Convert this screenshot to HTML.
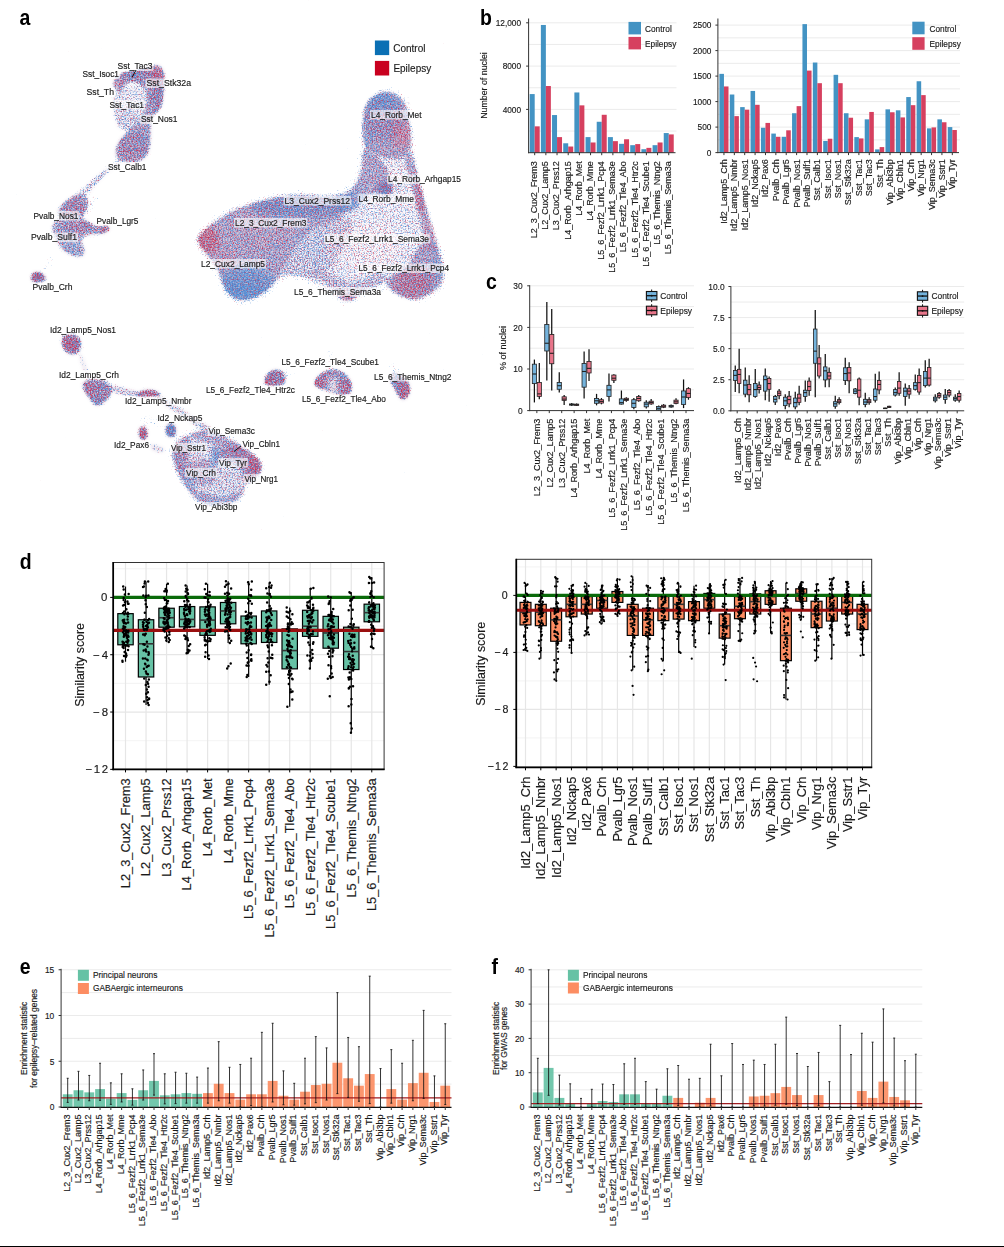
<!DOCTYPE html>
<html><head><meta charset="utf-8"><title>Figure</title>
<style>html,body{margin:0;padding:0;background:#fff}svg{display:block}text{font-family:"Liberation Sans",sans-serif;fill:#1a1a1a;stroke:#1a1a1a;stroke-width:.16px}</style></head>
<body>
<svg width="1004" height="1247" viewBox="0 0 1004 1247">
<rect width="1004" height="1247" fill="#fff"/>
<defs><filter id="b2" filterUnits="userSpaceOnUse" x="0" y="0" width="502" height="545"><feGaussianBlur stdDeviation="1.4"/></filter><filter id="b4" filterUnits="userSpaceOnUse" x="0" y="0" width="502" height="545"><feGaussianBlur stdDeviation="3.2"/></filter>
<filter id="spR" filterUnits="userSpaceOnUse" x="0" y="0" width="502" height="545" color-interpolation-filters="sRGB"><feTurbulence type="fractalNoise" baseFrequency="0.72" numOctaves="2" seed="3" result="n"/><feColorMatrix in="n" type="matrix" values="0 0 0 0 0 0 0 0 0 0 0 0 0 0 0 1 0 0 0 0" result="na"/><feComposite in="na" in2="SourceGraphic" operator="arithmetic" k1="0" k2="1" k3="0.83" k4="-0.88" result="s"/><feColorMatrix in="s" type="matrix" values="0 0 0 0 0.8 0 0 0 0 0.19 0 0 0 0 0.33 0 0 0 2.5 0"/><feGaussianBlur stdDeviation="0.45"/></filter>
<filter id="spB" filterUnits="userSpaceOnUse" x="0" y="0" width="502" height="545" color-interpolation-filters="sRGB"><feTurbulence type="fractalNoise" baseFrequency="0.72" numOctaves="2" seed="11" result="n"/><feColorMatrix in="n" type="matrix" values="0 0 0 0 0 0 0 0 0 0 0 0 0 0 0 1 0 0 0 0" result="na"/><feComposite in="na" in2="SourceGraphic" operator="arithmetic" k1="0" k2="1" k3="0.83" k4="-0.88" result="s"/><feColorMatrix in="s" type="matrix" values="0 0 0 0 0.3 0 0 0 0 0.55 0 0 0 0 0.84 0 0 0 2.5 0"/><feGaussianBlur stdDeviation="0.45"/></filter>
<mask id="mR" maskUnits="userSpaceOnUse" x="0" y="0" width="502" height="545"><rect width="502" height="545" fill="#7c7c7c"/><g filter="url(#b4)">
<ellipse cx="157.45" cy="72.87" rx="7.67" ry="8.76" fill="#fff" opacity="0.16"/>
<ellipse cx="117.61" cy="82.83" rx="6.14" ry="4.82" fill="#fff" opacity="0.16"/>
<ellipse cx="131.55" cy="73.86" rx="8.76" ry="5.48" fill="#000" opacity="0.09"/>
<ellipse cx="157.45" cy="99.76" rx="5.48" ry="10.96" fill="#000" opacity="0.05"/>
<ellipse cx="131.55" cy="151.55" rx="10.96" ry="8.76" fill="#fff" opacity="0.05"/>
<ellipse cx="143.51" cy="135.62" rx="6.57" ry="10.96" fill="#000" opacity="0.05"/>
<ellipse cx="104.82" cy="229.76" rx="5.26" ry="4.38" fill="#fff" opacity="0.24"/>
<ellipse cx="73.75" cy="206.65" rx="10.52" ry="8.76" fill="#fff" opacity="0.05"/>
<ellipse cx="72.15" cy="249.68" rx="8.76" ry="7.01" fill="#000" opacity="0.12"/>
<ellipse cx="80.12" cy="227.37" rx="10.52" ry="5.26" fill="#fff" opacity="0.07"/>
<ellipse cx="62.59" cy="225.78" rx="7.01" ry="5.26" fill="#000" opacity="0.05"/>
<ellipse cx="34.7" cy="276.14" rx="4.21" ry="3.51" fill="#fff" opacity="0.39"/>
<ellipse cx="41.55" cy="280.28" rx="4.38" ry="2.1" fill="#000" opacity="0.35"/>
<ellipse cx="204.79" cy="240.01" rx="14.79" ry="14.79" fill="#fff" opacity="0.24"/>
<ellipse cx="243.79" cy="284.38" rx="31.06" ry="19.23" fill="#000" opacity="0.24"/>
<ellipse cx="242.44" cy="292.45" rx="20.71" ry="8.28" fill="#000" opacity="0.14"/>
<ellipse cx="302.95" cy="206.4" rx="50.29" ry="11.83" fill="#000" opacity="0.14"/>
<ellipse cx="351.36" cy="198.33" rx="17.75" ry="11.83" fill="#000" opacity="0.12"/>
<ellipse cx="257.23" cy="230.6" rx="35.5" ry="14.79" fill="#fff" opacity="0.03"/>
<ellipse cx="224.96" cy="262.87" rx="11.83" ry="14.79" fill="#fff" opacity="0.07"/>
<ellipse cx="319.08" cy="246.73" rx="23.67" ry="17.75" fill="#000" opacity="0.05"/>
<ellipse cx="381.18" cy="102.14" rx="18.27" ry="12.18" fill="#000" opacity="0.19"/>
<ellipse cx="401.48" cy="135.35" rx="10.15" ry="14.21" fill="#fff" opacity="0.15"/>
<ellipse cx="368.27" cy="135.35" rx="7.1" ry="16.24" fill="#000" opacity="0.07"/>
<ellipse cx="383.95" cy="188.86" rx="8.12" ry="6.09" fill="#000" opacity="0.1"/>
<ellipse cx="419.93" cy="198.08" rx="5.07" ry="18.27" fill="#fff" opacity="0.17"/>
<ellipse cx="429.15" cy="233.14" rx="6.09" ry="16.24" fill="#fff" opacity="0.09"/>
<ellipse cx="410.7" cy="282.95" rx="18.27" ry="16.24" fill="#fff" opacity="0.13"/>
<ellipse cx="437.45" cy="268.19" rx="5.07" ry="14.21" fill="#000" opacity="0.14"/>
<ellipse cx="346.13" cy="296.79" rx="9.13" ry="4.46" fill="#fff" opacity="0.17"/>
<ellipse cx="364.58" cy="246.05" rx="40.59" ry="24.35" fill="#fff" opacity="0.09"/>
<ellipse cx="395.94" cy="172.25" rx="12.18" ry="14.21" fill="#fff" opacity="0.05"/>
<ellipse cx="386.72" cy="288.49" rx="6.09" ry="8.12" fill="#000" opacity="0.05"/>
<ellipse cx="69.88" cy="343.62" rx="6.85" ry="8.22" fill="#fff" opacity="0.16"/>
<ellipse cx="78.6" cy="341.13" rx="2.74" ry="6.85" fill="#000" opacity="0.17"/>
<ellipse cx="88.56" cy="389.68" rx="6.85" ry="9.59" fill="#fff" opacity="0.1"/>
<ellipse cx="98.52" cy="400.89" rx="5.48" ry="5.48" fill="#000" opacity="0.17"/>
<ellipse cx="103.5" cy="387.19" rx="6.85" ry="5.48" fill="#000" opacity="0.03"/>
<ellipse cx="148.32" cy="392.67" rx="10.96" ry="4.11" fill="#fff" opacity="0.21"/>
<ellipse cx="204.34" cy="425.79" rx="6.85" ry="4.11" fill="#fff" opacity="0.09"/>
<ellipse cx="142.59" cy="433.26" rx="4.93" ry="6.85" fill="#fff" opacity="0.32"/>
<ellipse cx="152.05" cy="447.45" rx="2.19" ry="2.19" fill="#fff" opacity="0.32"/>
<ellipse cx="170.73" cy="430.77" rx="6.03" ry="8.22" fill="#000" opacity="0.32"/>
<ellipse cx="254.14" cy="465.63" rx="8.22" ry="10.96" fill="#fff" opacity="0.17"/>
<ellipse cx="215.55" cy="456.91" rx="4.11" ry="9.59" fill="#000" opacity="0.26"/>
<ellipse cx="186.91" cy="481.81" rx="8.22" ry="10.96" fill="#000" opacity="0.09"/>
<ellipse cx="219.28" cy="501.73" rx="16.43" ry="5.48" fill="#000" opacity="0.07"/>
<ellipse cx="239.2" cy="449.44" rx="10.96" ry="6.85" fill="#fff" opacity="0.09"/>
<ellipse cx="191.89" cy="461.89" rx="10.96" ry="6.85" fill="#fff" opacity="0.07"/>
<ellipse cx="244.18" cy="481.81" rx="5.48" ry="8.22" fill="#fff" opacity="0.09"/>
<ellipse cx="179.44" cy="449.44" rx="6.85" ry="10.96" fill="#fff" opacity="0.05"/>
<ellipse cx="266.35" cy="382.38" rx="4.54" ry="5.04" fill="#fff" opacity="0.26"/>
<ellipse cx="276.66" cy="377.8" rx="6.3" ry="6.3" fill="#000" opacity="0.07"/>
<ellipse cx="274.36" cy="385.36" rx="10.08" ry="2.02" fill="#fff" opacity="0.14"/>
<ellipse cx="316.75" cy="383.07" rx="4.54" ry="5.04" fill="#fff" opacity="0.28"/>
<ellipse cx="345.38" cy="386.96" rx="7.56" ry="8.82" fill="#fff" opacity="0.09"/>
<ellipse cx="340.8" cy="378.95" rx="7.56" ry="6.3" fill="#000" opacity="0.05"/>
<ellipse cx="325.91" cy="377.8" rx="6.3" ry="5.04" fill="#fff" opacity="0.07"/>
<ellipse cx="406.09" cy="391.55" rx="5.04" ry="8.82" fill="#fff" opacity="0.23"/>
<ellipse cx="395.78" cy="380.09" rx="5.04" ry="6.3" fill="#000" opacity="0.09"/>
<ellipse cx="84.9" cy="244.9" rx="4.18" ry="6.69" fill="#000" opacity="0.22"/>
<ellipse cx="333.47" cy="384.67" rx="5.29" ry="9.62" fill="#000" opacity="0.41"/>
<ellipse cx="38.37" cy="277.09" rx="7.97" ry="6.06" fill="#fff" opacity="0.33"/>
<ellipse cx="104.82" cy="229.76" rx="5.58" ry="4.46" fill="#fff" opacity="0.26"/>
<ellipse cx="73.75" cy="205.86" rx="12.75" ry="9.56" fill="#fff" opacity="0.16"/>
<ellipse cx="76.93" cy="226.57" rx="17.53" ry="6.37" fill="#fff" opacity="0.16"/>
<ellipse cx="274.36" cy="377.8" rx="12.6" ry="10.31" fill="#fff" opacity="0.26"/>
<ellipse cx="319.04" cy="383.53" rx="6.87" ry="8.02" fill="#fff" opacity="0.26"/>
<ellipse cx="346.53" cy="386.96" rx="8.02" ry="10.31" fill="#fff" opacity="0.23"/>
<ellipse cx="402.66" cy="389.26" rx="9.16" ry="12.6" fill="#fff" opacity="0.26"/>
<ellipse cx="331.64" cy="372.07" rx="16.04" ry="5.73" fill="#fff" opacity="0.16"/>
<ellipse cx="71.13" cy="343.62" rx="11.21" ry="11.21" fill="#fff" opacity="0.26"/>
<ellipse cx="96.03" cy="392.17" rx="14.94" ry="13.7" fill="#fff" opacity="0.2"/>
<ellipse cx="148.32" cy="393.42" rx="13.7" ry="4.98" fill="#fff" opacity="0.26"/>
<ellipse cx="142.59" cy="433.26" rx="5.48" ry="7.47" fill="#fff" opacity="0.33"/>
<ellipse cx="170.73" cy="430.77" rx="5.98" ry="7.97" fill="#fff" opacity="0.33"/>
<ellipse cx="254.14" cy="465.63" rx="8.72" ry="11.21" fill="#fff" opacity="0.23"/>
<ellipse cx="179.44" cy="464.38" rx="7.47" ry="17.43" fill="#fff" opacity="0.13"/>
<ellipse cx="234.22" cy="451.93" rx="17.43" ry="7.47" fill="#fff" opacity="0.13"/>
<ellipse cx="139.52" cy="73.86" rx="25.9" ry="7.97" fill="#fff" opacity="0.2"/>
<ellipse cx="157.45" cy="95.78" rx="7.97" ry="19.92" fill="#fff" opacity="0.2"/>
<ellipse cx="133.55" cy="145.58" rx="17.93" ry="15.94" fill="#fff" opacity="0.13"/>
<ellipse cx="384.87" cy="188.86" rx="8.3" ry="6.46" fill="#fff" opacity="0.29"/>
<ellipse cx="383.03" cy="116.9" rx="20.3" ry="22.14" fill="#fff" opacity="0.13"/>
<ellipse cx="419.93" cy="199.93" rx="4.61" ry="14.76" fill="#fff" opacity="0.2"/>
<ellipse cx="414.39" cy="281.11" rx="20.3" ry="16.61" fill="#fff" opacity="0.13"/>
<ellipse cx="297.57" cy="206.4" rx="48.41" ry="9.41" fill="#fff" opacity="0.16"/>
<ellipse cx="243.79" cy="287.07" rx="26.89" ry="13.45" fill="#fff" opacity="0.13"/>
<ellipse cx="206.14" cy="240.01" rx="12.1" ry="12.1" fill="#fff" opacity="0.13"/>
</g></mask>
<mask id="mB" maskUnits="userSpaceOnUse" x="0" y="0" width="502" height="545"><rect width="502" height="545" fill="#a0a0a0"/><g filter="url(#b4)">
<ellipse cx="157.45" cy="72.87" rx="7.67" ry="8.76" fill="#000" opacity="0.16"/>
<ellipse cx="117.61" cy="82.83" rx="6.14" ry="4.82" fill="#000" opacity="0.16"/>
<ellipse cx="131.55" cy="73.86" rx="8.76" ry="5.48" fill="#fff" opacity="0.09"/>
<ellipse cx="157.45" cy="99.76" rx="5.48" ry="10.96" fill="#fff" opacity="0.05"/>
<ellipse cx="131.55" cy="151.55" rx="10.96" ry="8.76" fill="#000" opacity="0.05"/>
<ellipse cx="143.51" cy="135.62" rx="6.57" ry="10.96" fill="#fff" opacity="0.05"/>
<ellipse cx="104.82" cy="229.76" rx="5.26" ry="4.38" fill="#000" opacity="0.24"/>
<ellipse cx="73.75" cy="206.65" rx="10.52" ry="8.76" fill="#000" opacity="0.05"/>
<ellipse cx="72.15" cy="249.68" rx="8.76" ry="7.01" fill="#fff" opacity="0.12"/>
<ellipse cx="80.12" cy="227.37" rx="10.52" ry="5.26" fill="#000" opacity="0.07"/>
<ellipse cx="62.59" cy="225.78" rx="7.01" ry="5.26" fill="#fff" opacity="0.05"/>
<ellipse cx="34.7" cy="276.14" rx="4.21" ry="3.51" fill="#000" opacity="0.39"/>
<ellipse cx="41.55" cy="280.28" rx="4.38" ry="2.1" fill="#fff" opacity="0.35"/>
<ellipse cx="204.79" cy="240.01" rx="14.79" ry="14.79" fill="#000" opacity="0.24"/>
<ellipse cx="243.79" cy="284.38" rx="31.06" ry="19.23" fill="#fff" opacity="0.24"/>
<ellipse cx="242.44" cy="292.45" rx="20.71" ry="8.28" fill="#fff" opacity="0.14"/>
<ellipse cx="302.95" cy="206.4" rx="50.29" ry="11.83" fill="#fff" opacity="0.14"/>
<ellipse cx="351.36" cy="198.33" rx="17.75" ry="11.83" fill="#fff" opacity="0.12"/>
<ellipse cx="257.23" cy="230.6" rx="35.5" ry="14.79" fill="#000" opacity="0.03"/>
<ellipse cx="224.96" cy="262.87" rx="11.83" ry="14.79" fill="#000" opacity="0.07"/>
<ellipse cx="319.08" cy="246.73" rx="23.67" ry="17.75" fill="#fff" opacity="0.05"/>
<ellipse cx="381.18" cy="102.14" rx="18.27" ry="12.18" fill="#fff" opacity="0.19"/>
<ellipse cx="401.48" cy="135.35" rx="10.15" ry="14.21" fill="#000" opacity="0.15"/>
<ellipse cx="368.27" cy="135.35" rx="7.1" ry="16.24" fill="#fff" opacity="0.07"/>
<ellipse cx="383.95" cy="188.86" rx="8.12" ry="6.09" fill="#fff" opacity="0.1"/>
<ellipse cx="419.93" cy="198.08" rx="5.07" ry="18.27" fill="#000" opacity="0.17"/>
<ellipse cx="429.15" cy="233.14" rx="6.09" ry="16.24" fill="#000" opacity="0.09"/>
<ellipse cx="410.7" cy="282.95" rx="18.27" ry="16.24" fill="#000" opacity="0.13"/>
<ellipse cx="437.45" cy="268.19" rx="5.07" ry="14.21" fill="#fff" opacity="0.14"/>
<ellipse cx="346.13" cy="296.79" rx="9.13" ry="4.46" fill="#000" opacity="0.17"/>
<ellipse cx="364.58" cy="246.05" rx="40.59" ry="24.35" fill="#000" opacity="0.09"/>
<ellipse cx="395.94" cy="172.25" rx="12.18" ry="14.21" fill="#000" opacity="0.05"/>
<ellipse cx="386.72" cy="288.49" rx="6.09" ry="8.12" fill="#fff" opacity="0.05"/>
<ellipse cx="69.88" cy="343.62" rx="6.85" ry="8.22" fill="#000" opacity="0.16"/>
<ellipse cx="78.6" cy="341.13" rx="2.74" ry="6.85" fill="#fff" opacity="0.17"/>
<ellipse cx="88.56" cy="389.68" rx="6.85" ry="9.59" fill="#000" opacity="0.1"/>
<ellipse cx="98.52" cy="400.89" rx="5.48" ry="5.48" fill="#fff" opacity="0.17"/>
<ellipse cx="103.5" cy="387.19" rx="6.85" ry="5.48" fill="#fff" opacity="0.03"/>
<ellipse cx="148.32" cy="392.67" rx="10.96" ry="4.11" fill="#000" opacity="0.21"/>
<ellipse cx="204.34" cy="425.79" rx="6.85" ry="4.11" fill="#000" opacity="0.09"/>
<ellipse cx="142.59" cy="433.26" rx="4.93" ry="6.85" fill="#000" opacity="0.32"/>
<ellipse cx="152.05" cy="447.45" rx="2.19" ry="2.19" fill="#000" opacity="0.32"/>
<ellipse cx="170.73" cy="430.77" rx="6.03" ry="8.22" fill="#fff" opacity="0.32"/>
<ellipse cx="254.14" cy="465.63" rx="8.22" ry="10.96" fill="#000" opacity="0.17"/>
<ellipse cx="215.55" cy="456.91" rx="4.11" ry="9.59" fill="#fff" opacity="0.26"/>
<ellipse cx="186.91" cy="481.81" rx="8.22" ry="10.96" fill="#fff" opacity="0.09"/>
<ellipse cx="219.28" cy="501.73" rx="16.43" ry="5.48" fill="#fff" opacity="0.07"/>
<ellipse cx="239.2" cy="449.44" rx="10.96" ry="6.85" fill="#000" opacity="0.09"/>
<ellipse cx="191.89" cy="461.89" rx="10.96" ry="6.85" fill="#000" opacity="0.07"/>
<ellipse cx="244.18" cy="481.81" rx="5.48" ry="8.22" fill="#000" opacity="0.09"/>
<ellipse cx="179.44" cy="449.44" rx="6.85" ry="10.96" fill="#000" opacity="0.05"/>
<ellipse cx="266.35" cy="382.38" rx="4.54" ry="5.04" fill="#000" opacity="0.26"/>
<ellipse cx="276.66" cy="377.8" rx="6.3" ry="6.3" fill="#fff" opacity="0.07"/>
<ellipse cx="274.36" cy="385.36" rx="10.08" ry="2.02" fill="#000" opacity="0.14"/>
<ellipse cx="316.75" cy="383.07" rx="4.54" ry="5.04" fill="#000" opacity="0.28"/>
<ellipse cx="345.38" cy="386.96" rx="7.56" ry="8.82" fill="#000" opacity="0.09"/>
<ellipse cx="340.8" cy="378.95" rx="7.56" ry="6.3" fill="#fff" opacity="0.05"/>
<ellipse cx="325.91" cy="377.8" rx="6.3" ry="5.04" fill="#000" opacity="0.07"/>
<ellipse cx="406.09" cy="391.55" rx="5.04" ry="8.82" fill="#000" opacity="0.23"/>
<ellipse cx="395.78" cy="380.09" rx="5.04" ry="6.3" fill="#fff" opacity="0.09"/>
<ellipse cx="84.9" cy="244.9" rx="4.18" ry="6.69" fill="#000" opacity="0.22"/>
<ellipse cx="333.47" cy="384.67" rx="5.29" ry="9.62" fill="#000" opacity="0.41"/>
<ellipse cx="38.37" cy="277.09" rx="7.97" ry="6.06" fill="#fff" opacity="0.5"/>
<ellipse cx="104.82" cy="229.76" rx="5.58" ry="4.46" fill="#fff" opacity="0.4"/>
<ellipse cx="73.75" cy="205.86" rx="12.75" ry="9.56" fill="#fff" opacity="0.25"/>
<ellipse cx="76.93" cy="226.57" rx="17.53" ry="6.37" fill="#fff" opacity="0.25"/>
<ellipse cx="274.36" cy="377.8" rx="12.6" ry="10.31" fill="#fff" opacity="0.4"/>
<ellipse cx="319.04" cy="383.53" rx="6.87" ry="8.02" fill="#fff" opacity="0.4"/>
<ellipse cx="346.53" cy="386.96" rx="8.02" ry="10.31" fill="#fff" opacity="0.35"/>
<ellipse cx="402.66" cy="389.26" rx="9.16" ry="12.6" fill="#fff" opacity="0.4"/>
<ellipse cx="331.64" cy="372.07" rx="16.04" ry="5.73" fill="#fff" opacity="0.25"/>
<ellipse cx="71.13" cy="343.62" rx="11.21" ry="11.21" fill="#fff" opacity="0.4"/>
<ellipse cx="96.03" cy="392.17" rx="14.94" ry="13.7" fill="#fff" opacity="0.3"/>
<ellipse cx="148.32" cy="393.42" rx="13.7" ry="4.98" fill="#fff" opacity="0.4"/>
<ellipse cx="142.59" cy="433.26" rx="5.48" ry="7.47" fill="#fff" opacity="0.5"/>
<ellipse cx="170.73" cy="430.77" rx="5.98" ry="7.97" fill="#fff" opacity="0.5"/>
<ellipse cx="254.14" cy="465.63" rx="8.72" ry="11.21" fill="#fff" opacity="0.35"/>
<ellipse cx="179.44" cy="464.38" rx="7.47" ry="17.43" fill="#fff" opacity="0.2"/>
<ellipse cx="234.22" cy="451.93" rx="17.43" ry="7.47" fill="#fff" opacity="0.2"/>
<ellipse cx="139.52" cy="73.86" rx="25.9" ry="7.97" fill="#fff" opacity="0.3"/>
<ellipse cx="157.45" cy="95.78" rx="7.97" ry="19.92" fill="#fff" opacity="0.3"/>
<ellipse cx="133.55" cy="145.58" rx="17.93" ry="15.94" fill="#fff" opacity="0.2"/>
<ellipse cx="384.87" cy="188.86" rx="8.3" ry="6.46" fill="#fff" opacity="0.45"/>
<ellipse cx="383.03" cy="116.9" rx="20.3" ry="22.14" fill="#fff" opacity="0.2"/>
<ellipse cx="419.93" cy="199.93" rx="4.61" ry="14.76" fill="#fff" opacity="0.3"/>
<ellipse cx="414.39" cy="281.11" rx="20.3" ry="16.61" fill="#fff" opacity="0.2"/>
<ellipse cx="297.57" cy="206.4" rx="48.41" ry="9.41" fill="#fff" opacity="0.25"/>
<ellipse cx="243.79" cy="287.07" rx="26.89" ry="13.45" fill="#fff" opacity="0.2"/>
<ellipse cx="206.14" cy="240.01" rx="12.1" ry="12.1" fill="#fff" opacity="0.2"/>
</g></mask>
<mask id="mH" maskUnits="userSpaceOnUse" x="0" y="0" width="502" height="545"><rect width="502" height="545" fill="#fff"/><g filter="url(#b4)">
<ellipse cx="84.9" cy="244.9" rx="4.18" ry="6.69" fill="#000" opacity="0.22"/>
<ellipse cx="333.47" cy="384.67" rx="5.29" ry="9.62" fill="#000" opacity="0.41"/>
</g></mask>
<g id="dens" filter="url(#b2)">
<polygon points="113.75,80.96 114.5,79.72 115.56,78.41 116.92,77.04 118.61,75.61 120.6,74.11 123.09,72.87 126.08,71.87 129.56,71.13 133.55,70.63 137.28,70 140.77,69.26 144,68.39 146.99,67.39 149.73,66.54 152.22,65.85 154.46,65.3 156.45,64.9 158.3,65.2 159.99,66.2 161.53,67.89 162.93,70.28 163.9,73.07 164.45,76.25 164.57,79.84 164.27,83.82 163.96,87.81 163.64,91.79 163.3,95.78 162.95,99.76 162.26,103.25 161.21,106.24 159.82,108.73 158.07,110.72 156.45,112.58 154.96,114.33 153.59,115.95 152.35,117.44 151.41,119.06 150.79,120.8 150.48,122.67 150.48,124.66 150.48,127.15 150.48,130.14 150.48,133.63 150.48,137.61 150.29,141.34 149.92,144.83 149.36,148.07 148.61,151.06 147.55,153.7 146.18,155.99 144.5,157.93 142.51,159.52 140.27,160.78 137.78,161.7 135.04,162.29 132.05,162.53 129.19,162.51 126.45,162.21 123.83,161.64 121.34,160.79 119.29,159.66 117.67,158.24 116.49,156.53 115.74,154.54 115.49,152.3 115.74,149.81 116.49,147.07 117.73,144.08 119.41,141.1 121.53,138.11 124.08,135.12 127.07,132.13 129.81,129.39 132.3,126.9 134.54,124.66 136.53,122.67 138.38,120.55 140.07,118.31 141.61,115.95 143.01,113.46 144.23,110.97 145.27,108.48 146.15,105.99 146.84,103.5 147.24,101.01 147.34,98.52 147.14,96.03 146.64,93.54 145.87,91.27 144.83,89.23 143.51,87.41 141.91,85.82 140.22,84.5 138.43,83.45 136.53,82.68 134.54,82.18 132.67,81.93 130.93,81.93 129.31,82.18 127.82,82.68 126.51,83.35 125.39,84.2 124.46,85.22 123.71,86.41 122.96,87.51 122.22,88.51 121.47,89.4 120.72,90.2 119.85,90.7 118.85,90.9 117.73,90.8 116.49,90.4 115.43,89.66 114.56,88.59 113.87,87.19 113.38,85.44 113.19,83.82 113.31,82.33" fill="#fff" stroke="#fff" stroke-width="2" opacity="1"/>
<polygon points="124.58,87.19 130.56,85.44 135.54,85.19 139.52,86.44 142.51,89.18 144.5,93.41 145.77,97.33 146.32,100.94 146.15,104.24 145.25,107.23 143.8,110.47 141.81,113.95 139.27,117.69 136.19,121.67 133.12,124.91 130.08,127.4 127.07,129.14 124.08,130.14 121.47,129.89 119.23,128.4 117.36,125.66 115.87,121.67 114.62,117.69 113.63,113.71 112.88,109.72 112.38,105.74 112.26,102.13 112.5,98.89 113.13,96.03 114.12,93.54 116.36,91.23 119.85,89.12" fill="#fff" stroke="#fff" stroke-width="2" opacity="0.79"/>
<polygon points="120.1,159.65 121.1,160.39 120.66,161.89 118.79,164.13 115.49,167.12 110.76,170.85 106.09,174.61 101.49,178.4 96.94,182.21 92.46,186.04 88.1,189.7 83.87,193.19 79.76,196.5 75.78,199.64 72.56,201.87 70.12,203.18 68.46,203.6 67.56,203.1 67.8,201.94 69.17,200.12 71.67,197.64 75.3,194.51 79.28,191.07 83.58,187.34 88.23,183.3 93.21,178.97 98.06,174.85 102.79,170.94 107.4,167.24 111.88,163.75 115.49,161.33 118.23,159.96" fill="#fff" stroke="#fff" stroke-width="2" opacity="0.76"/>
<polygon points="121.59,106.86 125.58,107.6 129.06,108.85 132.05,110.59 134.54,112.83 136.53,115.57 137.28,118.25 136.78,120.86 135.04,123.42 132.05,125.91 129.31,127.65 126.82,128.65 124.58,128.89 122.59,128.4 120.97,127.28 119.73,125.53 118.85,123.17 118.36,120.18 117.86,117.32 117.36,114.58 116.86,111.96 116.36,109.47 116.99,107.79 118.73,106.92" fill="#fff" stroke="#fff" stroke-width="2" opacity="0.5"/>
<polygon points="105.34,170.3 106.22,170.5 106.16,171.51 105.16,173.35 103.23,176 100.36,179.46 97.71,182.72 95.28,185.77 93.07,188.61 91.08,191.24 89.18,193.35 87.39,194.94 85.7,196.02 84.1,196.57 83.46,196.18 83.75,194.82 85,192.51 87.19,189.24 89.68,185.9 92.47,182.47 95.56,178.96 98.94,175.38 101.7,172.74 103.83,171.05" fill="#fff" stroke="#fff" stroke-width="2" opacity="0.76"/>
<polygon points="59.9,207.65 61.29,205.66 62.99,203.74 64.98,201.88 67.27,200.1 69.86,198.39 72.4,196.98 74.89,195.89 77.33,195.1 79.72,194.62 81.83,194.66 83.67,195.22 85.22,196.29 86.49,197.89 87.28,199.78 87.58,201.97 87.39,204.46 86.71,207.25 85.96,209.79 85.12,212.08 84.2,214.12 83.21,215.92 80.97,217.16 77.48,217.86 72.75,218.01 66.77,217.61 62.29,216.91 59.3,215.92 57.81,214.62 57.81,213.03 58.16,211.33 58.85,209.54" fill="#fff" stroke="#fff" stroke-width="2" opacity="1"/>
<polygon points="54.32,222.29 55.72,220.5 58.36,219.15 62.24,218.26 67.37,217.81 73.75,217.81 79.12,218.26 83.51,219.15 86.89,220.5 89.28,222.29 91.47,223.71 93.47,224.74 95.26,225.4 96.85,225.68 98.65,225.82 100.64,225.82 102.83,225.68 105.22,225.4 107.09,225.49 108.45,225.95 109.28,226.77 109.6,227.97 109.46,229.13 108.86,230.27 107.81,231.37 106.29,232.45 104.46,233.26 102.31,233.79 99.84,234.06 97.05,234.06 94.46,234.16 92.07,234.36 89.88,234.66 87.89,235.06 86.15,235.64 84.65,236.39 83.41,237.33 82.41,238.45 81.93,239.88 81.97,241.63 82.53,243.71 83.61,246.1 84.31,248.29 84.65,250.28 84.62,252.07 84.22,253.67 83.51,254.94 82.47,255.9 81.12,256.53 79.44,256.85 77.59,256.83 75.56,256.47 73.35,255.78 70.96,254.74 68.76,253.67 66.77,252.55 64.98,251.39 63.39,250.2 61.89,248.78 60.5,247.15 59.2,245.3 58.01,243.23 56.89,241.18 55.86,239.14 54.9,237.13 54.02,235.14 53.34,233.2 52.84,231.3 52.53,229.46 52.41,227.67 52.67,225.88 53.31,224.08" fill="#fff" stroke="#fff" stroke-width="2" opacity="1"/>
<polygon points="90.28,196.89 93.86,195.7 96.16,195.9 97.15,197.49 96.85,200.48 95.26,204.86 93.67,208.55 92.07,211.53 90.48,213.82 88.88,215.42 87.59,216.12 86.59,215.92 85.9,214.82 85.5,212.83 85.2,210.64 85,208.25 84.9,205.66 84.9,202.87 85.8,200.48 87.59,198.49" fill="#fff" stroke="#fff" stroke-width="2" opacity="0.49"/>
<polygon points="32.11,274.48 32.83,273.49 33.72,272.74 34.77,272.24 36,271.99 37.39,271.99 38.8,272.27 40.24,272.83 41.69,273.67 43.17,274.78 44.3,275.84 45.1,276.83 45.56,277.77 45.68,278.65 45.42,279.45 44.78,280.19 43.76,280.86 42.37,281.45 40.93,281.93 39.43,282.29 37.89,282.53 36.29,282.65 34.95,282.56 33.85,282.26 33.01,281.75 32.41,281.04 31.93,280.25 31.57,279.39 31.33,278.47 31.22,277.47 31.3,276.47 31.6,275.48" fill="#fff" stroke="#fff" stroke-width="2" opacity="1"/>
<polygon points="52.23,257.25 53.82,258.05 54.32,259.44 53.73,261.43 52.03,264.02 49.24,267.21 46.75,269.5 44.56,270.9 42.67,271.39 41.08,271 40.58,269.8 41.18,267.81 42.87,265.02 45.66,261.43 48.15,258.94 50.34,257.55" fill="#fff" stroke="#fff" stroke-width="2" opacity="0.46"/>
<polygon points="199.85,235.81 201.93,233.19 204.42,230.56 207.31,227.94 210.61,225.32 214.3,222.7 218.02,220.18 221.75,217.76 225.5,215.44 229.26,213.22 233.48,211.08 238.15,209.03 243.28,207.07 248.86,205.18 254.44,203.45 260.02,201.87 265.6,200.45 271.18,199.17 276.78,198.06 282.39,197.12 288.02,196.34 293.67,195.74 299.64,195.5 305.92,195.64 312.53,196.14 319.45,197.02 325.82,197.34 331.64,197.1 336.9,196.31 341.61,194.97 345.98,192.78 350.01,189.76 353.71,185.89 357.07,181.18 359.76,176.31 361.78,171.27 363.12,166.06 363.79,160.68 364.3,155.13 364.63,149.42 364.8,143.53 364.8,137.48 364.97,131.6 365.31,125.89 365.81,120.34 366.48,114.96 367.66,110.17 369.34,105.97 371.52,102.35 374.21,99.33 376.9,96.86 379.59,94.94 382.28,93.58 384.97,92.77 387.83,92.59 390.85,93.03 394.05,94.08 397.41,95.77 400.38,98.07 402.97,100.99 405.17,104.54 406.99,108.71 408.43,113.51 409.51,118.96 410.22,125.05 410.55,131.77 410.97,138.32 411.48,144.71 412.07,150.93 412.74,156.98 413.58,162.86 414.59,168.58 415.76,174.12 417.11,179.5 418.45,184.71 419.8,189.76 421.14,194.63 422.49,199.34 423.83,204.04 425.18,208.75 426.52,213.45 427.86,218.16 429.38,223.03 431.06,228.08 432.91,233.29 434.92,238.67 436.86,244.04 438.71,249.42 440.47,254.8 442.15,260.18 443.24,265.22 443.75,269.93 443.66,274.3 442.99,278.33 441.53,282.06 439.28,285.49 436.24,288.62 432.4,291.44 428.52,293.73 424.59,295.48 420.6,296.69 416.57,297.36 412.54,297.53 408.5,297.19 404.47,296.35 400.43,295.01 396.74,293.21 393.38,290.96 390.35,288.25 387.66,285.09 385.14,283.17 382.79,282.5 380.6,283.07 378.58,284.89 376.23,286.59 373.54,288.17 370.52,289.63 367.15,290.97 363.96,292.42 360.94,293.96 358.08,295.61 355.39,297.36 352.7,298.67 350.01,299.54 347.32,299.98 344.63,299.98 341.94,299.38 339.25,298.17 336.56,296.35 333.88,293.93 331.02,291.61 327.99,289.39 324.8,287.27 321.44,285.26 317.74,283.24 313.71,281.22 309.34,279.21 304.63,277.19 299.97,275.76 295.37,274.92 290.81,274.67 286.31,275 282.56,275.73 279.57,276.84 277.33,278.33 275.85,280.22 274.19,282.18 272.34,284.23 270.31,286.37 268.09,288.59 265.67,290.64 263.05,292.52 260.22,294.23 257.2,295.78 254.19,297.07 251.2,298.12 248.22,298.91 245.26,299.44 242.49,299.61 239.9,299.41 237.5,298.84 235.28,297.9 233.15,296.64 231.1,295.06 229.13,293.16 227.25,290.94 225.55,288.33 224.04,285.34 222.71,281.96 221.57,278.2 220.24,274.63 218.72,271.27 217.03,268.11 215.14,265.16 213.18,262.28 211.13,259.49 208.99,256.78 206.77,254.16 204.69,251.54 202.74,248.92 200.93,246.3 199.24,243.67 198.5,241.05 198.71,238.43" fill="#fff" stroke="#fff" stroke-width="2" opacity="0.6"/>
<polygon points="195.88,234.09 198.37,230.33 201.24,226.83 204.51,223.61 208.15,220.65 212.19,217.96 216.22,215.39 220.25,212.93 224.29,210.6 228.32,208.38 232.78,206.24 237.65,204.19 242.94,202.23 248.66,200.34 254.34,198.61 259.99,197.03 265.6,195.6 271.18,194.33 276.78,193.22 282.39,192.28 288.02,191.5 293.67,190.9 299.64,190.63 305.92,190.7 312.53,191.1 319.45,191.84 325.66,192.06 331.14,191.76 335.89,190.93 339.93,189.59 343.71,187.57 347.24,184.88 350.51,181.52 353.54,177.49 355.93,171.77 357.68,164.38 358.78,155.3 359.26,144.54 359.83,134.96 360.5,126.56 361.27,119.33 362.15,113.28 363.73,107.82 366.01,102.94 369,98.66 372.7,94.96 376.23,92.02 379.59,89.83 382.79,88.4 385.81,87.73 389.09,87.73 392.62,88.4 396.4,89.75 400.43,91.77 403.96,94.54 406.99,98.07 409.51,102.35 411.53,107.4 413.16,114.37 414.4,123.28 415.26,134.12 415.73,146.9 416.89,159 418.74,170.43 421.28,181.18 424.5,191.27 428.13,202.7 432.17,215.47 436.6,229.59 441.45,245.05 444.91,257.91 446.99,268.16 447.7,275.81 447.03,280.85 445.4,285.43 442.81,289.53 439.26,293.16 434.76,296.32 430.2,298.82 425.6,300.67 420.94,301.86 416.23,302.4 411.11,301.88 405.56,300.3 399.59,297.66 393.21,293.96 386.4,292.2 379.17,292.37 371.52,294.47 363.46,298.5 356.65,301.53 351.1,303.54 346.82,304.55 343.79,304.55 340.09,303.46 335.72,301.28 330.68,298 324.97,293.63 319.5,289.85 314.29,286.65 309.34,284.05 304.63,282.03 300.09,280.69 295.72,280.01 291.52,280.01 287.49,280.69 283.62,282.11 279.92,284.3 276.39,287.24 273.03,290.94 269.59,294.13 266.06,296.82 262.44,299.01 258.74,300.69 255.13,302.08 251.6,303.19 248.16,304.02 244.79,304.55 241.6,304.69 238.57,304.42 235.72,303.75 233.03,302.67 230.46,301.24 228,299.46 225.67,297.33 223.45,294.84 221.5,291.96 219.82,288.7 218.41,285.06 217.26,281.02 215.95,277.32 214.47,273.96 212.83,270.94 211.01,268.25 209.04,265.47 206.93,262.62 204.66,259.68 202.24,256.65 200.02,253.61 198,250.55 196.19,247.47 194.57,244.38 193.98,241.12 194.42,237.69" fill="#fff" stroke="#fff" stroke-width="2" opacity="0.49"/>
<polygon points="199.85,235.81 201.93,233.19 204.42,230.56 207.31,227.94 210.61,225.32 214.3,222.7 218.02,220.18 221.75,217.76 225.5,215.44 229.26,213.22 233.48,211.08 238.15,209.03 243.28,207.07 248.86,205.18 254.44,203.45 260.02,201.87 265.6,200.45 271.18,199.17 276.78,198.06 282.39,197.12 288.02,196.34 293.67,195.74 299.64,195.47 305.92,195.54 312.53,195.94 319.45,196.68 325.82,196.93 331.64,196.7 336.9,195.97 341.61,194.76 345.56,193.77 348.75,193 351.19,192.44 352.87,192.11 353.71,192.61 353.71,193.96 352.87,196.14 351.19,199.17 349.36,202.45 347.37,205.97 345.24,209.76 342.95,213.79 340.3,217.02 337.27,219.44 333.88,221.05 330.11,221.86 326.36,222.87 322.63,224.08 318.92,225.49 315.22,227.1 311.87,228.95 308.88,231.04 306.24,233.35 303.96,235.91 301.69,238.57 299.44,241.32 297.2,244.18 294.98,247.14 292.95,250.11 291.1,253.1 289.44,256.11 287.96,259.14 286.46,262.15 284.95,265.14 283.42,268.11 281.87,271.07 280.34,273.76 278.83,276.18 277.33,278.33 275.85,280.22 274.19,282.18 272.34,284.23 270.31,286.37 268.09,288.59 265.67,290.64 263.05,292.52 260.22,294.23 257.2,295.78 254.19,297.07 251.2,298.12 248.22,298.91 245.26,299.44 242.49,299.61 239.9,299.41 237.5,298.84 235.28,297.9 233.15,296.64 231.1,295.06 229.13,293.16 227.25,290.94 225.55,288.33 224.04,285.34 222.71,281.96 221.57,278.2 220.24,274.63 218.72,271.27 217.03,268.11 215.14,265.16 213.18,262.28 211.13,259.49 208.99,256.78 206.77,254.16 204.69,251.54 202.74,248.92 200.93,246.3 199.24,243.67 198.5,241.05 198.71,238.43" fill="#fff" stroke="#fff" stroke-width="2" opacity="1"/>
<polygon points="315.22,227.1 318.92,225.49 322.63,224.08 326.36,222.87 330.11,221.86 333.88,221.05 337.61,220.28 341.3,219.54 344.97,218.83 348.6,218.16 350.9,219.17 351.88,221.86 351.52,226.23 349.84,232.28 347.66,238.33 344.97,244.38 341.77,250.43 338.08,256.48 334.3,261.95 330.43,266.82 326.48,271.11 322.45,274.8 318.24,277.19 313.87,278.27 309.34,278.03 304.63,276.48 300.09,275.41 295.72,274.8 291.52,274.67 287.49,275 284.73,274.52 283.25,273.21 283.05,271.07 284.12,268.11 285.3,265.14 286.58,262.15 287.96,259.14 289.44,256.11 291.1,253.1 292.95,250.11 294.98,247.14 297.2,244.18 299.44,241.32 301.69,238.57 303.96,235.91 306.24,233.35 308.88,231.04 311.87,228.95" fill="#fff" stroke="#fff" stroke-width="2" opacity="0.71"/>
<polygon points="366.65,104.22 368.04,101.91 369.76,99.78 371.84,97.82 374.26,96.03 377.03,94.41 379.8,93.24 382.56,92.5 385.33,92.2 388.1,92.34 390.75,92.81 393.29,93.62 395.71,94.76 398.02,96.24 400.09,98.04 401.94,100.16 403.55,102.6 404.94,105.37 406.11,108.48 407.08,111.94 407.84,115.75 408.39,119.9 408.93,123.93 409.43,127.86 409.92,131.66 410.38,135.35 410.61,138.83 410.61,142.11 410.38,145.18 409.92,148.04 408.97,150.53 407.54,152.65 405.63,154.4 403.23,155.78 400.62,156.82 397.81,157.51 394.79,157.86 391.56,157.86 388.33,157.63 385.1,157.17 381.87,156.48 378.64,155.55 375.65,154.4 372.88,153.02 370.34,151.4 368.04,149.56 366.19,147.23 364.81,144.41 363.88,141.12 363.42,137.33 363.13,133.57 363.02,129.84 363.08,126.13 363.31,122.44 363.54,119.09 363.77,116.09 364,113.44 364.23,111.13 364.75,108.83 365.56,106.52" fill="#fff" stroke="#fff" stroke-width="2" opacity="1"/>
<polygon points="368.27,151.38 371.96,153.45 375.3,155.76 378.3,158.3 380.95,161.07 383.26,164.06 385.33,167.23 387.18,170.58 388.79,174.1 390.18,177.79 391.24,181.15 391.97,184.2 392.39,186.92 392.48,189.32 391.95,191.23 390.8,192.66 389.02,193.61 386.62,194.07 384.25,194.18 381.9,193.95 379.57,193.38 377.26,192.45 374.9,192.22 372.47,192.68 370,193.84 367.46,195.68 365.04,197.76 362.73,200.06 360.54,202.6 358.46,205.37 356.1,207.68 353.45,209.52 350.51,210.9 347.28,211.83 344.51,212.06 342.2,211.6 340.36,210.44 338.98,208.6 338.75,206.41 339.67,203.87 341.74,200.99 344.97,197.76 347.97,194.53 350.74,191.3 353.27,188.07 355.58,184.84 357.54,181.48 359.16,177.97 360.42,174.33 361.35,170.54 362.04,166.67 362.5,162.7 362.73,158.64 362.73,154.49 363.65,151.9 365.5,150.86" fill="#fff" stroke="#fff" stroke-width="2" opacity="1"/>
<polygon points="380.95,184.13 383.26,183.44 385.33,183.21 387.18,183.44 388.79,184.13 390.18,185.28 391.19,186.55 391.84,187.93 392.11,189.43 392.02,191.05 391.4,192.34 390.24,193.31 388.56,193.95 386.35,194.28 384.32,194.32 382.47,194.09 380.81,193.58 379.34,192.8 378.25,191.81 377.56,190.61 377.26,189.2 377.35,187.59 378,186.2 379.2,185.05" fill="#fff" stroke="#fff" stroke-width="2" opacity="1"/>
<polygon points="406.43,153.45 408.51,153.22 410.3,154.03 411.8,155.88 413.01,158.76 413.93,162.68 414.89,166.54 415.88,170.35 416.9,174.1 417.97,177.79 418.99,181.48 419.98,185.17 420.94,188.86 421.86,192.55 422.81,196.24 423.78,199.93 424.77,203.62 425.78,207.31 426.85,211 427.95,214.69 429.11,218.38 430.3,222.07 431.46,225.76 432.56,229.45 433.63,233.14 434.64,236.83 435.6,240.4 436.5,243.86 437.34,247.2 438.12,250.43 438.08,252.62 437.2,253.78 435.49,253.89 432.96,252.97 430.73,251.47 428.82,249.4 427.21,246.74 425.92,243.51 424.82,240.17 423.89,236.71 423.15,233.14 422.6,229.45 421.96,225.76 421.22,222.07 420.39,218.38 419.46,214.69 418.52,210.88 417.55,206.96 416.56,202.92 415.54,198.77 414.46,194.39 413.31,189.78 412.08,184.94 410.79,179.86 409.48,174.9 408.14,170.06 406.78,165.33 405.4,160.72 404.88,157.2 405.22,154.78" fill="#fff" stroke="#fff" stroke-width="2" opacity="1"/>
<polygon points="390.18,277.42 392.48,275.94 395.13,274.26 398.13,272.37 401.48,270.27 405.17,267.96 408.39,265.14 411.16,261.79 413.47,257.93 415.31,253.55 417.39,249.65 419.7,246.24 422.23,243.31 425,240.86 427.56,239.58 429.91,239.47 432.06,240.52 433.99,242.73 435.86,246.12 437.66,250.69 439.39,256.43 441.05,263.35 442.11,269.25 442.57,274.14 442.44,278.02 441.7,280.88 440.43,283.6 438.63,286.18 436.3,288.63 433.44,290.93 430.37,293.01 427.1,294.85 423.62,296.47 419.93,297.85 416.24,298.66 412.55,298.89 408.86,298.54 405.17,297.62 401.71,296.35 398.48,294.74 395.48,292.78 392.71,290.47 390.52,288.28 388.91,286.2 387.87,284.24 387.41,282.4 387.64,280.65 388.56,278.99" fill="#fff" stroke="#fff" stroke-width="2" opacity="1"/>
<polygon points="317.3,278.34 321.45,280.18 325.14,282.17 328.37,284.29 331.13,286.55 333.44,288.95 335.42,291.21 337.08,293.33 338.42,295.31 339.44,297.16 340.89,298.6 342.78,299.64 345.11,300.27 347.88,300.5 350.53,300.16 353.07,299.23 355.49,297.74 357.8,295.66 360.31,293.76 363.03,292.03 365.96,290.47 369.1,289.09 372.28,287.59 375.51,285.97 378.78,284.24 382.1,282.4 384.23,280.53 385.15,278.64 384.87,276.73 383.39,274.79 381.25,273.85 378.44,273.92 374.95,275 370.8,277.07 366.54,278.86 362.15,280.36 357.66,281.57 353.04,282.49 348.43,282.55 343.82,281.74 339.21,280.07 334.59,277.53 330.33,275.17 326.41,272.98 322.83,270.96 319.6,269.11 316.95,268.31 314.88,268.54 313.38,269.81 312.45,272.11 312.8,274.3 314.41,276.38" fill="#fff" stroke="#fff" stroke-width="2" opacity="0.8"/>
<polygon points="339.21,296.24 340.13,297.71 341.46,298.88 343.18,299.73 345.32,300.27 347.86,300.5 350.22,300.25 352.41,299.51 354.43,298.29 356.27,296.58 356.96,295.19 356.5,294.1 354.89,293.33 352.12,292.87 349.41,292.64 346.76,292.64 344.17,292.87 341.63,293.33 339.96,294.05 339.15,295.01" fill="#fff" stroke="#fff" stroke-width="2" opacity="1"/>
<polygon points="62.57,337.55 63.5,335.99 64.82,334.78 66.53,333.9 68.64,333.38 71.13,333.19 73.38,333.48 75.41,334.26 77.19,335.52 78.75,337.27 79.92,339.2 80.7,341.31 81.09,343.62 81.09,346.11 80.7,348.32 79.92,350.25 78.75,351.89 77.19,353.26 75.56,354.18 73.85,354.65 72.06,354.67 70.19,354.23 68.48,353.51 66.92,352.52 65.52,351.24 64.28,349.69 63.27,348.05 62.49,346.34 61.94,344.55 61.63,342.68 61.63,340.89 61.94,339.18" fill="#fff" stroke="#fff" stroke-width="2" opacity="1"/>
<polygon points="79.22,353.86 80.46,354.04 81.94,355.69 83.65,358.8 85.6,363.38 87.78,369.42 89.1,374.03 89.57,377.2 89.18,378.94 87.93,379.25 86.45,377.85 84.74,374.74 82.8,369.92 80.62,363.38 79.3,358.52 78.83,355.35" fill="#fff" stroke="#fff" stroke-width="2" opacity="0.58"/>
<polygon points="84.82,381.12 86.81,380.06 89.24,379.35 92.1,378.97 95.4,378.94 99.14,379.25 102.44,379.95 105.3,381.04 107.73,382.52 109.72,384.39 111.06,386.41 111.74,388.59 111.78,390.93 111.15,393.42 110.19,395.72 108.88,397.84 107.23,399.77 105.24,401.51 103.36,402.97 101.58,404.15 99.92,405.06 98.36,405.68 96.73,405.59 95.01,404.78 93.22,403.25 91.36,401.01 89.65,398.86 88.09,396.81 86.69,394.85 85.44,392.98 84.4,391.11 83.56,389.25 82.92,387.38 82.49,385.51 82.66,383.85 83.44,382.38" fill="#fff" stroke="#fff" stroke-width="2" opacity="1"/>
<polygon points="116.1,386.1 119.53,387.04 123.03,387.94 126.61,388.81 130.26,389.65 134,390.46 136.72,391.41 138.43,392.5 139.13,393.73 138.82,395.1 137.58,395.97 135.4,396.34 132.29,396.22 128.24,395.6 124.51,394.94 121.08,394.26 117.97,393.54 115.17,392.79 113.07,391.8 111.67,390.55 110.97,389.06 110.97,387.32 111.82,386.24 113.53,385.84" fill="#fff" stroke="#fff" stroke-width="2" opacity="0.85"/>
<polygon points="138.2,392.2 139.76,391.39 141.55,390.72 143.57,390.19 145.83,389.81 148.32,389.56 150.73,389.63 153.06,390.04 155.32,390.77 157.5,391.83 159.06,392.86 159.99,393.85 160.3,394.82 159.99,395.75 158.35,396.48 155.4,397.01 151.12,397.34 145.52,397.46 141.24,397.29 138.28,396.82 136.64,396.06 136.33,395 136.49,394.01 137.11,393.07" fill="#fff" stroke="#fff" stroke-width="2" opacity="1"/>
<polygon points="166.99,399.33 171.97,402.44 177.11,405.71 182.4,409.13 187.85,412.71 193.45,416.45 198.27,419.56 202.32,422.05 205.59,423.92 208.08,425.16 209.79,426.41 210.72,427.65 210.88,428.9 210.26,430.14 209.01,430.77 207.14,430.77 204.65,430.14 201.54,428.9 197.81,427.03 193.45,424.54 188.47,421.43 182.87,417.69 177.57,414.11 172.59,410.69 167.93,407.42 163.57,404.31 160.46,401.66 158.59,399.49 157.97,397.77 158.59,396.53 160.3,396.37 163.1,397.31" fill="#fff" stroke="#fff" stroke-width="2" opacity="0.82"/>
<polygon points="139.76,428.12 140.69,427.19 141.7,426.64 142.79,426.49 143.96,426.72 145.2,427.34 146.17,428.35 146.85,429.76 147.26,431.55 147.38,433.72 147.29,435.59 146.98,437.15 146.45,438.39 145.7,439.33 144.8,439.87 143.74,440.03 142.53,439.79 141.16,439.17 140.08,438.16 139.31,436.76 138.82,434.97 138.64,432.79 138.73,430.92 139.1,429.37" fill="#fff" stroke="#fff" stroke-width="2" opacity="1"/>
<polygon points="151.43,444.46 152.67,444.46 154.23,444.7 156.1,445.16 158.28,445.86 160.77,446.8 162.56,447.81 163.65,448.9 164.04,450.06 163.72,451.31 162.79,452.09 161.23,452.4 159.06,452.24 156.25,451.62 154,450.77 152.29,449.68 151.12,448.35 150.5,446.8 150.34,445.63 150.65,444.85" fill="#fff" stroke="#fff" stroke-width="2" opacity="0.7"/>
<polygon points="142.09,416.14 147.07,415.52 151.43,415.83 155.16,417.07 158.28,419.25 160.77,422.36 161.7,424.7 161.08,426.25 158.9,427.03 155.16,427.03 152.05,426.8 149.56,426.33 147.69,425.63 146.45,424.7 144.89,423.61 143.03,422.36 140.85,420.96 138.36,419.41 137.73,418.08 138.98,416.99" fill="#fff" stroke="#fff" stroke-width="2" opacity="0.47"/>
<polygon points="167.61,424.57 168.86,423.76 170.1,423.36 171.35,423.36 172.59,423.76 173.84,424.57 174.82,425.72 175.54,427.22 175.99,429.06 176.17,431.23 175.96,433.1 175.33,434.66 174.31,435.9 172.87,436.84 171.49,437.3 170.15,437.3 168.86,436.84 167.61,435.9 166.68,434.66 166.06,433.1 165.75,431.23 165.75,429.06 166.06,427.22 166.68,425.72" fill="#fff" stroke="#fff" stroke-width="2" opacity="1"/>
<polygon points="174.77,445.71 176.64,443.22 178.98,440.91 181.78,438.8 185.04,436.87 188.78,435.12 192.51,433.66 196.25,432.48 199.99,431.58 203.72,430.95 207.46,430.92 211.19,431.48 214.93,432.63 218.66,434.38 222.4,436.15 226.13,437.96 229.87,439.79 233.6,441.66 237.18,443.65 240.6,445.77 243.87,448.01 246.98,450.38 249.91,452.65 252.65,454.83 255.2,456.91 257.57,458.9 259.34,461.05 260.52,463.36 261.12,465.81 261.12,468.43 260.52,470.86 259.34,473.1 257.57,475.15 255.2,477.02 252.99,478.73 250.94,480.29 249.04,481.69 247.3,482.93 245.83,484.49 244.65,486.36 243.75,488.54 243.12,491.03 242.16,493.36 240.85,495.54 239.2,497.56 237.21,499.43 234.78,501.02 231.92,502.32 228.62,503.35 224.89,504.1 221.15,504.63 217.42,504.94 213.68,505.03 209.95,504.91 206.52,504.35 203.41,503.35 200.61,501.92 198.12,500.05 195.78,498.03 193.6,495.85 191.58,493.52 189.71,491.03 187.85,488.38 185.98,485.58 184.11,482.62 182.24,479.51 180.53,476.4 178.98,473.28 177.57,470.17 176.33,467.06 175.24,463.92 174.31,460.74 173.53,457.53 172.91,454.3 172.91,451.25 173.53,448.38" fill="#fff" stroke="#fff" stroke-width="2" opacity="0.76"/>
<polygon points="171.51,444.31 173.68,440.88 176.41,437.85 179.68,435.2 183.49,432.95 187.85,431.08 192.2,429.52 196.56,428.28 200.92,427.34 205.28,426.72 210.41,427.27 216.33,428.98 223.02,431.86 230.49,435.9 237.49,440.03 244.03,444.23 250.1,448.51 255.7,452.87 259.93,457.07 262.8,461.11 264.29,465 264.41,468.74 263.47,472.35 261.44,475.84 258.35,479.2 254.17,482.44 250.84,485.53 248.35,488.49 246.7,491.31 245.9,493.98 244.71,496.54 243.16,498.96 241.23,501.27 238.92,503.44 236.18,505.23 233.01,506.64 229.4,507.65 225.35,508.27 221.23,508.71 217.03,508.95 212.75,509.02 208.39,508.89 204.42,508.24 200.84,507.06 197.65,505.34 194.85,503.1 191.81,499.99 188.55,496.01 185.04,491.15 181.31,485.42 178.12,480.19 175.47,475.46 173.37,471.23 171.82,467.5 170.57,463.92 169.64,460.49 169.02,457.22 168.7,454.11 169.02,450.92 169.95,447.65" fill="#fff" stroke="#fff" stroke-width="2" opacity="0.49"/>
<polygon points="174.77,445.71 176.64,443.22 178.66,441.12 180.84,439.4 183.18,438.08 185.67,437.15 187.57,437.3 188.87,438.55 189.59,440.88 189.71,444.31 189.59,447.81 189.22,451.39 188.59,455.04 187.72,458.78 187.29,462.67 187.29,466.72 187.72,470.92 188.59,475.28 189.87,479.45 191.55,483.43 193.64,487.23 196.13,490.84 197.68,493.67 198.3,495.73 197.99,497 196.75,497.5 195.32,497.19 193.7,496.07 191.89,494.14 189.9,491.4 187.94,488.57 186.01,485.64 184.11,482.62 182.24,479.51 180.53,476.4 178.98,473.28 177.57,470.17 176.33,467.06 175.24,463.92 174.31,460.74 173.53,457.53 172.91,454.3 172.91,451.25 173.53,448.38" fill="#fff" stroke="#fff" stroke-width="2" opacity="1"/>
<polygon points="191.27,434.53 192.51,433.72 194.38,432.96 196.87,432.25 199.99,431.58 203.72,430.95 207.46,430.92 211.19,431.48 214.93,432.63 218.66,434.38 222.4,436.15 226.13,437.96 229.87,439.79 233.6,441.66 237.18,443.65 240.6,445.77 243.87,448.01 246.98,450.38 248.85,452.37 249.47,453.99 248.85,455.23 246.98,456.1 244.65,456.29 241.85,455.79 238.58,454.61 234.85,452.74 231.11,450.87 227.38,449.01 223.64,447.14 219.91,445.27 216.17,443.72 212.44,442.47 208.7,441.54 204.97,440.91 201.54,440.18 198.43,439.34 195.63,438.39 193.14,437.33 191.58,436.34 190.96,435.4" fill="#fff" stroke="#fff" stroke-width="2" opacity="1"/>
<polygon points="226.75,448.04 231.73,447.11 236.25,446.92 240.29,447.48 243.87,448.79 246.98,450.84 249.91,452.88 252.65,454.9 255.2,456.91 257.57,458.9 259.34,461.05 260.52,463.36 261.12,465.81 261.12,468.43 260.52,470.86 259.34,473.1 257.57,475.15 255.2,477.02 252.99,478.76 250.94,480.38 249.04,481.88 247.3,483.24 245.88,483.59 244.79,482.9 244.03,481.19 243.59,478.45 243.03,475.81 242.35,473.25 241.54,470.79 240.6,468.43 238.97,466.34 236.64,464.54 233.6,463.01 229.87,461.77 226.75,460.18 224.26,458.25 222.4,455.98 221.15,453.36 221.46,451.17 223.33,449.4" fill="#fff" stroke="#fff" stroke-width="2" opacity="1"/>
<polygon points="196.41,460.96 203.56,460.34 209.12,460.8 213.07,462.36 215.42,465 216.17,468.74 216.26,472.19 215.7,475.37 214.49,478.26 212.62,480.88 210.26,482.84 207.39,484.15 204.03,484.8 200.17,484.8 196.81,484.49 193.95,483.87 191.58,482.93 189.71,481.69 188.24,479.63 187.15,476.77 186.45,473.1 186.13,468.62 187.69,465.1 191.11,462.55" fill="#fff" stroke="#fff" stroke-width="2" opacity="1"/>
<polygon points="196.44,495.2 197.81,493.83 200.05,493.22 203.16,493.38 207.14,494.29 212,495.97 216.73,497 221.34,497.38 225.82,497.1 230.18,496.16 233.94,494.87 237.12,493.22 239.7,491.21 241.69,488.85 243.03,487.66 243.72,487.66 243.75,488.85 243.12,491.21 242.16,493.45 240.85,495.57 239.2,497.56 237.21,499.43 234.78,501.02 231.92,502.32 228.62,503.35 224.89,504.1 221.15,504.63 217.42,504.94 213.68,505.03 209.95,504.91 206.52,504.35 203.41,503.35 200.61,501.92 198.12,500.05 196.59,498.31 196.03,496.69" fill="#fff" stroke="#fff" stroke-width="2" opacity="1"/>
<polygon points="214.49,446.49 216.61,446.17 218.26,447.11 219.44,449.29 220.15,452.71 220.4,457.38 220.12,460.97 219.31,463.5 217.98,464.94 216.11,465.32 214.58,464.41 213.4,462.23 212.56,458.78 212.06,454.05 212.22,450.42 213.03,447.9" fill="#fff" stroke="#fff" stroke-width="2" opacity="1"/>
<polygon points="264.63,379.38 265.32,377.37 266.33,375.51 267.68,373.79 269.35,372.22 271.36,370.78 273.36,369.85 275.37,369.42 277.37,369.5 279.38,370.07 281.09,371 282.53,372.29 283.67,373.93 284.53,375.94 285.1,377.8 285.39,379.52 285.39,381.09 285.1,382.53 284.24,383.7 282.81,384.62 280.81,385.27 278.23,385.68 275.8,385.95 273.51,386.09 271.36,386.11 269.35,385.99 267.68,385.69 266.33,385.2 265.32,384.53 264.63,383.67 264.28,382.53 264.28,381.09" fill="#fff" stroke="#fff" stroke-width="2" opacity="1"/>
<polygon points="286.11,371.21 287.82,370.64 289.18,370.64 290.19,371.21 290.83,372.36 291.12,374.08 290.97,375.44 290.4,376.44 289.4,377.08 287.97,377.37 286.75,377.23 285.75,376.66 284.96,375.65 284.39,374.22 284.39,373 284.96,372" fill="#fff" stroke="#fff" stroke-width="2" opacity="0.53"/>
<polygon points="314.89,380.95 315.63,379.23 316.69,377.59 318.06,376.01 319.75,374.51 321.76,373.08 323.98,371.86 326.41,370.86 329.06,370.07 331.92,369.5 334.72,369.42 337.44,369.85 340.09,370.78 342.66,372.22 344.95,373.86 346.96,375.72 348.68,377.8 350.11,380.09 351.15,382.31 351.81,384.46 352.08,386.53 351.97,388.54 351.63,390.29 351.05,391.78 350.25,393.01 349.22,393.98 347.88,394.68 346.21,395.11 344.24,395.27 341.95,395.15 339.8,394.93 337.79,394.58 335.93,394.12 334.22,393.55 332.35,392.91 330.35,392.19 328.2,391.4 325.91,390.54 323.76,389.76 321.76,389.04 319.9,388.4 318.18,387.82 316.78,387.18 315.69,386.46 314.91,385.68 314.46,384.82 314.3,383.74 314.44,382.45" fill="#fff" stroke="#fff" stroke-width="2" opacity="1"/>
<polygon points="328.2,347.73 330.49,348.3 332.35,349.88 333.79,352.46 334.79,356.04 335.36,360.62 335.22,364.13 334.36,366.56 332.78,367.92 330.49,368.21 328.63,367.06 327.2,364.48 326.2,360.48 325.62,355.03 325.77,351.1 326.63,348.66" fill="#fff" stroke="#fff" stroke-width="2" opacity="0.46"/>
<polygon points="390.2,376.37 391.06,374.65 392.21,373.51 393.64,372.93 395.36,372.93 397.36,373.51 399.36,374.36 401.37,375.51 403.37,376.94 405.38,378.66 407.02,380.45 408.31,382.31 409.24,384.24 409.82,386.25 410.1,388.25 410.1,390.26 409.82,392.26 409.24,394.27 408.46,395.99 407.45,397.42 406.24,398.56 404.81,399.42 403.45,399.78 402.16,399.64 400.94,398.99 399.79,397.85 398.65,396.41 397.5,394.7 396.36,392.69 395.21,390.4 394.07,388.18 392.92,386.03 391.78,383.96 390.63,381.95 389.99,380.02 389.84,378.16" fill="#fff" stroke="#fff" stroke-width="2" opacity="1"/>
<polygon points="390.06,362.48 392.35,362.19 394.35,362.77 396.07,364.2 397.5,366.49 398.65,369.64 399.01,372 398.58,373.58 397.36,374.36 395.36,374.36 393.49,373.65 391.78,372.22 390.2,370.07 388.77,367.21 388.27,364.99 388.7,363.41" fill="#fff" stroke="#fff" stroke-width="2" opacity="0.5"/>
</g>
</defs>
<clipPath id="cl">
<polygon points="113.75,80.96 114.5,79.72 115.56,78.41 116.92,77.04 118.61,75.61 120.6,74.11 123.09,72.87 126.08,71.87 129.56,71.13 133.55,70.63 137.28,70 140.77,69.26 144,68.39 146.99,67.39 149.73,66.54 152.22,65.85 154.46,65.3 156.45,64.9 158.3,65.2 159.99,66.2 161.53,67.89 162.93,70.28 163.9,73.07 164.45,76.25 164.57,79.84 164.27,83.82 163.96,87.81 163.64,91.79 163.3,95.78 162.95,99.76 162.26,103.25 161.21,106.24 159.82,108.73 158.07,110.72 156.45,112.58 154.96,114.33 153.59,115.95 152.35,117.44 151.41,119.06 150.79,120.8 150.48,122.67 150.48,124.66 150.48,127.15 150.48,130.14 150.48,133.63 150.48,137.61 150.29,141.34 149.92,144.83 149.36,148.07 148.61,151.06 147.55,153.7 146.18,155.99 144.5,157.93 142.51,159.52 140.27,160.78 137.78,161.7 135.04,162.29 132.05,162.53 129.19,162.51 126.45,162.21 123.83,161.64 121.34,160.79 119.29,159.66 117.67,158.24 116.49,156.53 115.74,154.54 115.49,152.3 115.74,149.81 116.49,147.07 117.73,144.08 119.41,141.1 121.53,138.11 124.08,135.12 127.07,132.13 129.81,129.39 132.3,126.9 134.54,124.66 136.53,122.67 138.38,120.55 140.07,118.31 141.61,115.95 143.01,113.46 144.23,110.97 145.27,108.48 146.15,105.99 146.84,103.5 147.24,101.01 147.34,98.52 147.14,96.03 146.64,93.54 145.87,91.27 144.83,89.23 143.51,87.41 141.91,85.82 140.22,84.5 138.43,83.45 136.53,82.68 134.54,82.18 132.67,81.93 130.93,81.93 129.31,82.18 127.82,82.68 126.51,83.35 125.39,84.2 124.46,85.22 123.71,86.41 122.96,87.51 122.22,88.51 121.47,89.4 120.72,90.2 119.85,90.7 118.85,90.9 117.73,90.8 116.49,90.4 115.43,89.66 114.56,88.59 113.87,87.19 113.38,85.44 113.19,83.82 113.31,82.33"/>
<polygon points="59.9,207.65 61.29,205.66 62.99,203.74 64.98,201.88 67.27,200.1 69.86,198.39 72.4,196.98 74.89,195.89 77.33,195.1 79.72,194.62 81.83,194.66 83.67,195.22 85.22,196.29 86.49,197.89 87.28,199.78 87.58,201.97 87.39,204.46 86.71,207.25 85.96,209.79 85.12,212.08 84.2,214.12 83.21,215.92 80.97,217.16 77.48,217.86 72.75,218.01 66.77,217.61 62.29,216.91 59.3,215.92 57.81,214.62 57.81,213.03 58.16,211.33 58.85,209.54"/>
<polygon points="54.32,222.29 55.72,220.5 58.36,219.15 62.24,218.26 67.37,217.81 73.75,217.81 79.12,218.26 83.51,219.15 86.89,220.5 89.28,222.29 91.47,223.71 93.47,224.74 95.26,225.4 96.85,225.68 98.65,225.82 100.64,225.82 102.83,225.68 105.22,225.4 107.09,225.49 108.45,225.95 109.28,226.77 109.6,227.97 109.46,229.13 108.86,230.27 107.81,231.37 106.29,232.45 104.46,233.26 102.31,233.79 99.84,234.06 97.05,234.06 94.46,234.16 92.07,234.36 89.88,234.66 87.89,235.06 86.15,235.64 84.65,236.39 83.41,237.33 82.41,238.45 81.93,239.88 81.97,241.63 82.53,243.71 83.61,246.1 84.31,248.29 84.65,250.28 84.62,252.07 84.22,253.67 83.51,254.94 82.47,255.9 81.12,256.53 79.44,256.85 77.59,256.83 75.56,256.47 73.35,255.78 70.96,254.74 68.76,253.67 66.77,252.55 64.98,251.39 63.39,250.2 61.89,248.78 60.5,247.15 59.2,245.3 58.01,243.23 56.89,241.18 55.86,239.14 54.9,237.13 54.02,235.14 53.34,233.2 52.84,231.3 52.53,229.46 52.41,227.67 52.67,225.88 53.31,224.08"/>
<polygon points="32.11,274.48 32.83,273.49 33.72,272.74 34.77,272.24 36,271.99 37.39,271.99 38.8,272.27 40.24,272.83 41.69,273.67 43.17,274.78 44.3,275.84 45.1,276.83 45.56,277.77 45.68,278.65 45.42,279.45 44.78,280.19 43.76,280.86 42.37,281.45 40.93,281.93 39.43,282.29 37.89,282.53 36.29,282.65 34.95,282.56 33.85,282.26 33.01,281.75 32.41,281.04 31.93,280.25 31.57,279.39 31.33,278.47 31.22,277.47 31.3,276.47 31.6,275.48"/>
<polygon points="199.85,235.81 201.93,233.19 204.42,230.56 207.31,227.94 210.61,225.32 214.3,222.7 218.02,220.18 221.75,217.76 225.5,215.44 229.26,213.22 233.48,211.08 238.15,209.03 243.28,207.07 248.86,205.18 254.44,203.45 260.02,201.87 265.6,200.45 271.18,199.17 276.78,198.06 282.39,197.12 288.02,196.34 293.67,195.74 299.64,195.47 305.92,195.54 312.53,195.94 319.45,196.68 325.82,196.93 331.64,196.7 336.9,195.97 341.61,194.76 345.56,193.77 348.75,193 351.19,192.44 352.87,192.11 353.71,192.61 353.71,193.96 352.87,196.14 351.19,199.17 349.36,202.45 347.37,205.97 345.24,209.76 342.95,213.79 340.3,217.02 337.27,219.44 333.88,221.05 330.11,221.86 326.36,222.87 322.63,224.08 318.92,225.49 315.22,227.1 311.87,228.95 308.88,231.04 306.24,233.35 303.96,235.91 301.69,238.57 299.44,241.32 297.2,244.18 294.98,247.14 292.95,250.11 291.1,253.1 289.44,256.11 287.96,259.14 286.46,262.15 284.95,265.14 283.42,268.11 281.87,271.07 280.34,273.76 278.83,276.18 277.33,278.33 275.85,280.22 274.19,282.18 272.34,284.23 270.31,286.37 268.09,288.59 265.67,290.64 263.05,292.52 260.22,294.23 257.2,295.78 254.19,297.07 251.2,298.12 248.22,298.91 245.26,299.44 242.49,299.61 239.9,299.41 237.5,298.84 235.28,297.9 233.15,296.64 231.1,295.06 229.13,293.16 227.25,290.94 225.55,288.33 224.04,285.34 222.71,281.96 221.57,278.2 220.24,274.63 218.72,271.27 217.03,268.11 215.14,265.16 213.18,262.28 211.13,259.49 208.99,256.78 206.77,254.16 204.69,251.54 202.74,248.92 200.93,246.3 199.24,243.67 198.5,241.05 198.71,238.43"/>
<polygon points="366.65,104.22 368.04,101.91 369.76,99.78 371.84,97.82 374.26,96.03 377.03,94.41 379.8,93.24 382.56,92.5 385.33,92.2 388.1,92.34 390.75,92.81 393.29,93.62 395.71,94.76 398.02,96.24 400.09,98.04 401.94,100.16 403.55,102.6 404.94,105.37 406.11,108.48 407.08,111.94 407.84,115.75 408.39,119.9 408.93,123.93 409.43,127.86 409.92,131.66 410.38,135.35 410.61,138.83 410.61,142.11 410.38,145.18 409.92,148.04 408.97,150.53 407.54,152.65 405.63,154.4 403.23,155.78 400.62,156.82 397.81,157.51 394.79,157.86 391.56,157.86 388.33,157.63 385.1,157.17 381.87,156.48 378.64,155.55 375.65,154.4 372.88,153.02 370.34,151.4 368.04,149.56 366.19,147.23 364.81,144.41 363.88,141.12 363.42,137.33 363.13,133.57 363.02,129.84 363.08,126.13 363.31,122.44 363.54,119.09 363.77,116.09 364,113.44 364.23,111.13 364.75,108.83 365.56,106.52"/>
<polygon points="368.27,151.38 371.96,153.45 375.3,155.76 378.3,158.3 380.95,161.07 383.26,164.06 385.33,167.23 387.18,170.58 388.79,174.1 390.18,177.79 391.24,181.15 391.97,184.2 392.39,186.92 392.48,189.32 391.95,191.23 390.8,192.66 389.02,193.61 386.62,194.07 384.25,194.18 381.9,193.95 379.57,193.38 377.26,192.45 374.9,192.22 372.47,192.68 370,193.84 367.46,195.68 365.04,197.76 362.73,200.06 360.54,202.6 358.46,205.37 356.1,207.68 353.45,209.52 350.51,210.9 347.28,211.83 344.51,212.06 342.2,211.6 340.36,210.44 338.98,208.6 338.75,206.41 339.67,203.87 341.74,200.99 344.97,197.76 347.97,194.53 350.74,191.3 353.27,188.07 355.58,184.84 357.54,181.48 359.16,177.97 360.42,174.33 361.35,170.54 362.04,166.67 362.5,162.7 362.73,158.64 362.73,154.49 363.65,151.9 365.5,150.86"/>
<polygon points="380.95,184.13 383.26,183.44 385.33,183.21 387.18,183.44 388.79,184.13 390.18,185.28 391.19,186.55 391.84,187.93 392.11,189.43 392.02,191.05 391.4,192.34 390.24,193.31 388.56,193.95 386.35,194.28 384.32,194.32 382.47,194.09 380.81,193.58 379.34,192.8 378.25,191.81 377.56,190.61 377.26,189.2 377.35,187.59 378,186.2 379.2,185.05"/>
<polygon points="406.43,153.45 408.51,153.22 410.3,154.03 411.8,155.88 413.01,158.76 413.93,162.68 414.89,166.54 415.88,170.35 416.9,174.1 417.97,177.79 418.99,181.48 419.98,185.17 420.94,188.86 421.86,192.55 422.81,196.24 423.78,199.93 424.77,203.62 425.78,207.31 426.85,211 427.95,214.69 429.11,218.38 430.3,222.07 431.46,225.76 432.56,229.45 433.63,233.14 434.64,236.83 435.6,240.4 436.5,243.86 437.34,247.2 438.12,250.43 438.08,252.62 437.2,253.78 435.49,253.89 432.96,252.97 430.73,251.47 428.82,249.4 427.21,246.74 425.92,243.51 424.82,240.17 423.89,236.71 423.15,233.14 422.6,229.45 421.96,225.76 421.22,222.07 420.39,218.38 419.46,214.69 418.52,210.88 417.55,206.96 416.56,202.92 415.54,198.77 414.46,194.39 413.31,189.78 412.08,184.94 410.79,179.86 409.48,174.9 408.14,170.06 406.78,165.33 405.4,160.72 404.88,157.2 405.22,154.78"/>
<polygon points="390.18,277.42 392.48,275.94 395.13,274.26 398.13,272.37 401.48,270.27 405.17,267.96 408.39,265.14 411.16,261.79 413.47,257.93 415.31,253.55 417.39,249.65 419.7,246.24 422.23,243.31 425,240.86 427.56,239.58 429.91,239.47 432.06,240.52 433.99,242.73 435.86,246.12 437.66,250.69 439.39,256.43 441.05,263.35 442.11,269.25 442.57,274.14 442.44,278.02 441.7,280.88 440.43,283.6 438.63,286.18 436.3,288.63 433.44,290.93 430.37,293.01 427.1,294.85 423.62,296.47 419.93,297.85 416.24,298.66 412.55,298.89 408.86,298.54 405.17,297.62 401.71,296.35 398.48,294.74 395.48,292.78 392.71,290.47 390.52,288.28 388.91,286.2 387.87,284.24 387.41,282.4 387.64,280.65 388.56,278.99"/>
<polygon points="339.21,296.24 340.13,297.71 341.46,298.88 343.18,299.73 345.32,300.27 347.86,300.5 350.22,300.25 352.41,299.51 354.43,298.29 356.27,296.58 356.96,295.19 356.5,294.1 354.89,293.33 352.12,292.87 349.41,292.64 346.76,292.64 344.17,292.87 341.63,293.33 339.96,294.05 339.15,295.01"/>
<polygon points="62.57,337.55 63.5,335.99 64.82,334.78 66.53,333.9 68.64,333.38 71.13,333.19 73.38,333.48 75.41,334.26 77.19,335.52 78.75,337.27 79.92,339.2 80.7,341.31 81.09,343.62 81.09,346.11 80.7,348.32 79.92,350.25 78.75,351.89 77.19,353.26 75.56,354.18 73.85,354.65 72.06,354.67 70.19,354.23 68.48,353.51 66.92,352.52 65.52,351.24 64.28,349.69 63.27,348.05 62.49,346.34 61.94,344.55 61.63,342.68 61.63,340.89 61.94,339.18"/>
<polygon points="84.82,381.12 86.81,380.06 89.24,379.35 92.1,378.97 95.4,378.94 99.14,379.25 102.44,379.95 105.3,381.04 107.73,382.52 109.72,384.39 111.06,386.41 111.74,388.59 111.78,390.93 111.15,393.42 110.19,395.72 108.88,397.84 107.23,399.77 105.24,401.51 103.36,402.97 101.58,404.15 99.92,405.06 98.36,405.68 96.73,405.59 95.01,404.78 93.22,403.25 91.36,401.01 89.65,398.86 88.09,396.81 86.69,394.85 85.44,392.98 84.4,391.11 83.56,389.25 82.92,387.38 82.49,385.51 82.66,383.85 83.44,382.38"/>
<polygon points="138.2,392.2 139.76,391.39 141.55,390.72 143.57,390.19 145.83,389.81 148.32,389.56 150.73,389.63 153.06,390.04 155.32,390.77 157.5,391.83 159.06,392.86 159.99,393.85 160.3,394.82 159.99,395.75 158.35,396.48 155.4,397.01 151.12,397.34 145.52,397.46 141.24,397.29 138.28,396.82 136.64,396.06 136.33,395 136.49,394.01 137.11,393.07"/>
<polygon points="139.76,428.12 140.69,427.19 141.7,426.64 142.79,426.49 143.96,426.72 145.2,427.34 146.17,428.35 146.85,429.76 147.26,431.55 147.38,433.72 147.29,435.59 146.98,437.15 146.45,438.39 145.7,439.33 144.8,439.87 143.74,440.03 142.53,439.79 141.16,439.17 140.08,438.16 139.31,436.76 138.82,434.97 138.64,432.79 138.73,430.92 139.1,429.37"/>
<polygon points="167.61,424.57 168.86,423.76 170.1,423.36 171.35,423.36 172.59,423.76 173.84,424.57 174.82,425.72 175.54,427.22 175.99,429.06 176.17,431.23 175.96,433.1 175.33,434.66 174.31,435.9 172.87,436.84 171.49,437.3 170.15,437.3 168.86,436.84 167.61,435.9 166.68,434.66 166.06,433.1 165.75,431.23 165.75,429.06 166.06,427.22 166.68,425.72"/>
<polygon points="174.77,445.71 176.64,443.22 178.66,441.12 180.84,439.4 183.18,438.08 185.67,437.15 187.57,437.3 188.87,438.55 189.59,440.88 189.71,444.31 189.59,447.81 189.22,451.39 188.59,455.04 187.72,458.78 187.29,462.67 187.29,466.72 187.72,470.92 188.59,475.28 189.87,479.45 191.55,483.43 193.64,487.23 196.13,490.84 197.68,493.67 198.3,495.73 197.99,497 196.75,497.5 195.32,497.19 193.7,496.07 191.89,494.14 189.9,491.4 187.94,488.57 186.01,485.64 184.11,482.62 182.24,479.51 180.53,476.4 178.98,473.28 177.57,470.17 176.33,467.06 175.24,463.92 174.31,460.74 173.53,457.53 172.91,454.3 172.91,451.25 173.53,448.38"/>
<polygon points="191.27,434.53 192.51,433.72 194.38,432.96 196.87,432.25 199.99,431.58 203.72,430.95 207.46,430.92 211.19,431.48 214.93,432.63 218.66,434.38 222.4,436.15 226.13,437.96 229.87,439.79 233.6,441.66 237.18,443.65 240.6,445.77 243.87,448.01 246.98,450.38 248.85,452.37 249.47,453.99 248.85,455.23 246.98,456.1 244.65,456.29 241.85,455.79 238.58,454.61 234.85,452.74 231.11,450.87 227.38,449.01 223.64,447.14 219.91,445.27 216.17,443.72 212.44,442.47 208.7,441.54 204.97,440.91 201.54,440.18 198.43,439.34 195.63,438.39 193.14,437.33 191.58,436.34 190.96,435.4"/>
<polygon points="226.75,448.04 231.73,447.11 236.25,446.92 240.29,447.48 243.87,448.79 246.98,450.84 249.91,452.88 252.65,454.9 255.2,456.91 257.57,458.9 259.34,461.05 260.52,463.36 261.12,465.81 261.12,468.43 260.52,470.86 259.34,473.1 257.57,475.15 255.2,477.02 252.99,478.76 250.94,480.38 249.04,481.88 247.3,483.24 245.88,483.59 244.79,482.9 244.03,481.19 243.59,478.45 243.03,475.81 242.35,473.25 241.54,470.79 240.6,468.43 238.97,466.34 236.64,464.54 233.6,463.01 229.87,461.77 226.75,460.18 224.26,458.25 222.4,455.98 221.15,453.36 221.46,451.17 223.33,449.4"/>
<polygon points="196.41,460.96 203.56,460.34 209.12,460.8 213.07,462.36 215.42,465 216.17,468.74 216.26,472.19 215.7,475.37 214.49,478.26 212.62,480.88 210.26,482.84 207.39,484.15 204.03,484.8 200.17,484.8 196.81,484.49 193.95,483.87 191.58,482.93 189.71,481.69 188.24,479.63 187.15,476.77 186.45,473.1 186.13,468.62 187.69,465.1 191.11,462.55"/>
<polygon points="196.44,495.2 197.81,493.83 200.05,493.22 203.16,493.38 207.14,494.29 212,495.97 216.73,497 221.34,497.38 225.82,497.1 230.18,496.16 233.94,494.87 237.12,493.22 239.7,491.21 241.69,488.85 243.03,487.66 243.72,487.66 243.75,488.85 243.12,491.21 242.16,493.45 240.85,495.57 239.2,497.56 237.21,499.43 234.78,501.02 231.92,502.32 228.62,503.35 224.89,504.1 221.15,504.63 217.42,504.94 213.68,505.03 209.95,504.91 206.52,504.35 203.41,503.35 200.61,501.92 198.12,500.05 196.59,498.31 196.03,496.69"/>
<polygon points="214.49,446.49 216.61,446.17 218.26,447.11 219.44,449.29 220.15,452.71 220.4,457.38 220.12,460.97 219.31,463.5 217.98,464.94 216.11,465.32 214.58,464.41 213.4,462.23 212.56,458.78 212.06,454.05 212.22,450.42 213.03,447.9"/>
<polygon points="264.63,379.38 265.32,377.37 266.33,375.51 267.68,373.79 269.35,372.22 271.36,370.78 273.36,369.85 275.37,369.42 277.37,369.5 279.38,370.07 281.09,371 282.53,372.29 283.67,373.93 284.53,375.94 285.1,377.8 285.39,379.52 285.39,381.09 285.1,382.53 284.24,383.7 282.81,384.62 280.81,385.27 278.23,385.68 275.8,385.95 273.51,386.09 271.36,386.11 269.35,385.99 267.68,385.69 266.33,385.2 265.32,384.53 264.63,383.67 264.28,382.53 264.28,381.09"/>
<polygon points="314.89,380.95 315.63,379.23 316.69,377.59 318.06,376.01 319.75,374.51 321.76,373.08 323.98,371.86 326.41,370.86 329.06,370.07 331.92,369.5 334.72,369.42 337.44,369.85 340.09,370.78 342.66,372.22 344.95,373.86 346.96,375.72 348.68,377.8 350.11,380.09 351.15,382.31 351.81,384.46 352.08,386.53 351.97,388.54 351.63,390.29 351.05,391.78 350.25,393.01 349.22,393.98 347.88,394.68 346.21,395.11 344.24,395.27 341.95,395.15 339.8,394.93 337.79,394.58 335.93,394.12 334.22,393.55 332.35,392.91 330.35,392.19 328.2,391.4 325.91,390.54 323.76,389.76 321.76,389.04 319.9,388.4 318.18,387.82 316.78,387.18 315.69,386.46 314.91,385.68 314.46,384.82 314.3,383.74 314.44,382.45"/>
<polygon points="390.2,376.37 391.06,374.65 392.21,373.51 393.64,372.93 395.36,372.93 397.36,373.51 399.36,374.36 401.37,375.51 403.37,376.94 405.38,378.66 407.02,380.45 408.31,382.31 409.24,384.24 409.82,386.25 410.1,388.25 410.1,390.26 409.82,392.26 409.24,394.27 408.46,395.99 407.45,397.42 406.24,398.56 404.81,399.42 403.45,399.78 402.16,399.64 400.94,398.99 399.79,397.85 398.65,396.41 397.5,394.7 396.36,392.69 395.21,390.4 394.07,388.18 392.92,386.03 391.78,383.96 390.63,381.95 389.99,380.02 389.84,378.16"/>
</clipPath>
<g mask="url(#mH)"><g filter="url(#b2)">
<polygon points="113.75,80.96 114.5,79.72 115.56,78.41 116.92,77.04 118.61,75.61 120.6,74.11 123.09,72.87 126.08,71.87 129.56,71.13 133.55,70.63 137.28,70 140.77,69.26 144,68.39 146.99,67.39 149.73,66.54 152.22,65.85 154.46,65.3 156.45,64.9 158.3,65.2 159.99,66.2 161.53,67.89 162.93,70.28 163.9,73.07 164.45,76.25 164.57,79.84 164.27,83.82 163.96,87.81 163.64,91.79 163.3,95.78 162.95,99.76 162.26,103.25 161.21,106.24 159.82,108.73 158.07,110.72 156.45,112.58 154.96,114.33 153.59,115.95 152.35,117.44 151.41,119.06 150.79,120.8 150.48,122.67 150.48,124.66 150.48,127.15 150.48,130.14 150.48,133.63 150.48,137.61 150.29,141.34 149.92,144.83 149.36,148.07 148.61,151.06 147.55,153.7 146.18,155.99 144.5,157.93 142.51,159.52 140.27,160.78 137.78,161.7 135.04,162.29 132.05,162.53 129.19,162.51 126.45,162.21 123.83,161.64 121.34,160.79 119.29,159.66 117.67,158.24 116.49,156.53 115.74,154.54 115.49,152.3 115.74,149.81 116.49,147.07 117.73,144.08 119.41,141.1 121.53,138.11 124.08,135.12 127.07,132.13 129.81,129.39 132.3,126.9 134.54,124.66 136.53,122.67 138.38,120.55 140.07,118.31 141.61,115.95 143.01,113.46 144.23,110.97 145.27,108.48 146.15,105.99 146.84,103.5 147.24,101.01 147.34,98.52 147.14,96.03 146.64,93.54 145.87,91.27 144.83,89.23 143.51,87.41 141.91,85.82 140.22,84.5 138.43,83.45 136.53,82.68 134.54,82.18 132.67,81.93 130.93,81.93 129.31,82.18 127.82,82.68 126.51,83.35 125.39,84.2 124.46,85.22 123.71,86.41 122.96,87.51 122.22,88.51 121.47,89.4 120.72,90.2 119.85,90.7 118.85,90.9 117.73,90.8 116.49,90.4 115.43,89.66 114.56,88.59 113.87,87.19 113.38,85.44 113.19,83.82 113.31,82.33" fill="#9570a4" opacity="0.36"/>
<polygon points="124.58,87.19 130.56,85.44 135.54,85.19 139.52,86.44 142.51,89.18 144.5,93.41 145.77,97.33 146.32,100.94 146.15,104.24 145.25,107.23 143.8,110.47 141.81,113.95 139.27,117.69 136.19,121.67 133.12,124.91 130.08,127.4 127.07,129.14 124.08,130.14 121.47,129.89 119.23,128.4 117.36,125.66 115.87,121.67 114.62,117.69 113.63,113.71 112.88,109.72 112.38,105.74 112.26,102.13 112.5,98.89 113.13,96.03 114.12,93.54 116.36,91.23 119.85,89.12" fill="#9570a4" opacity="0.08"/>
<polygon points="120.1,159.65 121.1,160.39 120.66,161.89 118.79,164.13 115.49,167.12 110.76,170.85 106.09,174.61 101.49,178.4 96.94,182.21 92.46,186.04 88.1,189.7 83.87,193.19 79.76,196.5 75.78,199.64 72.56,201.87 70.12,203.18 68.46,203.6 67.56,203.1 67.8,201.94 69.17,200.12 71.67,197.64 75.3,194.51 79.28,191.07 83.58,187.34 88.23,183.3 93.21,178.97 98.06,174.85 102.79,170.94 107.4,167.24 111.88,163.75 115.49,161.33 118.23,159.96" fill="#9570a4" opacity="0.07"/>
<polygon points="105.34,170.3 106.22,170.5 106.16,171.51 105.16,173.35 103.23,176 100.36,179.46 97.71,182.72 95.28,185.77 93.07,188.61 91.08,191.24 89.18,193.35 87.39,194.94 85.7,196.02 84.1,196.57 83.46,196.18 83.75,194.82 85,192.51 87.19,189.24 89.68,185.9 92.47,182.47 95.56,178.96 98.94,175.38 101.7,172.74 103.83,171.05" fill="#9570a4" opacity="0.07"/>
<polygon points="59.9,207.65 61.29,205.66 62.99,203.74 64.98,201.88 67.27,200.1 69.86,198.39 72.4,196.98 74.89,195.89 77.33,195.1 79.72,194.62 81.83,194.66 83.67,195.22 85.22,196.29 86.49,197.89 87.28,199.78 87.58,201.97 87.39,204.46 86.71,207.25 85.96,209.79 85.12,212.08 84.2,214.12 83.21,215.92 80.97,217.16 77.48,217.86 72.75,218.01 66.77,217.61 62.29,216.91 59.3,215.92 57.81,214.62 57.81,213.03 58.16,211.33 58.85,209.54" fill="#9570a4" opacity="0.33"/>
<polygon points="54.32,222.29 55.72,220.5 58.36,219.15 62.24,218.26 67.37,217.81 73.75,217.81 79.12,218.26 83.51,219.15 86.89,220.5 89.28,222.29 91.47,223.71 93.47,224.74 95.26,225.4 96.85,225.68 98.65,225.82 100.64,225.82 102.83,225.68 105.22,225.4 107.09,225.49 108.45,225.95 109.28,226.77 109.6,227.97 109.46,229.13 108.86,230.27 107.81,231.37 106.29,232.45 104.46,233.26 102.31,233.79 99.84,234.06 97.05,234.06 94.46,234.16 92.07,234.36 89.88,234.66 87.89,235.06 86.15,235.64 84.65,236.39 83.41,237.33 82.41,238.45 81.93,239.88 81.97,241.63 82.53,243.71 83.61,246.1 84.31,248.29 84.65,250.28 84.62,252.07 84.22,253.67 83.51,254.94 82.47,255.9 81.12,256.53 79.44,256.85 77.59,256.83 75.56,256.47 73.35,255.78 70.96,254.74 68.76,253.67 66.77,252.55 64.98,251.39 63.39,250.2 61.89,248.78 60.5,247.15 59.2,245.3 58.01,243.23 56.89,241.18 55.86,239.14 54.9,237.13 54.02,235.14 53.34,233.2 52.84,231.3 52.53,229.46 52.41,227.67 52.67,225.88 53.31,224.08" fill="#9570a4" opacity="0.3"/>
<polygon points="32.11,274.48 32.83,273.49 33.72,272.74 34.77,272.24 36,271.99 37.39,271.99 38.8,272.27 40.24,272.83 41.69,273.67 43.17,274.78 44.3,275.84 45.1,276.83 45.56,277.77 45.68,278.65 45.42,279.45 44.78,280.19 43.76,280.86 42.37,281.45 40.93,281.93 39.43,282.29 37.89,282.53 36.29,282.65 34.95,282.56 33.85,282.26 33.01,281.75 32.41,281.04 31.93,280.25 31.57,279.39 31.33,278.47 31.22,277.47 31.3,276.47 31.6,275.48" fill="#9570a4" opacity="0.55"/>
<polygon points="199.85,235.81 201.93,233.19 204.42,230.56 207.31,227.94 210.61,225.32 214.3,222.7 218.02,220.18 221.75,217.76 225.5,215.44 229.26,213.22 233.48,211.08 238.15,209.03 243.28,207.07 248.86,205.18 254.44,203.45 260.02,201.87 265.6,200.45 271.18,199.17 276.78,198.06 282.39,197.12 288.02,196.34 293.67,195.74 299.64,195.5 305.92,195.64 312.53,196.14 319.45,197.02 325.82,197.34 331.64,197.1 336.9,196.31 341.61,194.97 345.98,192.78 350.01,189.76 353.71,185.89 357.07,181.18 359.76,176.31 361.78,171.27 363.12,166.06 363.79,160.68 364.3,155.13 364.63,149.42 364.8,143.53 364.8,137.48 364.97,131.6 365.31,125.89 365.81,120.34 366.48,114.96 367.66,110.17 369.34,105.97 371.52,102.35 374.21,99.33 376.9,96.86 379.59,94.94 382.28,93.58 384.97,92.77 387.83,92.59 390.85,93.03 394.05,94.08 397.41,95.77 400.38,98.07 402.97,100.99 405.17,104.54 406.99,108.71 408.43,113.51 409.51,118.96 410.22,125.05 410.55,131.77 410.97,138.32 411.48,144.71 412.07,150.93 412.74,156.98 413.58,162.86 414.59,168.58 415.76,174.12 417.11,179.5 418.45,184.71 419.8,189.76 421.14,194.63 422.49,199.34 423.83,204.04 425.18,208.75 426.52,213.45 427.86,218.16 429.38,223.03 431.06,228.08 432.91,233.29 434.92,238.67 436.86,244.04 438.71,249.42 440.47,254.8 442.15,260.18 443.24,265.22 443.75,269.93 443.66,274.3 442.99,278.33 441.53,282.06 439.28,285.49 436.24,288.62 432.4,291.44 428.52,293.73 424.59,295.48 420.6,296.69 416.57,297.36 412.54,297.53 408.5,297.19 404.47,296.35 400.43,295.01 396.74,293.21 393.38,290.96 390.35,288.25 387.66,285.09 385.14,283.17 382.79,282.5 380.6,283.07 378.58,284.89 376.23,286.59 373.54,288.17 370.52,289.63 367.15,290.97 363.96,292.42 360.94,293.96 358.08,295.61 355.39,297.36 352.7,298.67 350.01,299.54 347.32,299.98 344.63,299.98 341.94,299.38 339.25,298.17 336.56,296.35 333.88,293.93 331.02,291.61 327.99,289.39 324.8,287.27 321.44,285.26 317.74,283.24 313.71,281.22 309.34,279.21 304.63,277.19 299.97,275.76 295.37,274.92 290.81,274.67 286.31,275 282.56,275.73 279.57,276.84 277.33,278.33 275.85,280.22 274.19,282.18 272.34,284.23 270.31,286.37 268.09,288.59 265.67,290.64 263.05,292.52 260.22,294.23 257.2,295.78 254.19,297.07 251.2,298.12 248.22,298.91 245.26,299.44 242.49,299.61 239.9,299.41 237.5,298.84 235.28,297.9 233.15,296.64 231.1,295.06 229.13,293.16 227.25,290.94 225.55,288.33 224.04,285.34 222.71,281.96 221.57,278.2 220.24,274.63 218.72,271.27 217.03,268.11 215.14,265.16 213.18,262.28 211.13,259.49 208.99,256.78 206.77,254.16 204.69,251.54 202.74,248.92 200.93,246.3 199.24,243.67 198.5,241.05 198.71,238.43" fill="#9570a4" opacity="0.04"/>
<polygon points="199.85,235.81 201.93,233.19 204.42,230.56 207.31,227.94 210.61,225.32 214.3,222.7 218.02,220.18 221.75,217.76 225.5,215.44 229.26,213.22 233.48,211.08 238.15,209.03 243.28,207.07 248.86,205.18 254.44,203.45 260.02,201.87 265.6,200.45 271.18,199.17 276.78,198.06 282.39,197.12 288.02,196.34 293.67,195.74 299.64,195.47 305.92,195.54 312.53,195.94 319.45,196.68 325.82,196.93 331.64,196.7 336.9,195.97 341.61,194.76 345.56,193.77 348.75,193 351.19,192.44 352.87,192.11 353.71,192.61 353.71,193.96 352.87,196.14 351.19,199.17 349.36,202.45 347.37,205.97 345.24,209.76 342.95,213.79 340.3,217.02 337.27,219.44 333.88,221.05 330.11,221.86 326.36,222.87 322.63,224.08 318.92,225.49 315.22,227.1 311.87,228.95 308.88,231.04 306.24,233.35 303.96,235.91 301.69,238.57 299.44,241.32 297.2,244.18 294.98,247.14 292.95,250.11 291.1,253.1 289.44,256.11 287.96,259.14 286.46,262.15 284.95,265.14 283.42,268.11 281.87,271.07 280.34,273.76 278.83,276.18 277.33,278.33 275.85,280.22 274.19,282.18 272.34,284.23 270.31,286.37 268.09,288.59 265.67,290.64 263.05,292.52 260.22,294.23 257.2,295.78 254.19,297.07 251.2,298.12 248.22,298.91 245.26,299.44 242.49,299.61 239.9,299.41 237.5,298.84 235.28,297.9 233.15,296.64 231.1,295.06 229.13,293.16 227.25,290.94 225.55,288.33 224.04,285.34 222.71,281.96 221.57,278.2 220.24,274.63 218.72,271.27 217.03,268.11 215.14,265.16 213.18,262.28 211.13,259.49 208.99,256.78 206.77,254.16 204.69,251.54 202.74,248.92 200.93,246.3 199.24,243.67 198.5,241.05 198.71,238.43" fill="#9570a4" opacity="0.34"/>
<polygon points="315.22,227.1 318.92,225.49 322.63,224.08 326.36,222.87 330.11,221.86 333.88,221.05 337.61,220.28 341.3,219.54 344.97,218.83 348.6,218.16 350.9,219.17 351.88,221.86 351.52,226.23 349.84,232.28 347.66,238.33 344.97,244.38 341.77,250.43 338.08,256.48 334.3,261.95 330.43,266.82 326.48,271.11 322.45,274.8 318.24,277.19 313.87,278.27 309.34,278.03 304.63,276.48 300.09,275.41 295.72,274.8 291.52,274.67 287.49,275 284.73,274.52 283.25,273.21 283.05,271.07 284.12,268.11 285.3,265.14 286.58,262.15 287.96,259.14 289.44,256.11 291.1,253.1 292.95,250.11 294.98,247.14 297.2,244.18 299.44,241.32 301.69,238.57 303.96,235.91 306.24,233.35 308.88,231.04 311.87,228.95" fill="#9570a4" opacity="0.07"/>
<polygon points="366.65,104.22 368.04,101.91 369.76,99.78 371.84,97.82 374.26,96.03 377.03,94.41 379.8,93.24 382.56,92.5 385.33,92.2 388.1,92.34 390.75,92.81 393.29,93.62 395.71,94.76 398.02,96.24 400.09,98.04 401.94,100.16 403.55,102.6 404.94,105.37 406.11,108.48 407.08,111.94 407.84,115.75 408.39,119.9 408.93,123.93 409.43,127.86 409.92,131.66 410.38,135.35 410.61,138.83 410.61,142.11 410.38,145.18 409.92,148.04 408.97,150.53 407.54,152.65 405.63,154.4 403.23,155.78 400.62,156.82 397.81,157.51 394.79,157.86 391.56,157.86 388.33,157.63 385.1,157.17 381.87,156.48 378.64,155.55 375.65,154.4 372.88,153.02 370.34,151.4 368.04,149.56 366.19,147.23 364.81,144.41 363.88,141.12 363.42,137.33 363.13,133.57 363.02,129.84 363.08,126.13 363.31,122.44 363.54,119.09 363.77,116.09 364,113.44 364.23,111.13 364.75,108.83 365.56,106.52" fill="#9570a4" opacity="0.37"/>
<polygon points="368.27,151.38 371.96,153.45 375.3,155.76 378.3,158.3 380.95,161.07 383.26,164.06 385.33,167.23 387.18,170.58 388.79,174.1 390.18,177.79 391.24,181.15 391.97,184.2 392.39,186.92 392.48,189.32 391.95,191.23 390.8,192.66 389.02,193.61 386.62,194.07 384.25,194.18 381.9,193.95 379.57,193.38 377.26,192.45 374.9,192.22 372.47,192.68 370,193.84 367.46,195.68 365.04,197.76 362.73,200.06 360.54,202.6 358.46,205.37 356.1,207.68 353.45,209.52 350.51,210.9 347.28,211.83 344.51,212.06 342.2,211.6 340.36,210.44 338.98,208.6 338.75,206.41 339.67,203.87 341.74,200.99 344.97,197.76 347.97,194.53 350.74,191.3 353.27,188.07 355.58,184.84 357.54,181.48 359.16,177.97 360.42,174.33 361.35,170.54 362.04,166.67 362.5,162.7 362.73,158.64 362.73,154.49 363.65,151.9 365.5,150.86" fill="#9570a4" opacity="0.33"/>
<polygon points="380.95,184.13 383.26,183.44 385.33,183.21 387.18,183.44 388.79,184.13 390.18,185.28 391.19,186.55 391.84,187.93 392.11,189.43 392.02,191.05 391.4,192.34 390.24,193.31 388.56,193.95 386.35,194.28 384.32,194.32 382.47,194.09 380.81,193.58 379.34,192.8 378.25,191.81 377.56,190.61 377.26,189.2 377.35,187.59 378,186.2 379.2,185.05" fill="#9570a4" opacity="0.28"/>
<polygon points="406.43,153.45 408.51,153.22 410.3,154.03 411.8,155.88 413.01,158.76 413.93,162.68 414.89,166.54 415.88,170.35 416.9,174.1 417.97,177.79 418.99,181.48 419.98,185.17 420.94,188.86 421.86,192.55 422.81,196.24 423.78,199.93 424.77,203.62 425.78,207.31 426.85,211 427.95,214.69 429.11,218.38 430.3,222.07 431.46,225.76 432.56,229.45 433.63,233.14 434.64,236.83 435.6,240.4 436.5,243.86 437.34,247.2 438.12,250.43 438.08,252.62 437.2,253.78 435.49,253.89 432.96,252.97 430.73,251.47 428.82,249.4 427.21,246.74 425.92,243.51 424.82,240.17 423.89,236.71 423.15,233.14 422.6,229.45 421.96,225.76 421.22,222.07 420.39,218.38 419.46,214.69 418.52,210.88 417.55,206.96 416.56,202.92 415.54,198.77 414.46,194.39 413.31,189.78 412.08,184.94 410.79,179.86 409.48,174.9 408.14,170.06 406.78,165.33 405.4,160.72 404.88,157.2 405.22,154.78" fill="#9570a4" opacity="0.28"/>
<polygon points="390.18,277.42 392.48,275.94 395.13,274.26 398.13,272.37 401.48,270.27 405.17,267.96 408.39,265.14 411.16,261.79 413.47,257.93 415.31,253.55 417.39,249.65 419.7,246.24 422.23,243.31 425,240.86 427.56,239.58 429.91,239.47 432.06,240.52 433.99,242.73 435.86,246.12 437.66,250.69 439.39,256.43 441.05,263.35 442.11,269.25 442.57,274.14 442.44,278.02 441.7,280.88 440.43,283.6 438.63,286.18 436.3,288.63 433.44,290.93 430.37,293.01 427.1,294.85 423.62,296.47 419.93,297.85 416.24,298.66 412.55,298.89 408.86,298.54 405.17,297.62 401.71,296.35 398.48,294.74 395.48,292.78 392.71,290.47 390.52,288.28 388.91,286.2 387.87,284.24 387.41,282.4 387.64,280.65 388.56,278.99" fill="#9570a4" opacity="0.36"/>
<polygon points="317.3,278.34 321.45,280.18 325.14,282.17 328.37,284.29 331.13,286.55 333.44,288.95 335.42,291.21 337.08,293.33 338.42,295.31 339.44,297.16 340.89,298.6 342.78,299.64 345.11,300.27 347.88,300.5 350.53,300.16 353.07,299.23 355.49,297.74 357.8,295.66 360.31,293.76 363.03,292.03 365.96,290.47 369.1,289.09 372.28,287.59 375.51,285.97 378.78,284.24 382.1,282.4 384.23,280.53 385.15,278.64 384.87,276.73 383.39,274.79 381.25,273.85 378.44,273.92 374.95,275 370.8,277.07 366.54,278.86 362.15,280.36 357.66,281.57 353.04,282.49 348.43,282.55 343.82,281.74 339.21,280.07 334.59,277.53 330.33,275.17 326.41,272.98 322.83,270.96 319.6,269.11 316.95,268.31 314.88,268.54 313.38,269.81 312.45,272.11 312.8,274.3 314.41,276.38" fill="#9570a4" opacity="0.14"/>
<polygon points="339.21,296.24 340.13,297.71 341.46,298.88 343.18,299.73 345.32,300.27 347.86,300.5 350.22,300.25 352.41,299.51 354.43,298.29 356.27,296.58 356.96,295.19 356.5,294.1 354.89,293.33 352.12,292.87 349.41,292.64 346.76,292.64 344.17,292.87 341.63,293.33 339.96,294.05 339.15,295.01" fill="#9570a4" opacity="0.28"/>
<polygon points="62.57,337.55 63.5,335.99 64.82,334.78 66.53,333.9 68.64,333.38 71.13,333.19 73.38,333.48 75.41,334.26 77.19,335.52 78.75,337.27 79.92,339.2 80.7,341.31 81.09,343.62 81.09,346.11 80.7,348.32 79.92,350.25 78.75,351.89 77.19,353.26 75.56,354.18 73.85,354.65 72.06,354.67 70.19,354.23 68.48,353.51 66.92,352.52 65.52,351.24 64.28,349.69 63.27,348.05 62.49,346.34 61.94,344.55 61.63,342.68 61.63,340.89 61.94,339.18" fill="#9570a4" opacity="0.33"/>
<polygon points="79.22,353.86 80.46,354.04 81.94,355.69 83.65,358.8 85.6,363.38 87.78,369.42 89.1,374.03 89.57,377.2 89.18,378.94 87.93,379.25 86.45,377.85 84.74,374.74 82.8,369.92 80.62,363.38 79.3,358.52 78.83,355.35" fill="#9570a4" opacity="0.11"/>
<polygon points="84.82,381.12 86.81,380.06 89.24,379.35 92.1,378.97 95.4,378.94 99.14,379.25 102.44,379.95 105.3,381.04 107.73,382.52 109.72,384.39 111.06,386.41 111.74,388.59 111.78,390.93 111.15,393.42 110.19,395.72 108.88,397.84 107.23,399.77 105.24,401.51 103.36,402.97 101.58,404.15 99.92,405.06 98.36,405.68 96.73,405.59 95.01,404.78 93.22,403.25 91.36,401.01 89.65,398.86 88.09,396.81 86.69,394.85 85.44,392.98 84.4,391.11 83.56,389.25 82.92,387.38 82.49,385.51 82.66,383.85 83.44,382.38" fill="#9570a4" opacity="0.32"/>
<polygon points="116.1,386.1 119.53,387.04 123.03,387.94 126.61,388.81 130.26,389.65 134,390.46 136.72,391.41 138.43,392.5 139.13,393.73 138.82,395.1 137.58,395.97 135.4,396.34 132.29,396.22 128.24,395.6 124.51,394.94 121.08,394.26 117.97,393.54 115.17,392.79 113.07,391.8 111.67,390.55 110.97,389.06 110.97,387.32 111.82,386.24 113.53,385.84" fill="#9570a4" opacity="0.18"/>
<polygon points="138.2,392.2 139.76,391.39 141.55,390.72 143.57,390.19 145.83,389.81 148.32,389.56 150.73,389.63 153.06,390.04 155.32,390.77 157.5,391.83 159.06,392.86 159.99,393.85 160.3,394.82 159.99,395.75 158.35,396.48 155.4,397.01 151.12,397.34 145.52,397.46 141.24,397.29 138.28,396.82 136.64,396.06 136.33,395 136.49,394.01 137.11,393.07" fill="#9570a4" opacity="0.36"/>
<polygon points="166.99,399.33 171.97,402.44 177.11,405.71 182.4,409.13 187.85,412.71 193.45,416.45 198.27,419.56 202.32,422.05 205.59,423.92 208.08,425.16 209.79,426.41 210.72,427.65 210.88,428.9 210.26,430.14 209.01,430.77 207.14,430.77 204.65,430.14 201.54,428.9 197.81,427.03 193.45,424.54 188.47,421.43 182.87,417.69 177.57,414.11 172.59,410.69 167.93,407.42 163.57,404.31 160.46,401.66 158.59,399.49 157.97,397.77 158.59,396.53 160.3,396.37 163.1,397.31" fill="#9570a4" opacity="0.14"/>
<polygon points="139.76,428.12 140.69,427.19 141.7,426.64 142.79,426.49 143.96,426.72 145.2,427.34 146.17,428.35 146.85,429.76 147.26,431.55 147.38,433.72 147.29,435.59 146.98,437.15 146.45,438.39 145.7,439.33 144.8,439.87 143.74,440.03 142.53,439.79 141.16,439.17 140.08,438.16 139.31,436.76 138.82,434.97 138.64,432.79 138.73,430.92 139.1,429.37" fill="#9570a4" opacity="0.41"/>
<polygon points="151.43,444.46 152.67,444.46 154.23,444.7 156.1,445.16 158.28,445.86 160.77,446.8 162.56,447.81 163.65,448.9 164.04,450.06 163.72,451.31 162.79,452.09 161.23,452.4 159.06,452.24 156.25,451.62 154,450.77 152.29,449.68 151.12,448.35 150.5,446.8 150.34,445.63 150.65,444.85" fill="#9570a4" opacity="0.17"/>
<polygon points="167.61,424.57 168.86,423.76 170.1,423.36 171.35,423.36 172.59,423.76 173.84,424.57 174.82,425.72 175.54,427.22 175.99,429.06 176.17,431.23 175.96,433.1 175.33,434.66 174.31,435.9 172.87,436.84 171.49,437.3 170.15,437.3 168.86,436.84 167.61,435.9 166.68,434.66 166.06,433.1 165.75,431.23 165.75,429.06 166.06,427.22 166.68,425.72" fill="#9570a4" opacity="0.43"/>
<polygon points="174.77,445.71 176.64,443.22 178.98,440.91 181.78,438.8 185.04,436.87 188.78,435.12 192.51,433.66 196.25,432.48 199.99,431.58 203.72,430.95 207.46,430.92 211.19,431.48 214.93,432.63 218.66,434.38 222.4,436.15 226.13,437.96 229.87,439.79 233.6,441.66 237.18,443.65 240.6,445.77 243.87,448.01 246.98,450.38 249.91,452.65 252.65,454.83 255.2,456.91 257.57,458.9 259.34,461.05 260.52,463.36 261.12,465.81 261.12,468.43 260.52,470.86 259.34,473.1 257.57,475.15 255.2,477.02 252.99,478.73 250.94,480.29 249.04,481.69 247.3,482.93 245.83,484.49 244.65,486.36 243.75,488.54 243.12,491.03 242.16,493.36 240.85,495.54 239.2,497.56 237.21,499.43 234.78,501.02 231.92,502.32 228.62,503.35 224.89,504.1 221.15,504.63 217.42,504.94 213.68,505.03 209.95,504.91 206.52,504.35 203.41,503.35 200.61,501.92 198.12,500.05 195.78,498.03 193.6,495.85 191.58,493.52 189.71,491.03 187.85,488.38 185.98,485.58 184.11,482.62 182.24,479.51 180.53,476.4 178.98,473.28 177.57,470.17 176.33,467.06 175.24,463.92 174.31,460.74 173.53,457.53 172.91,454.3 172.91,451.25 173.53,448.38" fill="#9570a4" opacity="0.1"/>
<polygon points="174.77,445.71 176.64,443.22 178.66,441.12 180.84,439.4 183.18,438.08 185.67,437.15 187.57,437.3 188.87,438.55 189.59,440.88 189.71,444.31 189.59,447.81 189.22,451.39 188.59,455.04 187.72,458.78 187.29,462.67 187.29,466.72 187.72,470.92 188.59,475.28 189.87,479.45 191.55,483.43 193.64,487.23 196.13,490.84 197.68,493.67 198.3,495.73 197.99,497 196.75,497.5 195.32,497.19 193.7,496.07 191.89,494.14 189.9,491.4 187.94,488.57 186.01,485.64 184.11,482.62 182.24,479.51 180.53,476.4 178.98,473.28 177.57,470.17 176.33,467.06 175.24,463.92 174.31,460.74 173.53,457.53 172.91,454.3 172.91,451.25 173.53,448.38" fill="#9570a4" opacity="0.28"/>
<polygon points="191.27,434.53 192.51,433.72 194.38,432.96 196.87,432.25 199.99,431.58 203.72,430.95 207.46,430.92 211.19,431.48 214.93,432.63 218.66,434.38 222.4,436.15 226.13,437.96 229.87,439.79 233.6,441.66 237.18,443.65 240.6,445.77 243.87,448.01 246.98,450.38 248.85,452.37 249.47,453.99 248.85,455.23 246.98,456.1 244.65,456.29 241.85,455.79 238.58,454.61 234.85,452.74 231.11,450.87 227.38,449.01 223.64,447.14 219.91,445.27 216.17,443.72 212.44,442.47 208.7,441.54 204.97,440.91 201.54,440.18 198.43,439.34 195.63,438.39 193.14,437.33 191.58,436.34 190.96,435.4" fill="#9570a4" opacity="0.23"/>
<polygon points="226.75,448.04 231.73,447.11 236.25,446.92 240.29,447.48 243.87,448.79 246.98,450.84 249.91,452.88 252.65,454.9 255.2,456.91 257.57,458.9 259.34,461.05 260.52,463.36 261.12,465.81 261.12,468.43 260.52,470.86 259.34,473.1 257.57,475.15 255.2,477.02 252.99,478.76 250.94,480.38 249.04,481.88 247.3,483.24 245.88,483.59 244.79,482.9 244.03,481.19 243.59,478.45 243.03,475.81 242.35,473.25 241.54,470.79 240.6,468.43 238.97,466.34 236.64,464.54 233.6,463.01 229.87,461.77 226.75,460.18 224.26,458.25 222.4,455.98 221.15,453.36 221.46,451.17 223.33,449.4" fill="#9570a4" opacity="0.34"/>
<polygon points="196.41,460.96 203.56,460.34 209.12,460.8 213.07,462.36 215.42,465 216.17,468.74 216.26,472.19 215.7,475.37 214.49,478.26 212.62,480.88 210.26,482.84 207.39,484.15 204.03,484.8 200.17,484.8 196.81,484.49 193.95,483.87 191.58,482.93 189.71,481.69 188.24,479.63 187.15,476.77 186.45,473.1 186.13,468.62 187.69,465.1 191.11,462.55" fill="#9570a4" opacity="0.2"/>
<polygon points="196.44,495.2 197.81,493.83 200.05,493.22 203.16,493.38 207.14,494.29 212,495.97 216.73,497 221.34,497.38 225.82,497.1 230.18,496.16 233.94,494.87 237.12,493.22 239.7,491.21 241.69,488.85 243.03,487.66 243.72,487.66 243.75,488.85 243.12,491.21 242.16,493.45 240.85,495.57 239.2,497.56 237.21,499.43 234.78,501.02 231.92,502.32 228.62,503.35 224.89,504.1 221.15,504.63 217.42,504.94 213.68,505.03 209.95,504.91 206.52,504.35 203.41,503.35 200.61,501.92 198.12,500.05 196.59,498.31 196.03,496.69" fill="#9570a4" opacity="0.28"/>
<polygon points="214.49,446.49 216.61,446.17 218.26,447.11 219.44,449.29 220.15,452.71 220.4,457.38 220.12,460.97 219.31,463.5 217.98,464.94 216.11,465.32 214.58,464.41 213.4,462.23 212.56,458.78 212.06,454.05 212.22,450.42 213.03,447.9" fill="#9570a4" opacity="0.25"/>
<polygon points="264.63,379.38 265.32,377.37 266.33,375.51 267.68,373.79 269.35,372.22 271.36,370.78 273.36,369.85 275.37,369.42 277.37,369.5 279.38,370.07 281.09,371 282.53,372.29 283.67,373.93 284.53,375.94 285.1,377.8 285.39,379.52 285.39,381.09 285.1,382.53 284.24,383.7 282.81,384.62 280.81,385.27 278.23,385.68 275.8,385.95 273.51,386.09 271.36,386.11 269.35,385.99 267.68,385.69 266.33,385.2 265.32,384.53 264.63,383.67 264.28,382.53 264.28,381.09" fill="#9570a4" opacity="0.34"/>
<polygon points="314.89,380.95 315.63,379.23 316.69,377.59 318.06,376.01 319.75,374.51 321.76,373.08 323.98,371.86 326.41,370.86 329.06,370.07 331.92,369.5 334.72,369.42 337.44,369.85 340.09,370.78 342.66,372.22 344.95,373.86 346.96,375.72 348.68,377.8 350.11,380.09 351.15,382.31 351.81,384.46 352.08,386.53 351.97,388.54 351.63,390.29 351.05,391.78 350.25,393.01 349.22,393.98 347.88,394.68 346.21,395.11 344.24,395.27 341.95,395.15 339.8,394.93 337.79,394.58 335.93,394.12 334.22,393.55 332.35,392.91 330.35,392.19 328.2,391.4 325.91,390.54 323.76,389.76 321.76,389.04 319.9,388.4 318.18,387.82 316.78,387.18 315.69,386.46 314.91,385.68 314.46,384.82 314.3,383.74 314.44,382.45" fill="#9570a4" opacity="0.33"/>
<polygon points="390.2,376.37 391.06,374.65 392.21,373.51 393.64,372.93 395.36,372.93 397.36,373.51 399.36,374.36 401.37,375.51 403.37,376.94 405.38,378.66 407.02,380.45 408.31,382.31 409.24,384.24 409.82,386.25 410.1,388.25 410.1,390.26 409.82,392.26 409.24,394.27 408.46,395.99 407.45,397.42 406.24,398.56 404.81,399.42 403.45,399.78 402.16,399.64 400.94,398.99 399.79,397.85 398.65,396.41 397.5,394.7 396.36,392.69 395.21,390.4 394.07,388.18 392.92,386.03 391.78,383.96 390.63,381.95 389.99,380.02 389.84,378.16" fill="#9570a4" opacity="0.33"/>
</g>
<g clip-path="url(#cl)"><g filter="url(#b4)">
<ellipse cx="157.45" cy="72.87" rx="7.67" ry="8.76" fill="#c71f3d" opacity="0.11"/>
<ellipse cx="117.61" cy="82.83" rx="6.14" ry="4.82" fill="#c71f3d" opacity="0.11"/>
<ellipse cx="131.55" cy="73.86" rx="8.76" ry="5.48" fill="#2f72b6" opacity="0.06"/>
<ellipse cx="157.45" cy="99.76" rx="5.48" ry="10.96" fill="#2f72b6" opacity="0.04"/>
<ellipse cx="131.55" cy="151.55" rx="10.96" ry="8.76" fill="#c71f3d" opacity="0.04"/>
<ellipse cx="143.51" cy="135.62" rx="6.57" ry="10.96" fill="#2f72b6" opacity="0.04"/>
<ellipse cx="104.82" cy="229.76" rx="5.26" ry="4.38" fill="#c71f3d" opacity="0.17"/>
<ellipse cx="73.75" cy="206.65" rx="10.52" ry="8.76" fill="#c71f3d" opacity="0.04"/>
<ellipse cx="72.15" cy="249.68" rx="8.76" ry="7.01" fill="#2f72b6" opacity="0.08"/>
<ellipse cx="80.12" cy="227.37" rx="10.52" ry="5.26" fill="#c71f3d" opacity="0.05"/>
<ellipse cx="62.59" cy="225.78" rx="7.01" ry="5.26" fill="#2f72b6" opacity="0.04"/>
<ellipse cx="34.7" cy="276.14" rx="4.21" ry="3.51" fill="#c71f3d" opacity="0.26"/>
<ellipse cx="41.55" cy="280.28" rx="4.38" ry="2.1" fill="#2f72b6" opacity="0.24"/>
<ellipse cx="204.79" cy="240.01" rx="14.79" ry="14.79" fill="#c71f3d" opacity="0.17"/>
<ellipse cx="243.79" cy="284.38" rx="31.06" ry="19.23" fill="#2f72b6" opacity="0.17"/>
<ellipse cx="242.44" cy="292.45" rx="20.71" ry="8.28" fill="#2f72b6" opacity="0.1"/>
<ellipse cx="302.95" cy="206.4" rx="50.29" ry="11.83" fill="#2f72b6" opacity="0.1"/>
<ellipse cx="351.36" cy="198.33" rx="17.75" ry="11.83" fill="#2f72b6" opacity="0.08"/>
<ellipse cx="257.23" cy="230.6" rx="35.5" ry="14.79" fill="#c71f3d" opacity="0.02"/>
<ellipse cx="224.96" cy="262.87" rx="11.83" ry="14.79" fill="#c71f3d" opacity="0.05"/>
<ellipse cx="319.08" cy="246.73" rx="23.67" ry="17.75" fill="#2f72b6" opacity="0.04"/>
<ellipse cx="381.18" cy="102.14" rx="18.27" ry="12.18" fill="#2f72b6" opacity="0.13"/>
<ellipse cx="401.48" cy="135.35" rx="10.15" ry="14.21" fill="#c71f3d" opacity="0.1"/>
<ellipse cx="368.27" cy="135.35" rx="7.1" ry="16.24" fill="#2f72b6" opacity="0.05"/>
<ellipse cx="383.95" cy="188.86" rx="8.12" ry="6.09" fill="#2f72b6" opacity="0.07"/>
<ellipse cx="419.93" cy="198.08" rx="5.07" ry="18.27" fill="#c71f3d" opacity="0.12"/>
<ellipse cx="429.15" cy="233.14" rx="6.09" ry="16.24" fill="#c71f3d" opacity="0.06"/>
<ellipse cx="410.7" cy="282.95" rx="18.27" ry="16.24" fill="#c71f3d" opacity="0.09"/>
<ellipse cx="437.45" cy="268.19" rx="5.07" ry="14.21" fill="#2f72b6" opacity="0.1"/>
<ellipse cx="346.13" cy="296.79" rx="9.13" ry="4.46" fill="#c71f3d" opacity="0.12"/>
<ellipse cx="364.58" cy="246.05" rx="40.59" ry="24.35" fill="#c71f3d" opacity="0.06"/>
<ellipse cx="395.94" cy="172.25" rx="12.18" ry="14.21" fill="#c71f3d" opacity="0.04"/>
<ellipse cx="386.72" cy="288.49" rx="6.09" ry="8.12" fill="#2f72b6" opacity="0.04"/>
<ellipse cx="69.88" cy="343.62" rx="6.85" ry="8.22" fill="#c71f3d" opacity="0.11"/>
<ellipse cx="78.6" cy="341.13" rx="2.74" ry="6.85" fill="#2f72b6" opacity="0.12"/>
<ellipse cx="88.56" cy="389.68" rx="6.85" ry="9.59" fill="#c71f3d" opacity="0.07"/>
<ellipse cx="98.52" cy="400.89" rx="5.48" ry="5.48" fill="#2f72b6" opacity="0.12"/>
<ellipse cx="103.5" cy="387.19" rx="6.85" ry="5.48" fill="#2f72b6" opacity="0.02"/>
<ellipse cx="148.32" cy="392.67" rx="10.96" ry="4.11" fill="#c71f3d" opacity="0.14"/>
<ellipse cx="204.34" cy="425.79" rx="6.85" ry="4.11" fill="#c71f3d" opacity="0.06"/>
<ellipse cx="142.59" cy="433.26" rx="4.93" ry="6.85" fill="#c71f3d" opacity="0.22"/>
<ellipse cx="152.05" cy="447.45" rx="2.19" ry="2.19" fill="#c71f3d" opacity="0.22"/>
<ellipse cx="170.73" cy="430.77" rx="6.03" ry="8.22" fill="#2f72b6" opacity="0.22"/>
<ellipse cx="254.14" cy="465.63" rx="8.22" ry="10.96" fill="#c71f3d" opacity="0.12"/>
<ellipse cx="215.55" cy="456.91" rx="4.11" ry="9.59" fill="#2f72b6" opacity="0.18"/>
<ellipse cx="186.91" cy="481.81" rx="8.22" ry="10.96" fill="#2f72b6" opacity="0.06"/>
<ellipse cx="219.28" cy="501.73" rx="16.43" ry="5.48" fill="#2f72b6" opacity="0.05"/>
<ellipse cx="239.2" cy="449.44" rx="10.96" ry="6.85" fill="#c71f3d" opacity="0.06"/>
<ellipse cx="191.89" cy="461.89" rx="10.96" ry="6.85" fill="#c71f3d" opacity="0.05"/>
<ellipse cx="244.18" cy="481.81" rx="5.48" ry="8.22" fill="#c71f3d" opacity="0.06"/>
<ellipse cx="179.44" cy="449.44" rx="6.85" ry="10.96" fill="#c71f3d" opacity="0.04"/>
<ellipse cx="266.35" cy="382.38" rx="4.54" ry="5.04" fill="#c71f3d" opacity="0.18"/>
<ellipse cx="276.66" cy="377.8" rx="6.3" ry="6.3" fill="#2f72b6" opacity="0.05"/>
<ellipse cx="274.36" cy="385.36" rx="10.08" ry="2.02" fill="#c71f3d" opacity="0.1"/>
<ellipse cx="316.75" cy="383.07" rx="4.54" ry="5.04" fill="#c71f3d" opacity="0.19"/>
<ellipse cx="345.38" cy="386.96" rx="7.56" ry="8.82" fill="#c71f3d" opacity="0.06"/>
<ellipse cx="340.8" cy="378.95" rx="7.56" ry="6.3" fill="#2f72b6" opacity="0.04"/>
<ellipse cx="325.91" cy="377.8" rx="6.3" ry="5.04" fill="#c71f3d" opacity="0.05"/>
<ellipse cx="406.09" cy="391.55" rx="5.04" ry="8.82" fill="#c71f3d" opacity="0.16"/>
<ellipse cx="395.78" cy="380.09" rx="5.04" ry="6.3" fill="#2f72b6" opacity="0.06"/>
</g></g></g>
<g filter="url(#spB)"><g mask="url(#mB)"><use href="#dens"/></g></g>
<g filter="url(#spR)"><g mask="url(#mR)"><use href="#dens"/></g></g>
<rect x="116.5" y="61.4" width="37" height="9.6" fill="#fff" opacity="0.62" rx="1"/>
<rect x="81.5" y="69.4" width="38.5" height="9.6" fill="#fff" opacity="0.62" rx="1"/>
<rect x="145.5" y="78.4" width="46.5" height="9.6" fill="#fff" opacity="0.62" rx="1"/>
<rect x="85.5" y="87.4" width="29.5" height="9.6" fill="#fff" opacity="0.62" rx="1"/>
<rect x="108.5" y="99.9" width="36.5" height="9.6" fill="#fff" opacity="0.62" rx="1"/>
<rect x="140" y="114.4" width="38.5" height="9.6" fill="#fff" opacity="0.62" rx="1"/>
<rect x="107" y="161.9" width="40.5" height="9.6" fill="#fff" opacity="0.62" rx="1"/>
<rect x="32.5" y="210.9" width="47" height="9.6" fill="#fff" opacity="0.62" rx="1"/>
<rect x="95.5" y="216.2" width="44" height="9.6" fill="#fff" opacity="0.62" rx="1"/>
<rect x="30" y="232.4" width="48" height="9.6" fill="#fff" opacity="0.62" rx="1"/>
<rect x="31.5" y="282.4" width="42" height="9.6" fill="#fff" opacity="0.62" rx="1"/>
<rect x="370" y="109.9" width="52.5" height="9.6" fill="#fff" opacity="0.62" rx="1"/>
<rect x="387" y="174.4" width="75" height="9.6" fill="#fff" opacity="0.62" rx="1"/>
<rect x="357.5" y="193.9" width="57.5" height="9.6" fill="#fff" opacity="0.62" rx="1"/>
<rect x="283.5" y="195.9" width="67.5" height="9.6" fill="#fff" opacity="0.62" rx="1"/>
<rect x="234" y="217.9" width="73.5" height="9.6" fill="#fff" opacity="0.62" rx="1"/>
<rect x="324" y="233.9" width="106" height="9.6" fill="#fff" opacity="0.62" rx="1"/>
<rect x="200" y="258.9" width="66" height="9.6" fill="#fff" opacity="0.62" rx="1"/>
<rect x="357.5" y="263.4" width="92.5" height="9.6" fill="#fff" opacity="0.62" rx="1"/>
<rect x="293" y="286.9" width="89" height="9.6" fill="#fff" opacity="0.62" rx="1"/>
<rect x="49" y="325.4" width="68" height="9.6" fill="#fff" opacity="0.62" rx="1"/>
<rect x="58" y="369.9" width="62" height="9.6" fill="#fff" opacity="0.62" rx="1"/>
<rect x="124" y="396.4" width="68.5" height="9.6" fill="#fff" opacity="0.62" rx="1"/>
<rect x="156.5" y="413.4" width="47" height="9.6" fill="#fff" opacity="0.62" rx="1"/>
<rect x="207.5" y="426.4" width="48.5" height="9.6" fill="#fff" opacity="0.62" rx="1"/>
<rect x="113" y="439.9" width="37" height="9.6" fill="#fff" opacity="0.62" rx="1"/>
<rect x="170" y="442.9" width="37" height="9.6" fill="#fff" opacity="0.62" rx="1"/>
<rect x="241.5" y="439.4" width="39.5" height="9.6" fill="#fff" opacity="0.62" rx="1"/>
<rect x="218" y="457.9" width="30" height="9.6" fill="#fff" opacity="0.62" rx="1"/>
<rect x="185" y="467.9" width="32" height="9.6" fill="#fff" opacity="0.62" rx="1"/>
<rect x="243.5" y="473.9" width="35.5" height="9.6" fill="#fff" opacity="0.62" rx="1"/>
<rect x="194" y="501.9" width="44.5" height="9.6" fill="#fff" opacity="0.62" rx="1"/>
<rect x="280.5" y="356.9" width="99.5" height="9.6" fill="#fff" opacity="0.62" rx="1"/>
<rect x="373" y="371.9" width="79.5" height="9.6" fill="#fff" opacity="0.62" rx="1"/>
<rect x="205" y="385.4" width="91" height="9.6" fill="#fff" opacity="0.62" rx="1"/>
<rect x="301" y="394.4" width="86" height="9.6" fill="#fff" opacity="0.62" rx="1"/>
<line x1="136" y1="70" x2="132" y2="77.5" stroke="#111" stroke-width="1"/>
<line x1="241" y1="446" x2="234" y2="451.5" stroke="#111" stroke-width="1"/>
<text x="117.5" y="69" font-size="8.3" textLength="35" lengthAdjust="spacingAndGlyphs">Sst_Tac3</text>
<text x="82.5" y="77" font-size="8.3" textLength="36.5" lengthAdjust="spacingAndGlyphs">Sst_Isoc1</text>
<text x="146.5" y="86" font-size="8.3" textLength="44.5" lengthAdjust="spacingAndGlyphs">Sst_Stk32a</text>
<text x="86.5" y="95" font-size="8.3" textLength="27.5" lengthAdjust="spacingAndGlyphs">Sst_Th</text>
<text x="109.5" y="107.5" font-size="8.3" textLength="34.5" lengthAdjust="spacingAndGlyphs">Sst_Tac1</text>
<text x="141" y="122" font-size="8.3" textLength="36.5" lengthAdjust="spacingAndGlyphs">Sst_Nos1</text>
<text x="108" y="169.5" font-size="8.3" textLength="38.5" lengthAdjust="spacingAndGlyphs">Sst_Calb1</text>
<text x="33.5" y="218.5" font-size="8.3" textLength="45" lengthAdjust="spacingAndGlyphs">Pvalb_Nos1</text>
<text x="96.5" y="223.8" font-size="8.3" textLength="42" lengthAdjust="spacingAndGlyphs">Pvalb_Lgr5</text>
<text x="31" y="240" font-size="8.3" textLength="46" lengthAdjust="spacingAndGlyphs">Pvalb_Sulf1</text>
<text x="32.5" y="290" font-size="8.3" textLength="40" lengthAdjust="spacingAndGlyphs">Pvalb_Crh</text>
<text x="371" y="117.5" font-size="8.3" textLength="50.5" lengthAdjust="spacingAndGlyphs">L4_Rorb_Met</text>
<text x="388" y="182" font-size="8.3" textLength="73" lengthAdjust="spacingAndGlyphs">L4_Rorb_Arhgap15</text>
<text x="358.5" y="201.5" font-size="8.3" textLength="55.5" lengthAdjust="spacingAndGlyphs">L4_Rorb_Mme</text>
<text x="284.5" y="203.5" font-size="8.3" textLength="65.5" lengthAdjust="spacingAndGlyphs">L3_Cux2_Prss12</text>
<text x="235" y="225.5" font-size="8.3" textLength="71.5" lengthAdjust="spacingAndGlyphs">L2_3_Cux2_Frem3</text>
<text x="325" y="241.5" font-size="8.3" textLength="104" lengthAdjust="spacingAndGlyphs">L5_6_Fezf2_Lrrk1_Sema3e</text>
<text x="201" y="266.5" font-size="8.3" textLength="64" lengthAdjust="spacingAndGlyphs">L2_Cux2_Lamp5</text>
<text x="358.5" y="271" font-size="8.3" textLength="90.5" lengthAdjust="spacingAndGlyphs">L5_6_Fezf2_Lrrk1_Pcp4</text>
<text x="294" y="294.5" font-size="8.3" textLength="87" lengthAdjust="spacingAndGlyphs">L5_6_Themis_Sema3a</text>
<text x="50" y="333" font-size="8.3" textLength="66" lengthAdjust="spacingAndGlyphs">Id2_Lamp5_Nos1</text>
<text x="59" y="377.5" font-size="8.3" textLength="60" lengthAdjust="spacingAndGlyphs">Id2_Lamp5_Crh</text>
<text x="125" y="404" font-size="8.3" textLength="66.5" lengthAdjust="spacingAndGlyphs">Id2_Lamp5_Nmbr</text>
<text x="157.5" y="421" font-size="8.3" textLength="45" lengthAdjust="spacingAndGlyphs">Id2_Nckap5</text>
<text x="208.5" y="434" font-size="8.3" textLength="46.5" lengthAdjust="spacingAndGlyphs">Vip_Sema3c</text>
<text x="114" y="447.5" font-size="8.3" textLength="35" lengthAdjust="spacingAndGlyphs">Id2_Pax6</text>
<text x="171" y="450.5" font-size="8.3" textLength="35" lengthAdjust="spacingAndGlyphs">Vip_Sstr1</text>
<text x="242.5" y="447" font-size="8.3" textLength="37.5" lengthAdjust="spacingAndGlyphs">Vip_Cbln1</text>
<text x="219" y="465.5" font-size="8.3" textLength="28" lengthAdjust="spacingAndGlyphs">Vip_Tyr</text>
<text x="186" y="475.5" font-size="8.3" textLength="30" lengthAdjust="spacingAndGlyphs">Vip_Crh</text>
<text x="244.5" y="481.5" font-size="8.3" textLength="33.5" lengthAdjust="spacingAndGlyphs">Vip_Nrg1</text>
<text x="195" y="509.5" font-size="8.3" textLength="42.5" lengthAdjust="spacingAndGlyphs">Vip_Abi3bp</text>
<text x="281.5" y="364.5" font-size="8.3" textLength="97.5" lengthAdjust="spacingAndGlyphs">L5_6_Fezf2_Tle4_Scube1</text>
<text x="374" y="379.5" font-size="8.3" textLength="77.5" lengthAdjust="spacingAndGlyphs">L5_6_Themis_Ntng2</text>
<text x="206" y="393" font-size="8.3" textLength="89" lengthAdjust="spacingAndGlyphs">L5_6_Fezf2_Tle4_Htr2c</text>
<text x="302" y="402" font-size="8.3" textLength="84" lengthAdjust="spacingAndGlyphs">L5_6_Fezf2_Tle4_Abo</text>
<rect x="374.9" y="40.5" width="14.3" height="14.6" fill="#0b70b4"/>
<rect x="374.9" y="60.9" width="14.3" height="14.6" fill="#c9001f"/>
<text x="393.2" y="51.6" font-size="11.8" textLength="32.3" lengthAdjust="spacingAndGlyphs">Control</text>
<text x="393.4" y="71.6" font-size="11.8" textLength="37.8" lengthAdjust="spacingAndGlyphs">Epilepsy</text>
<line x1="528.6" y1="131.05" x2="676.5" y2="131.05" stroke="#ebebeb" stroke-width="1"/>
<line x1="528.6" y1="109.4" x2="676.5" y2="109.4" stroke="#ebebeb" stroke-width="1"/>
<line x1="528.6" y1="87.75" x2="676.5" y2="87.75" stroke="#ebebeb" stroke-width="1"/>
<line x1="528.6" y1="66.1" x2="676.5" y2="66.1" stroke="#ebebeb" stroke-width="1"/>
<line x1="528.6" y1="44.45" x2="676.5" y2="44.45" stroke="#ebebeb" stroke-width="1"/>
<line x1="528.6" y1="22.8" x2="676.5" y2="22.8" stroke="#ebebeb" stroke-width="1"/>
<rect x="529.7" y="94.07" width="5" height="58.63" fill="#4393c3"/>
<rect x="534.7" y="126.34" width="5" height="26.36" fill="#d6405f"/>
<rect x="540.87" y="24.96" width="5" height="127.73" fill="#4393c3"/>
<rect x="545.87" y="86.01" width="5" height="66.69" fill="#d6405f"/>
<rect x="552.04" y="115.05" width="5" height="37.65" fill="#4393c3"/>
<rect x="557.04" y="137.1" width="5" height="15.6" fill="#d6405f"/>
<rect x="563.21" y="143.28" width="5" height="9.42" fill="#4393c3"/>
<rect x="568.21" y="146.52" width="5" height="6.18" fill="#d6405f"/>
<rect x="574.38" y="92.46" width="5" height="60.24" fill="#4393c3"/>
<rect x="579.38" y="105.36" width="5" height="47.34" fill="#d6405f"/>
<rect x="585.55" y="137.1" width="5" height="15.6" fill="#4393c3"/>
<rect x="590.55" y="142.48" width="5" height="10.22" fill="#d6405f"/>
<rect x="596.72" y="121.77" width="5" height="30.93" fill="#4393c3"/>
<rect x="601.72" y="114.78" width="5" height="37.92" fill="#d6405f"/>
<rect x="607.89" y="137.1" width="5" height="15.6" fill="#4393c3"/>
<rect x="612.89" y="141.14" width="5" height="11.56" fill="#d6405f"/>
<rect x="619.06" y="143.82" width="5" height="8.88" fill="#4393c3"/>
<rect x="624.06" y="139.26" width="5" height="13.44" fill="#d6405f"/>
<rect x="630.23" y="145.17" width="5" height="7.53" fill="#4393c3"/>
<rect x="635.23" y="144.09" width="5" height="8.61" fill="#d6405f"/>
<rect x="641.4" y="149.2" width="5" height="3.5" fill="#4393c3"/>
<rect x="646.4" y="147.86" width="5" height="4.84" fill="#d6405f"/>
<rect x="652.57" y="145.17" width="5" height="7.53" fill="#4393c3"/>
<rect x="657.57" y="142.48" width="5" height="10.22" fill="#d6405f"/>
<rect x="663.74" y="133.06" width="5" height="19.64" fill="#4393c3"/>
<rect x="668.74" y="134.42" width="5" height="18.28" fill="#d6405f"/>
<line x1="528.6" y1="18.5" x2="528.6" y2="153.2" stroke="#333" stroke-width="1"/>
<line x1="528.1" y1="152.7" x2="675.5" y2="152.7" stroke="#333" stroke-width="1"/>
<line x1="526.1" y1="109.4" x2="528.6" y2="109.4" stroke="#333" stroke-width="1"/>
<text x="521.1" y="112.79" font-size="9.38" text-anchor="end" textLength="18.46" lengthAdjust="spacingAndGlyphs">4000</text>
<line x1="526.1" y1="66.1" x2="528.6" y2="66.1" stroke="#333" stroke-width="1"/>
<text x="521.1" y="69.49" font-size="9.38" text-anchor="end" textLength="18.46" lengthAdjust="spacingAndGlyphs">8000</text>
<line x1="526.1" y1="22.8" x2="528.6" y2="22.8" stroke="#333" stroke-width="1"/>
<text x="521.1" y="26.19" font-size="9.38" text-anchor="end" textLength="25.38" lengthAdjust="spacingAndGlyphs">12,000</text>
<line x1="534.7" y1="152.7" x2="534.7" y2="155.2" stroke="#333" stroke-width="1"/>
<line x1="545.87" y1="152.7" x2="545.87" y2="155.2" stroke="#333" stroke-width="1"/>
<line x1="557.04" y1="152.7" x2="557.04" y2="155.2" stroke="#333" stroke-width="1"/>
<line x1="568.21" y1="152.7" x2="568.21" y2="155.2" stroke="#333" stroke-width="1"/>
<line x1="579.38" y1="152.7" x2="579.38" y2="155.2" stroke="#333" stroke-width="1"/>
<line x1="590.55" y1="152.7" x2="590.55" y2="155.2" stroke="#333" stroke-width="1"/>
<line x1="601.72" y1="152.7" x2="601.72" y2="155.2" stroke="#333" stroke-width="1"/>
<line x1="612.89" y1="152.7" x2="612.89" y2="155.2" stroke="#333" stroke-width="1"/>
<line x1="624.06" y1="152.7" x2="624.06" y2="155.2" stroke="#333" stroke-width="1"/>
<line x1="635.23" y1="152.7" x2="635.23" y2="155.2" stroke="#333" stroke-width="1"/>
<line x1="646.4" y1="152.7" x2="646.4" y2="155.2" stroke="#333" stroke-width="1"/>
<line x1="657.57" y1="152.7" x2="657.57" y2="155.2" stroke="#333" stroke-width="1"/>
<line x1="668.74" y1="152.7" x2="668.74" y2="155.2" stroke="#333" stroke-width="1"/>
<text x="537.1" y="161.2" font-size="9" text-anchor="end" transform="rotate(-90 537.1 161.2)">L2_3_Cux2_Frem3</text>
<text x="548.27" y="161.2" font-size="9" text-anchor="end" transform="rotate(-90 548.27 161.2)">L2_Cux2_Lamp5</text>
<text x="559.44" y="161.2" font-size="9" text-anchor="end" transform="rotate(-90 559.44 161.2)">L3_Cux2_Prss12</text>
<text x="570.61" y="161.2" font-size="9" text-anchor="end" transform="rotate(-90 570.61 161.2)">L4_Rorb_Arhgap15</text>
<text x="581.78" y="161.2" font-size="9" text-anchor="end" transform="rotate(-90 581.78 161.2)">L4_Rorb_Met</text>
<text x="592.95" y="161.2" font-size="9" text-anchor="end" transform="rotate(-90 592.95 161.2)">L4_Rorb_Mme</text>
<text x="604.12" y="161.2" font-size="9" text-anchor="end" transform="rotate(-90 604.12 161.2)">L5_6_Fezf2_Lrrk1_Pcp4</text>
<text x="615.29" y="161.2" font-size="9" text-anchor="end" transform="rotate(-90 615.29 161.2)">L5_6_Fezf2_Lrrk1_Sema3e</text>
<text x="626.46" y="161.2" font-size="9" text-anchor="end" transform="rotate(-90 626.46 161.2)">L5_6_Fezf2_Tle4_Abo</text>
<text x="637.63" y="161.2" font-size="9" text-anchor="end" transform="rotate(-90 637.63 161.2)">L5_6_Fezf2_Tle4_Htr2c</text>
<text x="648.8" y="161.2" font-size="9" text-anchor="end" transform="rotate(-90 648.8 161.2)">L5_6_Fezf2_Tle4_Scube1</text>
<text x="659.97" y="161.2" font-size="9" text-anchor="end" transform="rotate(-90 659.97 161.2)">L5_6_Themis_Ntng2</text>
<text x="671.14" y="161.2" font-size="9" text-anchor="end" transform="rotate(-90 671.14 161.2)">L5_6_Themis_Sema3a</text>
<text x="487" y="85.5" font-size="8.8" text-anchor="middle" transform="rotate(-90 487 85.5)">Number of nuclei</text>
<rect x="628.5" y="21.9" width="12.5" height="12.5" fill="#4393c3"/>
<rect x="628.5" y="36.9" width="12.5" height="12.5" fill="#d6405f"/>
<text x="645" y="31.59" font-size="9.38" textLength="26.75" lengthAdjust="spacingAndGlyphs">Control</text>
<text x="645" y="46.59" font-size="9.38" textLength="31.37" lengthAdjust="spacingAndGlyphs">Epilepsy</text>
<line x1="717.9" y1="139.85" x2="960" y2="139.85" stroke="#ebebeb" stroke-width="1"/>
<line x1="717.9" y1="127.1" x2="960" y2="127.1" stroke="#ebebeb" stroke-width="1"/>
<line x1="717.9" y1="114.35" x2="960" y2="114.35" stroke="#ebebeb" stroke-width="1"/>
<line x1="717.9" y1="101.6" x2="960" y2="101.6" stroke="#ebebeb" stroke-width="1"/>
<line x1="717.9" y1="88.85" x2="960" y2="88.85" stroke="#ebebeb" stroke-width="1"/>
<line x1="717.9" y1="76.1" x2="960" y2="76.1" stroke="#ebebeb" stroke-width="1"/>
<line x1="717.9" y1="63.35" x2="960" y2="63.35" stroke="#ebebeb" stroke-width="1"/>
<line x1="717.9" y1="50.6" x2="960" y2="50.6" stroke="#ebebeb" stroke-width="1"/>
<line x1="717.9" y1="37.85" x2="960" y2="37.85" stroke="#ebebeb" stroke-width="1"/>
<line x1="717.9" y1="25.1" x2="960" y2="25.1" stroke="#ebebeb" stroke-width="1"/>
<rect x="719.4" y="73.86" width="4.55" height="78.74" fill="#4393c3"/>
<rect x="723.95" y="86.45" width="4.55" height="66.15" fill="#d6405f"/>
<rect x="729.78" y="94.51" width="4.55" height="58.09" fill="#4393c3"/>
<rect x="734.33" y="116.13" width="4.55" height="36.46" fill="#d6405f"/>
<rect x="740.16" y="107.11" width="4.55" height="45.49" fill="#4393c3"/>
<rect x="744.71" y="109.66" width="4.55" height="42.94" fill="#d6405f"/>
<rect x="750.54" y="90.94" width="4.55" height="61.66" fill="#4393c3"/>
<rect x="755.09" y="104.81" width="4.55" height="47.79" fill="#d6405f"/>
<rect x="760.92" y="127.76" width="4.55" height="24.84" fill="#4393c3"/>
<rect x="765.47" y="122.92" width="4.55" height="29.68" fill="#d6405f"/>
<rect x="771.3" y="133.58" width="4.55" height="19.02" fill="#4393c3"/>
<rect x="775.85" y="136.79" width="4.55" height="15.81" fill="#d6405f"/>
<rect x="781.68" y="136.79" width="4.55" height="15.81" fill="#4393c3"/>
<rect x="786.23" y="130.31" width="4.55" height="22.29" fill="#d6405f"/>
<rect x="792.06" y="113.23" width="4.55" height="39.37" fill="#4393c3"/>
<rect x="796.61" y="106.14" width="4.55" height="46.46" fill="#d6405f"/>
<rect x="802.44" y="24.13" width="4.55" height="128.47" fill="#4393c3"/>
<rect x="806.99" y="70.59" width="4.55" height="82.01" fill="#d6405f"/>
<rect x="812.82" y="62.53" width="4.55" height="90.07" fill="#4393c3"/>
<rect x="817.37" y="83.19" width="4.55" height="69.41" fill="#d6405f"/>
<rect x="823.2" y="140.97" width="4.55" height="11.63" fill="#4393c3"/>
<rect x="827.75" y="138.73" width="4.55" height="13.87" fill="#d6405f"/>
<rect x="833.58" y="74.83" width="4.55" height="77.77" fill="#4393c3"/>
<rect x="838.13" y="83.19" width="4.55" height="69.41" fill="#d6405f"/>
<rect x="843.96" y="113.23" width="4.55" height="39.37" fill="#4393c3"/>
<rect x="848.51" y="117.72" width="4.55" height="34.88" fill="#d6405f"/>
<rect x="854.34" y="137.1" width="4.55" height="15.5" fill="#4393c3"/>
<rect x="858.89" y="138.42" width="4.55" height="14.18" fill="#d6405f"/>
<rect x="864.72" y="119.35" width="4.55" height="33.25" fill="#4393c3"/>
<rect x="869.27" y="111.95" width="4.55" height="40.65" fill="#d6405f"/>
<rect x="875.1" y="149.39" width="4.55" height="3.21" fill="#4393c3"/>
<rect x="879.65" y="147.09" width="4.55" height="5.51" fill="#d6405f"/>
<rect x="885.48" y="109.35" width="4.55" height="43.25" fill="#4393c3"/>
<rect x="890.03" y="112.26" width="4.55" height="40.34" fill="#d6405f"/>
<rect x="895.86" y="110.32" width="4.55" height="42.28" fill="#4393c3"/>
<rect x="900.41" y="117.41" width="4.55" height="35.19" fill="#d6405f"/>
<rect x="906.24" y="97.06" width="4.55" height="55.54" fill="#4393c3"/>
<rect x="910.79" y="105.17" width="4.55" height="47.43" fill="#d6405f"/>
<rect x="916.62" y="81.25" width="4.55" height="71.35" fill="#4393c3"/>
<rect x="921.17" y="95.12" width="4.55" height="57.48" fill="#d6405f"/>
<rect x="927" y="128.38" width="4.55" height="24.22" fill="#4393c3"/>
<rect x="931.55" y="127.41" width="4.55" height="25.19" fill="#d6405f"/>
<rect x="937.38" y="119.35" width="4.55" height="33.25" fill="#4393c3"/>
<rect x="941.93" y="122.25" width="4.55" height="30.34" fill="#d6405f"/>
<rect x="947.76" y="127.1" width="4.55" height="25.5" fill="#4393c3"/>
<rect x="952.31" y="130.01" width="4.55" height="22.59" fill="#d6405f"/>
<line x1="717.9" y1="18.5" x2="717.9" y2="153.1" stroke="#333" stroke-width="1"/>
<line x1="717.4" y1="152.6" x2="959" y2="152.6" stroke="#333" stroke-width="1"/>
<line x1="715.4" y1="152.6" x2="717.9" y2="152.6" stroke="#333" stroke-width="1"/>
<text x="711.4" y="155.99" font-size="9.38" text-anchor="end" textLength="4.62" lengthAdjust="spacingAndGlyphs">0</text>
<line x1="715.4" y1="127.1" x2="717.9" y2="127.1" stroke="#333" stroke-width="1"/>
<text x="711.4" y="130.49" font-size="9.38" text-anchor="end" textLength="13.85" lengthAdjust="spacingAndGlyphs">500</text>
<line x1="715.4" y1="101.6" x2="717.9" y2="101.6" stroke="#333" stroke-width="1"/>
<text x="711.4" y="104.99" font-size="9.38" text-anchor="end" textLength="18.46" lengthAdjust="spacingAndGlyphs">1000</text>
<line x1="715.4" y1="76.1" x2="717.9" y2="76.1" stroke="#333" stroke-width="1"/>
<text x="711.4" y="79.49" font-size="9.38" text-anchor="end" textLength="18.46" lengthAdjust="spacingAndGlyphs">1500</text>
<line x1="715.4" y1="50.6" x2="717.9" y2="50.6" stroke="#333" stroke-width="1"/>
<text x="711.4" y="53.99" font-size="9.38" text-anchor="end" textLength="18.46" lengthAdjust="spacingAndGlyphs">2000</text>
<line x1="715.4" y1="25.1" x2="717.9" y2="25.1" stroke="#333" stroke-width="1"/>
<text x="711.4" y="28.49" font-size="9.38" text-anchor="end" textLength="18.46" lengthAdjust="spacingAndGlyphs">2500</text>
<line x1="723.95" y1="152.6" x2="723.95" y2="155.1" stroke="#333" stroke-width="1"/>
<line x1="734.33" y1="152.6" x2="734.33" y2="155.1" stroke="#333" stroke-width="1"/>
<line x1="744.71" y1="152.6" x2="744.71" y2="155.1" stroke="#333" stroke-width="1"/>
<line x1="755.09" y1="152.6" x2="755.09" y2="155.1" stroke="#333" stroke-width="1"/>
<line x1="765.47" y1="152.6" x2="765.47" y2="155.1" stroke="#333" stroke-width="1"/>
<line x1="775.85" y1="152.6" x2="775.85" y2="155.1" stroke="#333" stroke-width="1"/>
<line x1="786.23" y1="152.6" x2="786.23" y2="155.1" stroke="#333" stroke-width="1"/>
<line x1="796.61" y1="152.6" x2="796.61" y2="155.1" stroke="#333" stroke-width="1"/>
<line x1="806.99" y1="152.6" x2="806.99" y2="155.1" stroke="#333" stroke-width="1"/>
<line x1="817.37" y1="152.6" x2="817.37" y2="155.1" stroke="#333" stroke-width="1"/>
<line x1="827.75" y1="152.6" x2="827.75" y2="155.1" stroke="#333" stroke-width="1"/>
<line x1="838.13" y1="152.6" x2="838.13" y2="155.1" stroke="#333" stroke-width="1"/>
<line x1="848.51" y1="152.6" x2="848.51" y2="155.1" stroke="#333" stroke-width="1"/>
<line x1="858.89" y1="152.6" x2="858.89" y2="155.1" stroke="#333" stroke-width="1"/>
<line x1="869.27" y1="152.6" x2="869.27" y2="155.1" stroke="#333" stroke-width="1"/>
<line x1="879.65" y1="152.6" x2="879.65" y2="155.1" stroke="#333" stroke-width="1"/>
<line x1="890.03" y1="152.6" x2="890.03" y2="155.1" stroke="#333" stroke-width="1"/>
<line x1="900.41" y1="152.6" x2="900.41" y2="155.1" stroke="#333" stroke-width="1"/>
<line x1="910.79" y1="152.6" x2="910.79" y2="155.1" stroke="#333" stroke-width="1"/>
<line x1="921.17" y1="152.6" x2="921.17" y2="155.1" stroke="#333" stroke-width="1"/>
<line x1="931.55" y1="152.6" x2="931.55" y2="155.1" stroke="#333" stroke-width="1"/>
<line x1="941.93" y1="152.6" x2="941.93" y2="155.1" stroke="#333" stroke-width="1"/>
<line x1="952.31" y1="152.6" x2="952.31" y2="155.1" stroke="#333" stroke-width="1"/>
<text x="726.95" y="159.2" font-size="8.9" text-anchor="end" transform="rotate(-90 726.95 159.2)" textLength="64.46" lengthAdjust="spacingAndGlyphs">Id2_Lamp5_Crh</text>
<text x="737.33" y="159.2" font-size="8.9" text-anchor="end" transform="rotate(-90 737.33 159.2)" textLength="71.95" lengthAdjust="spacingAndGlyphs">Id2_Lamp5_Nmbr</text>
<text x="747.71" y="159.2" font-size="8.9" text-anchor="end" transform="rotate(-90 747.71 159.2)" textLength="70.96" lengthAdjust="spacingAndGlyphs">Id2_Lamp5_Nos1</text>
<text x="758.09" y="159.2" font-size="8.9" text-anchor="end" transform="rotate(-90 758.09 159.2)" textLength="47.97" lengthAdjust="spacingAndGlyphs">Id2_Nckap5</text>
<text x="768.47" y="159.2" font-size="8.9" text-anchor="end" transform="rotate(-90 768.47 159.2)" textLength="37.98" lengthAdjust="spacingAndGlyphs">Id2_Pax6</text>
<text x="778.85" y="159.2" font-size="8.9" text-anchor="end" transform="rotate(-90 778.85 159.2)" textLength="41.97" lengthAdjust="spacingAndGlyphs">Pvalb_Crh</text>
<text x="789.23" y="159.2" font-size="8.9" text-anchor="end" transform="rotate(-90 789.23 159.2)" textLength="45.47" lengthAdjust="spacingAndGlyphs">Pvalb_Lgr5</text>
<text x="799.61" y="159.2" font-size="8.9" text-anchor="end" transform="rotate(-90 799.61 159.2)" textLength="48.47" lengthAdjust="spacingAndGlyphs">Pvalb_Nos1</text>
<text x="809.99" y="159.2" font-size="8.9" text-anchor="end" transform="rotate(-90 809.99 159.2)" textLength="47.97" lengthAdjust="spacingAndGlyphs">Pvalb_Sulf1</text>
<text x="820.37" y="159.2" font-size="8.9" text-anchor="end" transform="rotate(-90 820.37 159.2)" textLength="41.47" lengthAdjust="spacingAndGlyphs">Sst_Calb1</text>
<text x="830.75" y="159.2" font-size="8.9" text-anchor="end" transform="rotate(-90 830.75 159.2)" textLength="39.47" lengthAdjust="spacingAndGlyphs">Sst_Isoc1</text>
<text x="841.13" y="159.2" font-size="8.9" text-anchor="end" transform="rotate(-90 841.13 159.2)" textLength="38.97" lengthAdjust="spacingAndGlyphs">Sst_Nos1</text>
<text x="851.51" y="159.2" font-size="8.9" text-anchor="end" transform="rotate(-90 851.51 159.2)" textLength="45.97" lengthAdjust="spacingAndGlyphs">Sst_Stk32a</text>
<text x="861.89" y="159.2" font-size="8.9" text-anchor="end" transform="rotate(-90 861.89 159.2)" textLength="36.97" lengthAdjust="spacingAndGlyphs">Sst_Tac1</text>
<text x="872.27" y="159.2" font-size="8.9" text-anchor="end" transform="rotate(-90 872.27 159.2)" textLength="36.97" lengthAdjust="spacingAndGlyphs">Sst_Tac3</text>
<text x="882.65" y="159.2" font-size="8.9" text-anchor="end" transform="rotate(-90 882.65 159.2)" textLength="28.48" lengthAdjust="spacingAndGlyphs">Sst_Th</text>
<text x="893.03" y="159.2" font-size="8.9" text-anchor="end" transform="rotate(-90 893.03 159.2)" textLength="45.82" lengthAdjust="spacingAndGlyphs">Vip_Abi3bp</text>
<text x="903.41" y="159.2" font-size="8.9" text-anchor="end" transform="rotate(-90 903.41 159.2)" textLength="41.31" lengthAdjust="spacingAndGlyphs">Vip_Cbln1</text>
<text x="913.79" y="159.2" font-size="8.9" text-anchor="end" transform="rotate(-90 913.79 159.2)" textLength="32.31" lengthAdjust="spacingAndGlyphs">Vip_Crh</text>
<text x="924.17" y="159.2" font-size="8.9" text-anchor="end" transform="rotate(-90 924.17 159.2)" textLength="37.31" lengthAdjust="spacingAndGlyphs">Vip_Nrg1</text>
<text x="934.55" y="159.2" font-size="8.9" text-anchor="end" transform="rotate(-90 934.55 159.2)" textLength="50.8" lengthAdjust="spacingAndGlyphs">Vip_Sema3c</text>
<text x="944.93" y="159.2" font-size="8.9" text-anchor="end" transform="rotate(-90 944.93 159.2)" textLength="38.81" lengthAdjust="spacingAndGlyphs">Vip_Sstr1</text>
<text x="955.31" y="159.2" font-size="8.9" text-anchor="end" transform="rotate(-90 955.31 159.2)" textLength="30.31" lengthAdjust="spacingAndGlyphs">Vip_Tyr</text>
<rect x="912.3" y="21.7" width="12.3" height="12.6" fill="#4393c3"/>
<rect x="912.3" y="37.2" width="12.3" height="12.6" fill="#d6405f"/>
<text x="929.5" y="31.59" font-size="9.38" textLength="26.75" lengthAdjust="spacingAndGlyphs">Control</text>
<text x="929.5" y="46.99" font-size="9.38" textLength="31.37" lengthAdjust="spacingAndGlyphs">Epilepsy</text>
<line x1="529.7" y1="389.8" x2="694" y2="389.8" stroke="#ebebeb" stroke-width="1"/>
<line x1="529.7" y1="369" x2="694" y2="369" stroke="#ebebeb" stroke-width="1"/>
<line x1="529.7" y1="348.2" x2="694" y2="348.2" stroke="#ebebeb" stroke-width="1"/>
<line x1="529.7" y1="327.4" x2="694" y2="327.4" stroke="#ebebeb" stroke-width="1"/>
<line x1="529.7" y1="306.6" x2="694" y2="306.6" stroke="#ebebeb" stroke-width="1"/>
<line x1="529.7" y1="285.8" x2="694" y2="285.8" stroke="#ebebeb" stroke-width="1"/>
<line x1="534.4" y1="359.56" x2="534.4" y2="402.44" stroke="#111" stroke-width="1.25"/>
<rect x="532.3" y="364.17" width="4.2" height="19.45" fill="#74b3dc" stroke="#222" stroke-width="0.8"/>
<line x1="532.3" y1="374" x2="536.5" y2="374" stroke="#222" stroke-width="1.1"/>
<line x1="539.3" y1="363.12" x2="539.3" y2="399.31" stroke="#111" stroke-width="1.25"/>
<rect x="537.2" y="382.57" width="4.2" height="13.8" fill="#e8758a" stroke="#222" stroke-width="0.8"/>
<line x1="537.2" y1="393.87" x2="541.4" y2="393.87" stroke="#222" stroke-width="1.1"/>
<line x1="546.83" y1="302.05" x2="546.83" y2="380.48" stroke="#111" stroke-width="1.25"/>
<rect x="544.73" y="324.43" width="4.2" height="26.56" fill="#74b3dc" stroke="#222" stroke-width="0.8"/>
<line x1="544.73" y1="343.25" x2="548.93" y2="343.25" stroke="#222" stroke-width="1.1"/>
<line x1="551.73" y1="308.95" x2="551.73" y2="390.52" stroke="#111" stroke-width="1.25"/>
<rect x="549.63" y="334.47" width="4.2" height="29.28" fill="#e8758a" stroke="#222" stroke-width="0.8"/>
<line x1="549.63" y1="353.29" x2="553.83" y2="353.29" stroke="#222" stroke-width="1.1"/>
<line x1="559.26" y1="372.32" x2="559.26" y2="392.4" stroke="#111" stroke-width="1.25"/>
<rect x="557.16" y="382.57" width="4.2" height="6.69" fill="#74b3dc" stroke="#222" stroke-width="0.8"/>
<line x1="557.16" y1="385.71" x2="561.36" y2="385.71" stroke="#222" stroke-width="1.1"/>
<line x1="564.16" y1="395.12" x2="564.16" y2="404.95" stroke="#111" stroke-width="1.25"/>
<rect x="562.06" y="396.8" width="4.2" height="3.56" fill="#e8758a" stroke="#222" stroke-width="0.8"/>
<line x1="562.06" y1="399.1" x2="566.26" y2="399.1" stroke="#222" stroke-width="1.1"/>
<line x1="571.69" y1="403.07" x2="571.69" y2="406" stroke="#111" stroke-width="1.25"/>
<rect x="569.59" y="403.91" width="4.2" height="1.25" fill="#74b3dc" stroke="#222" stroke-width="0.8"/>
<line x1="569.59" y1="404.53" x2="573.79" y2="404.53" stroke="#222" stroke-width="1.1"/>
<line x1="576.59" y1="403.49" x2="576.59" y2="406" stroke="#111" stroke-width="1.25"/>
<rect x="574.49" y="404.12" width="4.2" height="1.25" fill="#e8758a" stroke="#222" stroke-width="0.8"/>
<line x1="574.49" y1="404.74" x2="578.69" y2="404.74" stroke="#222" stroke-width="1.1"/>
<line x1="584.12" y1="351.41" x2="584.12" y2="398.47" stroke="#111" stroke-width="1.25"/>
<rect x="582.02" y="363.54" width="4.2" height="23.64" fill="#74b3dc" stroke="#222" stroke-width="0.8"/>
<line x1="582.02" y1="371.49" x2="586.22" y2="371.49" stroke="#222" stroke-width="1.1"/>
<line x1="589.02" y1="349.32" x2="589.02" y2="380.9" stroke="#111" stroke-width="1.25"/>
<rect x="586.92" y="361.45" width="4.2" height="11.5" fill="#e8758a" stroke="#222" stroke-width="0.8"/>
<line x1="586.92" y1="368.35" x2="591.12" y2="368.35" stroke="#222" stroke-width="1.1"/>
<line x1="596.55" y1="393.87" x2="596.55" y2="405.37" stroke="#111" stroke-width="1.25"/>
<rect x="594.45" y="398.47" width="4.2" height="4.81" fill="#74b3dc" stroke="#222" stroke-width="0.8"/>
<line x1="594.45" y1="400.77" x2="598.65" y2="400.77" stroke="#222" stroke-width="1.1"/>
<line x1="601.45" y1="398.05" x2="601.45" y2="404.33" stroke="#111" stroke-width="1.25"/>
<rect x="599.35" y="399.72" width="4.2" height="3.35" fill="#e8758a" stroke="#222" stroke-width="0.8"/>
<line x1="599.35" y1="401.4" x2="603.55" y2="401.4" stroke="#222" stroke-width="1.1"/>
<line x1="608.98" y1="373.58" x2="608.98" y2="401.4" stroke="#111" stroke-width="1.25"/>
<rect x="606.88" y="385.29" width="4.2" height="11.09" fill="#74b3dc" stroke="#222" stroke-width="0.8"/>
<line x1="606.88" y1="389.89" x2="611.08" y2="389.89" stroke="#222" stroke-width="1.1"/>
<line x1="613.88" y1="374.21" x2="613.88" y2="382.99" stroke="#111" stroke-width="1.25"/>
<rect x="611.78" y="375.04" width="4.2" height="5.23" fill="#e8758a" stroke="#222" stroke-width="0.8"/>
<line x1="611.78" y1="378.18" x2="615.98" y2="378.18" stroke="#222" stroke-width="1.1"/>
<line x1="621.41" y1="390.52" x2="621.41" y2="404.53" stroke="#111" stroke-width="1.25"/>
<rect x="619.31" y="398.89" width="4.2" height="5.23" fill="#74b3dc" stroke="#222" stroke-width="0.8"/>
<line x1="619.31" y1="402.65" x2="623.51" y2="402.65" stroke="#222" stroke-width="1.1"/>
<line x1="626.31" y1="397.21" x2="626.31" y2="401.82" stroke="#111" stroke-width="1.25"/>
<rect x="624.21" y="398.26" width="4.2" height="2.3" fill="#e8758a" stroke="#222" stroke-width="0.8"/>
<line x1="624.21" y1="399.51" x2="628.41" y2="399.51" stroke="#222" stroke-width="1.1"/>
<line x1="633.84" y1="398.05" x2="633.84" y2="409.14" stroke="#111" stroke-width="1.25"/>
<rect x="631.74" y="399.72" width="4.2" height="7.74" fill="#74b3dc" stroke="#222" stroke-width="0.8"/>
<line x1="631.74" y1="403.28" x2="635.94" y2="403.28" stroke="#222" stroke-width="1.1"/>
<line x1="638.74" y1="394.91" x2="638.74" y2="401.82" stroke="#111" stroke-width="1.25"/>
<rect x="636.64" y="396.59" width="4.2" height="4.18" fill="#e8758a" stroke="#222" stroke-width="0.8"/>
<line x1="636.64" y1="398.47" x2="640.84" y2="398.47" stroke="#222" stroke-width="1.1"/>
<line x1="646.27" y1="400.14" x2="646.27" y2="408.51" stroke="#111" stroke-width="1.25"/>
<rect x="644.17" y="402.23" width="4.2" height="4.6" fill="#74b3dc" stroke="#222" stroke-width="0.8"/>
<line x1="644.17" y1="404.12" x2="648.37" y2="404.12" stroke="#222" stroke-width="1.1"/>
<line x1="651.17" y1="399.1" x2="651.17" y2="404.74" stroke="#111" stroke-width="1.25"/>
<rect x="649.07" y="401.19" width="4.2" height="2.72" fill="#e8758a" stroke="#222" stroke-width="0.8"/>
<line x1="649.07" y1="402.44" x2="653.27" y2="402.44" stroke="#222" stroke-width="1.1"/>
<line x1="658.7" y1="405.58" x2="658.7" y2="410.6" stroke="#111" stroke-width="1.25"/>
<rect x="656.6" y="406.42" width="4.2" height="3.56" fill="#74b3dc" stroke="#222" stroke-width="0.8"/>
<line x1="656.6" y1="408.3" x2="660.8" y2="408.3" stroke="#222" stroke-width="1.1"/>
<line x1="663.6" y1="404.12" x2="663.6" y2="408.09" stroke="#111" stroke-width="1.25"/>
<rect x="661.5" y="405.16" width="4.2" height="2.09" fill="#e8758a" stroke="#222" stroke-width="0.8"/>
<line x1="661.5" y1="406.21" x2="665.7" y2="406.21" stroke="#222" stroke-width="1.1"/>
<line x1="671.13" y1="404.53" x2="671.13" y2="407.67" stroke="#111" stroke-width="1.25"/>
<rect x="669.03" y="405.37" width="4.2" height="1.67" fill="#74b3dc" stroke="#222" stroke-width="0.8"/>
<line x1="669.03" y1="406.21" x2="673.23" y2="406.21" stroke="#222" stroke-width="1.1"/>
<line x1="676.03" y1="398.26" x2="676.03" y2="404.33" stroke="#111" stroke-width="1.25"/>
<rect x="673.93" y="400.14" width="4.2" height="3.35" fill="#e8758a" stroke="#222" stroke-width="0.8"/>
<line x1="673.93" y1="401.82" x2="678.13" y2="401.82" stroke="#222" stroke-width="1.1"/>
<line x1="683.56" y1="379.43" x2="683.56" y2="408.09" stroke="#111" stroke-width="1.25"/>
<rect x="681.46" y="390.94" width="4.2" height="13.6" fill="#74b3dc" stroke="#222" stroke-width="0.8"/>
<line x1="681.46" y1="397" x2="685.66" y2="397" stroke="#222" stroke-width="1.1"/>
<line x1="688.46" y1="387.17" x2="688.46" y2="399.72" stroke="#111" stroke-width="1.25"/>
<rect x="686.36" y="388.64" width="4.2" height="8.99" fill="#e8758a" stroke="#222" stroke-width="0.8"/>
<line x1="686.36" y1="393.45" x2="690.56" y2="393.45" stroke="#222" stroke-width="1.1"/>
<line x1="529.7" y1="285.2" x2="529.7" y2="411.1" stroke="#333" stroke-width="1"/>
<line x1="529.2" y1="410.6" x2="694" y2="410.6" stroke="#333" stroke-width="1"/>
<line x1="527.2" y1="410.6" x2="529.7" y2="410.6" stroke="#333" stroke-width="1"/>
<text x="522.7" y="413.99" font-size="9.49" text-anchor="end" textLength="4.67" lengthAdjust="spacingAndGlyphs">0</text>
<line x1="527.2" y1="369" x2="529.7" y2="369" stroke="#333" stroke-width="1"/>
<text x="522.7" y="372.39" font-size="9.49" text-anchor="end" textLength="9.34" lengthAdjust="spacingAndGlyphs">10</text>
<line x1="527.2" y1="327.4" x2="529.7" y2="327.4" stroke="#333" stroke-width="1"/>
<text x="522.7" y="330.79" font-size="9.49" text-anchor="end" textLength="9.34" lengthAdjust="spacingAndGlyphs">20</text>
<line x1="527.2" y1="285.8" x2="529.7" y2="285.8" stroke="#333" stroke-width="1"/>
<text x="522.7" y="289.19" font-size="9.49" text-anchor="end" textLength="9.34" lengthAdjust="spacingAndGlyphs">30</text>
<line x1="536.85" y1="410.6" x2="536.85" y2="413.1" stroke="#333" stroke-width="1"/>
<line x1="549.28" y1="410.6" x2="549.28" y2="413.1" stroke="#333" stroke-width="1"/>
<line x1="561.71" y1="410.6" x2="561.71" y2="413.1" stroke="#333" stroke-width="1"/>
<line x1="574.14" y1="410.6" x2="574.14" y2="413.1" stroke="#333" stroke-width="1"/>
<line x1="586.57" y1="410.6" x2="586.57" y2="413.1" stroke="#333" stroke-width="1"/>
<line x1="599" y1="410.6" x2="599" y2="413.1" stroke="#333" stroke-width="1"/>
<line x1="611.43" y1="410.6" x2="611.43" y2="413.1" stroke="#333" stroke-width="1"/>
<line x1="623.86" y1="410.6" x2="623.86" y2="413.1" stroke="#333" stroke-width="1"/>
<line x1="636.29" y1="410.6" x2="636.29" y2="413.1" stroke="#333" stroke-width="1"/>
<line x1="648.72" y1="410.6" x2="648.72" y2="413.1" stroke="#333" stroke-width="1"/>
<line x1="661.15" y1="410.6" x2="661.15" y2="413.1" stroke="#333" stroke-width="1"/>
<line x1="673.58" y1="410.6" x2="673.58" y2="413.1" stroke="#333" stroke-width="1"/>
<line x1="686.01" y1="410.6" x2="686.01" y2="413.1" stroke="#333" stroke-width="1"/>
<text x="540.15" y="418.7" font-size="9.05" text-anchor="end" transform="rotate(-90 540.15 418.7)">L2_3_Cux2_Frem3</text>
<text x="552.58" y="418.7" font-size="9.05" text-anchor="end" transform="rotate(-90 552.58 418.7)">L2_Cux2_Lamp5</text>
<text x="565.01" y="418.7" font-size="9.05" text-anchor="end" transform="rotate(-90 565.01 418.7)">L3_Cux2_Prss12</text>
<text x="577.44" y="418.7" font-size="9.05" text-anchor="end" transform="rotate(-90 577.44 418.7)">L4_Rorb_Arhgap15</text>
<text x="589.87" y="418.7" font-size="9.05" text-anchor="end" transform="rotate(-90 589.87 418.7)">L4_Rorb_Met</text>
<text x="602.3" y="418.7" font-size="9.05" text-anchor="end" transform="rotate(-90 602.3 418.7)">L4_Rorb_Mme</text>
<text x="614.73" y="418.7" font-size="9.05" text-anchor="end" transform="rotate(-90 614.73 418.7)">L5_6_Fezf2_Lrrk1_Pcp4</text>
<text x="627.16" y="418.7" font-size="9.05" text-anchor="end" transform="rotate(-90 627.16 418.7)">L5_6_Fezf2_Lrrk1_Sema3e</text>
<text x="639.59" y="418.7" font-size="9.05" text-anchor="end" transform="rotate(-90 639.59 418.7)">L5_6_Fezf2_Tle4_Abo</text>
<text x="652.02" y="418.7" font-size="9.05" text-anchor="end" transform="rotate(-90 652.02 418.7)">L5_6_Fezf2_Tle4_Htr2c</text>
<text x="664.45" y="418.7" font-size="9.05" text-anchor="end" transform="rotate(-90 664.45 418.7)">L5_6_Fezf2_Tle4_Scube1</text>
<text x="676.88" y="418.7" font-size="9.05" text-anchor="end" transform="rotate(-90 676.88 418.7)">L5_6_Themis_Ntng2</text>
<text x="689.31" y="418.7" font-size="9.05" text-anchor="end" transform="rotate(-90 689.31 418.7)">L5_6_Themis_Sema3a</text>
<text x="506.3" y="348" font-size="9" text-anchor="middle" transform="rotate(-90 506.3 348)">% of nuclei</text>
<line x1="651.65" y1="289.5" x2="651.65" y2="302.1" stroke="#111" stroke-width="1"/>
<rect x="646.4" y="291.5" width="10.5" height="8.4" fill="#74b3dc" stroke="#111" stroke-width="1.1"/>
<line x1="646.4" y1="295.7" x2="656.9" y2="295.7" stroke="#111" stroke-width="1.3"/>
<circle cx="651.65" cy="295.7" r="0.9" fill="#111"/>
<line x1="651.65" y1="304.2" x2="651.65" y2="317" stroke="#111" stroke-width="1"/>
<rect x="646.4" y="306.2" width="10.5" height="8.6" fill="#e8758a" stroke="#111" stroke-width="1.1"/>
<line x1="646.4" y1="310.5" x2="656.9" y2="310.5" stroke="#111" stroke-width="1.3"/>
<circle cx="651.65" cy="310.5" r="0.9" fill="#111"/>
<text x="660.3" y="299.28" font-size="9.74" textLength="27.08" lengthAdjust="spacingAndGlyphs">Control</text>
<text x="660.3" y="313.98" font-size="9.74" textLength="31.75" lengthAdjust="spacingAndGlyphs">Epilepsy</text>
<line x1="730.9" y1="395.26" x2="964.2" y2="395.26" stroke="#ebebeb" stroke-width="1"/>
<line x1="730.9" y1="379.73" x2="964.2" y2="379.73" stroke="#ebebeb" stroke-width="1"/>
<line x1="730.9" y1="364.19" x2="964.2" y2="364.19" stroke="#ebebeb" stroke-width="1"/>
<line x1="730.9" y1="348.65" x2="964.2" y2="348.65" stroke="#ebebeb" stroke-width="1"/>
<line x1="730.9" y1="333.11" x2="964.2" y2="333.11" stroke="#ebebeb" stroke-width="1"/>
<line x1="730.9" y1="317.58" x2="964.2" y2="317.58" stroke="#ebebeb" stroke-width="1"/>
<line x1="730.9" y1="302.04" x2="964.2" y2="302.04" stroke="#ebebeb" stroke-width="1"/>
<line x1="730.9" y1="286.5" x2="964.2" y2="286.5" stroke="#ebebeb" stroke-width="1"/>
<line x1="735.25" y1="365.38" x2="735.25" y2="392.03" stroke="#111" stroke-width="1.25"/>
<rect x="733.5" y="370.53" width="3.5" height="9.99" fill="#74b3dc" stroke="#222" stroke-width="0.8"/>
<line x1="733.5" y1="375.37" x2="737" y2="375.37" stroke="#222" stroke-width="1.1"/>
<line x1="739.15" y1="348.73" x2="739.15" y2="393.24" stroke="#111" stroke-width="1.25"/>
<rect x="737.4" y="369.32" width="3.5" height="14.23" fill="#e8758a" stroke="#222" stroke-width="0.8"/>
<line x1="737.4" y1="374.46" x2="740.9" y2="374.46" stroke="#222" stroke-width="1.1"/>
<line x1="745.25" y1="367.5" x2="745.25" y2="397.17" stroke="#111" stroke-width="1.25"/>
<rect x="743.5" y="380.22" width="3.5" height="13.93" fill="#74b3dc" stroke="#222" stroke-width="0.8"/>
<line x1="743.5" y1="385.06" x2="747" y2="385.06" stroke="#222" stroke-width="1.1"/>
<line x1="749.15" y1="375.37" x2="749.15" y2="402.32" stroke="#111" stroke-width="1.25"/>
<rect x="747.4" y="384.46" width="3.5" height="10.29" fill="#e8758a" stroke="#222" stroke-width="0.8"/>
<line x1="747.4" y1="389.6" x2="750.9" y2="389.6" stroke="#222" stroke-width="1.1"/>
<line x1="755.25" y1="369.01" x2="755.25" y2="397.78" stroke="#111" stroke-width="1.25"/>
<rect x="753.5" y="383.55" width="3.5" height="13.02" fill="#74b3dc" stroke="#222" stroke-width="0.8"/>
<line x1="753.5" y1="389.6" x2="757" y2="389.6" stroke="#222" stroke-width="1.1"/>
<line x1="759.15" y1="381.43" x2="759.15" y2="393.54" stroke="#111" stroke-width="1.25"/>
<rect x="757.4" y="385.06" width="3.5" height="4.54" fill="#e8758a" stroke="#222" stroke-width="0.8"/>
<line x1="757.4" y1="387.49" x2="760.9" y2="387.49" stroke="#222" stroke-width="1.1"/>
<line x1="765.25" y1="368.41" x2="765.25" y2="400.2" stroke="#111" stroke-width="1.25"/>
<rect x="763.5" y="375.98" width="3.5" height="15.14" fill="#74b3dc" stroke="#222" stroke-width="0.8"/>
<line x1="763.5" y1="379.61" x2="767" y2="379.61" stroke="#222" stroke-width="1.1"/>
<line x1="769.15" y1="376.58" x2="769.15" y2="401.72" stroke="#111" stroke-width="1.25"/>
<rect x="767.4" y="378.4" width="3.5" height="10.9" fill="#e8758a" stroke="#222" stroke-width="0.8"/>
<line x1="767.4" y1="383.55" x2="770.9" y2="383.55" stroke="#222" stroke-width="1.1"/>
<line x1="775.25" y1="395.05" x2="775.25" y2="405.05" stroke="#111" stroke-width="1.25"/>
<rect x="773.5" y="396.57" width="3.5" height="5.45" fill="#74b3dc" stroke="#222" stroke-width="0.8"/>
<line x1="773.5" y1="399.29" x2="777" y2="399.29" stroke="#222" stroke-width="1.1"/>
<line x1="779.15" y1="389" x2="779.15" y2="399.29" stroke="#111" stroke-width="1.25"/>
<rect x="777.4" y="391.12" width="3.5" height="4.54" fill="#e8758a" stroke="#222" stroke-width="0.8"/>
<line x1="777.4" y1="393.24" x2="780.9" y2="393.24" stroke="#222" stroke-width="1.1"/>
<line x1="785.25" y1="394.15" x2="785.25" y2="409.29" stroke="#111" stroke-width="1.25"/>
<rect x="783.5" y="397.17" width="3.5" height="8.48" fill="#74b3dc" stroke="#222" stroke-width="0.8"/>
<line x1="783.5" y1="400.81" x2="787" y2="400.81" stroke="#222" stroke-width="1.1"/>
<line x1="789.15" y1="391.12" x2="789.15" y2="407.17" stroke="#111" stroke-width="1.25"/>
<rect x="787.4" y="396.27" width="3.5" height="7.57" fill="#e8758a" stroke="#222" stroke-width="0.8"/>
<line x1="787.4" y1="399.6" x2="790.9" y2="399.6" stroke="#222" stroke-width="1.1"/>
<line x1="795.25" y1="391.72" x2="795.25" y2="409.29" stroke="#111" stroke-width="1.25"/>
<rect x="793.5" y="398.08" width="3.5" height="8.78" fill="#74b3dc" stroke="#222" stroke-width="0.8"/>
<line x1="793.5" y1="402.62" x2="797" y2="402.62" stroke="#222" stroke-width="1.1"/>
<line x1="799.15" y1="385.67" x2="799.15" y2="405.35" stroke="#111" stroke-width="1.25"/>
<rect x="797.4" y="394.15" width="3.5" height="8.18" fill="#e8758a" stroke="#222" stroke-width="0.8"/>
<line x1="797.4" y1="398.08" x2="800.9" y2="398.08" stroke="#222" stroke-width="1.1"/>
<line x1="805.25" y1="380.52" x2="805.25" y2="401.72" stroke="#111" stroke-width="1.25"/>
<rect x="803.5" y="390.21" width="3.5" height="6.36" fill="#74b3dc" stroke="#222" stroke-width="0.8"/>
<line x1="803.5" y1="392.63" x2="807" y2="392.63" stroke="#222" stroke-width="1.1"/>
<line x1="809.15" y1="377.49" x2="809.15" y2="395.66" stroke="#111" stroke-width="1.25"/>
<rect x="807.4" y="381.13" width="3.5" height="9.39" fill="#e8758a" stroke="#222" stroke-width="0.8"/>
<line x1="807.4" y1="386.58" x2="810.9" y2="386.58" stroke="#222" stroke-width="1.1"/>
<line x1="815.25" y1="309.97" x2="815.25" y2="397.17" stroke="#111" stroke-width="1.25"/>
<rect x="813.5" y="329.05" width="3.5" height="34.22" fill="#74b3dc" stroke="#222" stroke-width="0.8"/>
<line x1="813.5" y1="351.15" x2="817" y2="351.15" stroke="#222" stroke-width="1.1"/>
<line x1="819.15" y1="345.09" x2="819.15" y2="378.4" stroke="#111" stroke-width="1.25"/>
<rect x="817.4" y="357.81" width="3.5" height="18.17" fill="#e8758a" stroke="#222" stroke-width="0.8"/>
<line x1="817.4" y1="363.87" x2="820.9" y2="363.87" stroke="#222" stroke-width="1.1"/>
<line x1="825.25" y1="353.88" x2="825.25" y2="387.18" stroke="#111" stroke-width="1.25"/>
<rect x="823.5" y="366.9" width="3.5" height="13.02" fill="#74b3dc" stroke="#222" stroke-width="0.8"/>
<line x1="823.5" y1="370.83" x2="827" y2="370.83" stroke="#222" stroke-width="1.1"/>
<line x1="829.15" y1="367.5" x2="829.15" y2="387.18" stroke="#111" stroke-width="1.25"/>
<rect x="827.4" y="372.35" width="3.5" height="6.66" fill="#e8758a" stroke="#222" stroke-width="0.8"/>
<line x1="827.4" y1="375.98" x2="830.9" y2="375.98" stroke="#222" stroke-width="1.1"/>
<line x1="835.25" y1="395.66" x2="835.25" y2="408.68" stroke="#111" stroke-width="1.25"/>
<rect x="833.5" y="401.72" width="3.5" height="4.54" fill="#74b3dc" stroke="#222" stroke-width="0.8"/>
<line x1="833.5" y1="403.84" x2="837" y2="403.84" stroke="#222" stroke-width="1.1"/>
<line x1="839.15" y1="397.17" x2="839.15" y2="404.44" stroke="#111" stroke-width="1.25"/>
<rect x="837.4" y="399.6" width="3.5" height="3.03" fill="#e8758a" stroke="#222" stroke-width="0.8"/>
<line x1="837.4" y1="401.11" x2="840.9" y2="401.11" stroke="#222" stroke-width="1.1"/>
<line x1="845.25" y1="357.81" x2="845.25" y2="385.06" stroke="#111" stroke-width="1.25"/>
<rect x="843.5" y="367.8" width="3.5" height="12.72" fill="#74b3dc" stroke="#222" stroke-width="0.8"/>
<line x1="843.5" y1="373.56" x2="847" y2="373.56" stroke="#222" stroke-width="1.1"/>
<line x1="849.15" y1="362.35" x2="849.15" y2="393.24" stroke="#111" stroke-width="1.25"/>
<rect x="847.4" y="367.5" width="3.5" height="13.32" fill="#e8758a" stroke="#222" stroke-width="0.8"/>
<line x1="847.4" y1="372.95" x2="850.9" y2="372.95" stroke="#222" stroke-width="1.1"/>
<line x1="855.25" y1="388.09" x2="855.25" y2="394.15" stroke="#111" stroke-width="1.25"/>
<rect x="853.5" y="389" width="3.5" height="4.54" fill="#74b3dc" stroke="#222" stroke-width="0.8"/>
<line x1="853.5" y1="391.12" x2="857" y2="391.12" stroke="#222" stroke-width="1.1"/>
<line x1="859.15" y1="377.49" x2="859.15" y2="405.35" stroke="#111" stroke-width="1.25"/>
<rect x="857.4" y="379.01" width="3.5" height="18.17" fill="#e8758a" stroke="#222" stroke-width="0.8"/>
<line x1="857.4" y1="390.21" x2="860.9" y2="390.21" stroke="#222" stroke-width="1.1"/>
<line x1="865.25" y1="392.63" x2="865.25" y2="407.17" stroke="#111" stroke-width="1.25"/>
<rect x="863.5" y="399.29" width="3.5" height="5.15" fill="#74b3dc" stroke="#222" stroke-width="0.8"/>
<line x1="863.5" y1="402.02" x2="867" y2="402.02" stroke="#222" stroke-width="1.1"/>
<line x1="869.15" y1="397.17" x2="869.15" y2="404.74" stroke="#111" stroke-width="1.25"/>
<rect x="867.4" y="399.6" width="3.5" height="3.03" fill="#e8758a" stroke="#222" stroke-width="0.8"/>
<line x1="867.4" y1="401.11" x2="870.9" y2="401.11" stroke="#222" stroke-width="1.1"/>
<line x1="875.25" y1="373.86" x2="875.25" y2="402.62" stroke="#111" stroke-width="1.25"/>
<rect x="873.5" y="389" width="3.5" height="11.2" fill="#74b3dc" stroke="#222" stroke-width="0.8"/>
<line x1="873.5" y1="396.57" x2="877" y2="396.57" stroke="#222" stroke-width="1.1"/>
<line x1="879.15" y1="371.44" x2="879.15" y2="394.15" stroke="#111" stroke-width="1.25"/>
<rect x="877.4" y="380.52" width="3.5" height="9.39" fill="#e8758a" stroke="#222" stroke-width="0.8"/>
<line x1="877.4" y1="384.46" x2="880.9" y2="384.46" stroke="#222" stroke-width="1.1"/>
<line x1="885.25" y1="407.77" x2="885.25" y2="408.98" stroke="#111" stroke-width="1.25"/>
<rect x="883.5" y="408.07" width="3.5" height="0.61" fill="#74b3dc" stroke="#222" stroke-width="0.8"/>
<line x1="883.5" y1="408.38" x2="887" y2="408.38" stroke="#222" stroke-width="1.1"/>
<line x1="889.15" y1="405.65" x2="889.15" y2="408.07" stroke="#111" stroke-width="1.25"/>
<rect x="887.4" y="406.26" width="3.5" height="1.21" fill="#e8758a" stroke="#222" stroke-width="0.8"/>
<line x1="887.4" y1="406.86" x2="890.9" y2="406.86" stroke="#222" stroke-width="1.1"/>
<line x1="895.25" y1="387.49" x2="895.25" y2="396.57" stroke="#111" stroke-width="1.25"/>
<rect x="893.5" y="389.6" width="3.5" height="5.45" fill="#74b3dc" stroke="#222" stroke-width="0.8"/>
<line x1="893.5" y1="392.63" x2="897" y2="392.63" stroke="#222" stroke-width="1.1"/>
<line x1="899.15" y1="372.35" x2="899.15" y2="395.66" stroke="#111" stroke-width="1.25"/>
<rect x="897.4" y="381.43" width="3.5" height="11.81" fill="#e8758a" stroke="#222" stroke-width="0.8"/>
<line x1="897.4" y1="388.09" x2="900.9" y2="388.09" stroke="#222" stroke-width="1.1"/>
<line x1="905.25" y1="383.55" x2="905.25" y2="405.65" stroke="#111" stroke-width="1.25"/>
<rect x="903.5" y="388.09" width="3.5" height="8.48" fill="#74b3dc" stroke="#222" stroke-width="0.8"/>
<line x1="903.5" y1="391.12" x2="907" y2="391.12" stroke="#222" stroke-width="1.1"/>
<line x1="909.15" y1="385.06" x2="909.15" y2="398.69" stroke="#111" stroke-width="1.25"/>
<rect x="907.4" y="388.7" width="3.5" height="5.45" fill="#e8758a" stroke="#222" stroke-width="0.8"/>
<line x1="907.4" y1="391.12" x2="910.9" y2="391.12" stroke="#222" stroke-width="1.1"/>
<line x1="915.25" y1="374.46" x2="915.25" y2="390.51" stroke="#111" stroke-width="1.25"/>
<rect x="913.5" y="382.64" width="3.5" height="6.66" fill="#74b3dc" stroke="#222" stroke-width="0.8"/>
<line x1="913.5" y1="385.67" x2="917" y2="385.67" stroke="#222" stroke-width="1.1"/>
<line x1="919.15" y1="368.41" x2="919.15" y2="394.75" stroke="#111" stroke-width="1.25"/>
<rect x="917.4" y="375.37" width="3.5" height="16.65" fill="#e8758a" stroke="#222" stroke-width="0.8"/>
<line x1="917.4" y1="382.64" x2="920.9" y2="382.64" stroke="#222" stroke-width="1.1"/>
<line x1="925.25" y1="360.23" x2="925.25" y2="387.49" stroke="#111" stroke-width="1.25"/>
<rect x="923.5" y="371.44" width="3.5" height="14.23" fill="#74b3dc" stroke="#222" stroke-width="0.8"/>
<line x1="923.5" y1="378.1" x2="927" y2="378.1" stroke="#222" stroke-width="1.1"/>
<line x1="929.15" y1="358.72" x2="929.15" y2="386.58" stroke="#111" stroke-width="1.25"/>
<rect x="927.4" y="367.5" width="3.5" height="17.56" fill="#e8758a" stroke="#222" stroke-width="0.8"/>
<line x1="927.4" y1="378.1" x2="930.9" y2="378.1" stroke="#222" stroke-width="1.1"/>
<line x1="935.25" y1="394.15" x2="935.25" y2="402.62" stroke="#111" stroke-width="1.25"/>
<rect x="933.5" y="397.17" width="3.5" height="3.63" fill="#74b3dc" stroke="#222" stroke-width="0.8"/>
<line x1="933.5" y1="398.99" x2="937" y2="398.99" stroke="#222" stroke-width="1.1"/>
<line x1="939.15" y1="392.03" x2="939.15" y2="398.69" stroke="#111" stroke-width="1.25"/>
<rect x="937.4" y="393.54" width="3.5" height="3.63" fill="#e8758a" stroke="#222" stroke-width="0.8"/>
<line x1="937.4" y1="395.36" x2="940.9" y2="395.36" stroke="#222" stroke-width="1.1"/>
<line x1="945.25" y1="389" x2="945.25" y2="403.84" stroke="#111" stroke-width="1.25"/>
<rect x="943.5" y="395.05" width="3.5" height="4.54" fill="#74b3dc" stroke="#222" stroke-width="0.8"/>
<line x1="943.5" y1="397.17" x2="947" y2="397.17" stroke="#222" stroke-width="1.1"/>
<line x1="949.15" y1="389" x2="949.15" y2="397.17" stroke="#111" stroke-width="1.25"/>
<rect x="947.4" y="390.51" width="3.5" height="4.54" fill="#e8758a" stroke="#222" stroke-width="0.8"/>
<line x1="947.4" y1="392.63" x2="950.9" y2="392.63" stroke="#222" stroke-width="1.1"/>
<line x1="955.25" y1="394.15" x2="955.25" y2="401.72" stroke="#111" stroke-width="1.25"/>
<rect x="953.5" y="397.17" width="3.5" height="3.03" fill="#74b3dc" stroke="#222" stroke-width="0.8"/>
<line x1="953.5" y1="398.69" x2="957" y2="398.69" stroke="#222" stroke-width="1.1"/>
<line x1="959.15" y1="390.51" x2="959.15" y2="402.62" stroke="#111" stroke-width="1.25"/>
<rect x="957.4" y="393.54" width="3.5" height="6.66" fill="#e8758a" stroke="#222" stroke-width="0.8"/>
<line x1="957.4" y1="396.57" x2="960.9" y2="396.57" stroke="#222" stroke-width="1.1"/>
<line x1="730.9" y1="286.2" x2="730.9" y2="411.3" stroke="#333" stroke-width="1"/>
<line x1="730.4" y1="410.8" x2="964.2" y2="410.8" stroke="#333" stroke-width="1"/>
<line x1="728.4" y1="410.8" x2="730.9" y2="410.8" stroke="#333" stroke-width="1"/>
<text x="724.6" y="414.19" font-size="9.49" text-anchor="end" textLength="11.68" lengthAdjust="spacingAndGlyphs">0.0</text>
<line x1="728.4" y1="379.73" x2="730.9" y2="379.73" stroke="#333" stroke-width="1"/>
<text x="724.6" y="383.12" font-size="9.49" text-anchor="end" textLength="11.68" lengthAdjust="spacingAndGlyphs">2.5</text>
<line x1="728.4" y1="348.65" x2="730.9" y2="348.65" stroke="#333" stroke-width="1"/>
<text x="724.6" y="352.04" font-size="9.49" text-anchor="end" textLength="11.68" lengthAdjust="spacingAndGlyphs">5.0</text>
<line x1="728.4" y1="317.58" x2="730.9" y2="317.58" stroke="#333" stroke-width="1"/>
<text x="724.6" y="320.97" font-size="9.49" text-anchor="end" textLength="11.68" lengthAdjust="spacingAndGlyphs">7.5</text>
<line x1="728.4" y1="286.5" x2="730.9" y2="286.5" stroke="#333" stroke-width="1"/>
<text x="724.6" y="289.89" font-size="9.49" text-anchor="end" textLength="16.35" lengthAdjust="spacingAndGlyphs">10.0</text>
<line x1="737.2" y1="410.8" x2="737.2" y2="413.3" stroke="#333" stroke-width="1"/>
<line x1="747.2" y1="410.8" x2="747.2" y2="413.3" stroke="#333" stroke-width="1"/>
<line x1="757.2" y1="410.8" x2="757.2" y2="413.3" stroke="#333" stroke-width="1"/>
<line x1="767.2" y1="410.8" x2="767.2" y2="413.3" stroke="#333" stroke-width="1"/>
<line x1="777.2" y1="410.8" x2="777.2" y2="413.3" stroke="#333" stroke-width="1"/>
<line x1="787.2" y1="410.8" x2="787.2" y2="413.3" stroke="#333" stroke-width="1"/>
<line x1="797.2" y1="410.8" x2="797.2" y2="413.3" stroke="#333" stroke-width="1"/>
<line x1="807.2" y1="410.8" x2="807.2" y2="413.3" stroke="#333" stroke-width="1"/>
<line x1="817.2" y1="410.8" x2="817.2" y2="413.3" stroke="#333" stroke-width="1"/>
<line x1="827.2" y1="410.8" x2="827.2" y2="413.3" stroke="#333" stroke-width="1"/>
<line x1="837.2" y1="410.8" x2="837.2" y2="413.3" stroke="#333" stroke-width="1"/>
<line x1="847.2" y1="410.8" x2="847.2" y2="413.3" stroke="#333" stroke-width="1"/>
<line x1="857.2" y1="410.8" x2="857.2" y2="413.3" stroke="#333" stroke-width="1"/>
<line x1="867.2" y1="410.8" x2="867.2" y2="413.3" stroke="#333" stroke-width="1"/>
<line x1="877.2" y1="410.8" x2="877.2" y2="413.3" stroke="#333" stroke-width="1"/>
<line x1="887.2" y1="410.8" x2="887.2" y2="413.3" stroke="#333" stroke-width="1"/>
<line x1="897.2" y1="410.8" x2="897.2" y2="413.3" stroke="#333" stroke-width="1"/>
<line x1="907.2" y1="410.8" x2="907.2" y2="413.3" stroke="#333" stroke-width="1"/>
<line x1="917.2" y1="410.8" x2="917.2" y2="413.3" stroke="#333" stroke-width="1"/>
<line x1="927.2" y1="410.8" x2="927.2" y2="413.3" stroke="#333" stroke-width="1"/>
<line x1="937.2" y1="410.8" x2="937.2" y2="413.3" stroke="#333" stroke-width="1"/>
<line x1="947.2" y1="410.8" x2="947.2" y2="413.3" stroke="#333" stroke-width="1"/>
<line x1="957.2" y1="410.8" x2="957.2" y2="413.3" stroke="#333" stroke-width="1"/>
<text x="740.8" y="417.9" font-size="8.9" text-anchor="end" transform="rotate(-90 740.8 417.9)" textLength="65.1" lengthAdjust="spacingAndGlyphs">Id2_Lamp5_Crh</text>
<text x="750.8" y="417.9" font-size="8.9" text-anchor="end" transform="rotate(-90 750.8 417.9)" textLength="72.66" lengthAdjust="spacingAndGlyphs">Id2_Lamp5_Nmbr</text>
<text x="760.8" y="417.9" font-size="8.9" text-anchor="end" transform="rotate(-90 760.8 417.9)" textLength="71.66" lengthAdjust="spacingAndGlyphs">Id2_Lamp5_Nos1</text>
<text x="770.8" y="417.9" font-size="8.9" text-anchor="end" transform="rotate(-90 770.8 417.9)" textLength="48.45" lengthAdjust="spacingAndGlyphs">Id2_Nckap5</text>
<text x="780.8" y="417.9" font-size="8.9" text-anchor="end" transform="rotate(-90 780.8 417.9)" textLength="38.36" lengthAdjust="spacingAndGlyphs">Id2_Pax6</text>
<text x="790.8" y="417.9" font-size="8.9" text-anchor="end" transform="rotate(-90 790.8 417.9)" textLength="42.38" lengthAdjust="spacingAndGlyphs">Pvalb_Crh</text>
<text x="800.8" y="417.9" font-size="8.9" text-anchor="end" transform="rotate(-90 800.8 417.9)" textLength="45.92" lengthAdjust="spacingAndGlyphs">Pvalb_Lgr5</text>
<text x="810.8" y="417.9" font-size="8.9" text-anchor="end" transform="rotate(-90 810.8 417.9)" textLength="48.95" lengthAdjust="spacingAndGlyphs">Pvalb_Nos1</text>
<text x="820.8" y="417.9" font-size="8.9" text-anchor="end" transform="rotate(-90 820.8 417.9)" textLength="48.45" lengthAdjust="spacingAndGlyphs">Pvalb_Sulf1</text>
<text x="830.8" y="417.9" font-size="8.9" text-anchor="end" transform="rotate(-90 830.8 417.9)" textLength="41.88" lengthAdjust="spacingAndGlyphs">Sst_Calb1</text>
<text x="840.8" y="417.9" font-size="8.9" text-anchor="end" transform="rotate(-90 840.8 417.9)" textLength="39.86" lengthAdjust="spacingAndGlyphs">Sst_Isoc1</text>
<text x="850.8" y="417.9" font-size="8.9" text-anchor="end" transform="rotate(-90 850.8 417.9)" textLength="39.36" lengthAdjust="spacingAndGlyphs">Sst_Nos1</text>
<text x="860.8" y="417.9" font-size="8.9" text-anchor="end" transform="rotate(-90 860.8 417.9)" textLength="46.43" lengthAdjust="spacingAndGlyphs">Sst_Stk32a</text>
<text x="870.8" y="417.9" font-size="8.9" text-anchor="end" transform="rotate(-90 870.8 417.9)" textLength="37.34" lengthAdjust="spacingAndGlyphs">Sst_Tac1</text>
<text x="880.8" y="417.9" font-size="8.9" text-anchor="end" transform="rotate(-90 880.8 417.9)" textLength="37.34" lengthAdjust="spacingAndGlyphs">Sst_Tac3</text>
<text x="890.8" y="417.9" font-size="8.9" text-anchor="end" transform="rotate(-90 890.8 417.9)" textLength="28.76" lengthAdjust="spacingAndGlyphs">Sst_Th</text>
<text x="900.8" y="417.9" font-size="8.9" text-anchor="end" transform="rotate(-90 900.8 417.9)" textLength="46.27" lengthAdjust="spacingAndGlyphs">Vip_Abi3bp</text>
<text x="910.8" y="417.9" font-size="8.9" text-anchor="end" transform="rotate(-90 910.8 417.9)" textLength="41.72" lengthAdjust="spacingAndGlyphs">Vip_Cbln1</text>
<text x="920.8" y="417.9" font-size="8.9" text-anchor="end" transform="rotate(-90 920.8 417.9)" textLength="32.63" lengthAdjust="spacingAndGlyphs">Vip_Crh</text>
<text x="930.8" y="417.9" font-size="8.9" text-anchor="end" transform="rotate(-90 930.8 417.9)" textLength="37.68" lengthAdjust="spacingAndGlyphs">Vip_Nrg1</text>
<text x="940.8" y="417.9" font-size="8.9" text-anchor="end" transform="rotate(-90 940.8 417.9)" textLength="51.3" lengthAdjust="spacingAndGlyphs">Vip_Sema3c</text>
<text x="950.8" y="417.9" font-size="8.9" text-anchor="end" transform="rotate(-90 950.8 417.9)" textLength="39.19" lengthAdjust="spacingAndGlyphs">Vip_Sstr1</text>
<text x="960.8" y="417.9" font-size="8.9" text-anchor="end" transform="rotate(-90 960.8 417.9)" textLength="30.61" lengthAdjust="spacingAndGlyphs">Vip_Tyr</text>
<line x1="922.55" y1="289.8" x2="922.55" y2="302.5" stroke="#111" stroke-width="1"/>
<rect x="917.4" y="291.8" width="10.3" height="8.5" fill="#74b3dc" stroke="#111" stroke-width="1.1"/>
<line x1="917.4" y1="296.05" x2="927.7" y2="296.05" stroke="#111" stroke-width="1.3"/>
<circle cx="922.55" cy="296.05" r="0.9" fill="#111"/>
<line x1="922.55" y1="304.3" x2="922.55" y2="317.5" stroke="#111" stroke-width="1"/>
<rect x="917.4" y="306.3" width="10.3" height="9" fill="#e8758a" stroke="#111" stroke-width="1.1"/>
<line x1="917.4" y1="310.8" x2="927.7" y2="310.8" stroke="#111" stroke-width="1.3"/>
<circle cx="922.55" cy="310.8" r="0.9" fill="#111"/>
<text x="931.4" y="299.48" font-size="9.74" textLength="27.08" lengthAdjust="spacingAndGlyphs">Control</text>
<text x="931.4" y="314.38" font-size="9.74" textLength="31.75" lengthAdjust="spacingAndGlyphs">Epilepsy</text>
<rect x="113.2" y="562.5" width="270.9" height="206.9" fill="#fff"/>
<line x1="113.2" y1="568.74" x2="384.1" y2="568.74" stroke="#f0f0f0" stroke-width="0.8"/>
<line x1="113.2" y1="626.06" x2="384.1" y2="626.06" stroke="#f0f0f0" stroke-width="0.8"/>
<line x1="113.2" y1="683.38" x2="384.1" y2="683.38" stroke="#f0f0f0" stroke-width="0.8"/>
<line x1="113.2" y1="740.7" x2="384.1" y2="740.7" stroke="#f0f0f0" stroke-width="0.8"/>
<line x1="113.2" y1="597.4" x2="384.1" y2="597.4" stroke="#e6e6e6" stroke-width="1.2"/>
<line x1="113.2" y1="654.72" x2="384.1" y2="654.72" stroke="#e6e6e6" stroke-width="1.2"/>
<line x1="113.2" y1="712.04" x2="384.1" y2="712.04" stroke="#e6e6e6" stroke-width="1.2"/>
<line x1="125.51" y1="562.5" x2="125.51" y2="769.4" stroke="#e6e6e6" stroke-width="1.2"/>
<line x1="146.04" y1="562.5" x2="146.04" y2="769.4" stroke="#e6e6e6" stroke-width="1.2"/>
<line x1="166.56" y1="562.5" x2="166.56" y2="769.4" stroke="#e6e6e6" stroke-width="1.2"/>
<line x1="187.08" y1="562.5" x2="187.08" y2="769.4" stroke="#e6e6e6" stroke-width="1.2"/>
<line x1="207.6" y1="562.5" x2="207.6" y2="769.4" stroke="#e6e6e6" stroke-width="1.2"/>
<line x1="228.13" y1="562.5" x2="228.13" y2="769.4" stroke="#e6e6e6" stroke-width="1.2"/>
<line x1="248.65" y1="562.5" x2="248.65" y2="769.4" stroke="#e6e6e6" stroke-width="1.2"/>
<line x1="269.17" y1="562.5" x2="269.17" y2="769.4" stroke="#e6e6e6" stroke-width="1.2"/>
<line x1="289.7" y1="562.5" x2="289.7" y2="769.4" stroke="#e6e6e6" stroke-width="1.2"/>
<line x1="310.22" y1="562.5" x2="310.22" y2="769.4" stroke="#e6e6e6" stroke-width="1.2"/>
<line x1="330.74" y1="562.5" x2="330.74" y2="769.4" stroke="#e6e6e6" stroke-width="1.2"/>
<line x1="351.26" y1="562.5" x2="351.26" y2="769.4" stroke="#e6e6e6" stroke-width="1.2"/>
<line x1="371.79" y1="562.5" x2="371.79" y2="769.4" stroke="#e6e6e6" stroke-width="1.2"/>
<line x1="125.51" y1="586.56" x2="125.51" y2="661.74" stroke="#000" stroke-width="1.2"/>
<rect x="117.81" y="613.65" width="15.4" height="31.15" fill="#66c2a5" stroke="#000" stroke-width="1.2"/>
<line x1="117.81" y1="631.26" x2="133.21" y2="631.26" stroke="#333" stroke-width="1.6"/>
<line x1="146.04" y1="581.48" x2="146.04" y2="705.09" stroke="#000" stroke-width="1.2"/>
<rect x="138.34" y="619.75" width="15.4" height="57.23" fill="#66c2a5" stroke="#000" stroke-width="1.2"/>
<line x1="138.34" y1="643.79" x2="153.74" y2="643.79" stroke="#333" stroke-width="1.6"/>
<line x1="166.56" y1="583.85" x2="166.56" y2="642.1" stroke="#000" stroke-width="1.2"/>
<rect x="158.86" y="608.24" width="15.4" height="18.96" fill="#66c2a5" stroke="#000" stroke-width="1.2"/>
<line x1="158.86" y1="617.72" x2="174.26" y2="617.72" stroke="#333" stroke-width="1.6"/>
<line x1="187.08" y1="585.55" x2="187.08" y2="653.28" stroke="#000" stroke-width="1.2"/>
<rect x="179.38" y="606.54" width="15.4" height="20.32" fill="#66c2a5" stroke="#000" stroke-width="1.2"/>
<line x1="179.38" y1="619.41" x2="194.78" y2="619.41" stroke="#333" stroke-width="1.6"/>
<line x1="207.6" y1="583.85" x2="207.6" y2="659.03" stroke="#000" stroke-width="1.2"/>
<rect x="199.9" y="606.88" width="15.4" height="28.45" fill="#66c2a5" stroke="#000" stroke-width="1.2"/>
<line x1="199.9" y1="620.09" x2="215.3" y2="620.09" stroke="#333" stroke-width="1.6"/>
<line x1="228.13" y1="581.15" x2="228.13" y2="643.12" stroke="#000" stroke-width="1.2"/>
<rect x="220.43" y="602.48" width="15.4" height="21.33" fill="#66c2a5" stroke="#000" stroke-width="1.2"/>
<line x1="220.43" y1="610.95" x2="235.83" y2="610.95" stroke="#333" stroke-width="1.6"/>
<line x1="248.65" y1="581.48" x2="248.65" y2="676.98" stroke="#000" stroke-width="1.2"/>
<rect x="240.95" y="616.03" width="15.4" height="27.77" fill="#66c2a5" stroke="#000" stroke-width="1.2"/>
<line x1="240.95" y1="631.26" x2="256.35" y2="631.26" stroke="#333" stroke-width="1.6"/>
<line x1="269.17" y1="582.84" x2="269.17" y2="684.77" stroke="#000" stroke-width="1.2"/>
<rect x="261.47" y="610.95" width="15.4" height="31.49" fill="#66c2a5" stroke="#000" stroke-width="1.2"/>
<line x1="261.47" y1="630.25" x2="276.87" y2="630.25" stroke="#333" stroke-width="1.6"/>
<line x1="289.7" y1="607.56" x2="289.7" y2="706.78" stroke="#000" stroke-width="1.2"/>
<rect x="282" y="628.89" width="15.4" height="39.96" fill="#66c2a5" stroke="#000" stroke-width="1.2"/>
<line x1="282" y1="650.57" x2="297.4" y2="650.57" stroke="#333" stroke-width="1.6"/>
<line x1="310.22" y1="587.92" x2="310.22" y2="668.51" stroke="#000" stroke-width="1.2"/>
<rect x="302.52" y="610.27" width="15.4" height="26.08" fill="#66c2a5" stroke="#000" stroke-width="1.2"/>
<line x1="302.52" y1="626.18" x2="317.92" y2="626.18" stroke="#333" stroke-width="1.6"/>
<line x1="330.74" y1="596.38" x2="330.74" y2="678.67" stroke="#000" stroke-width="1.2"/>
<rect x="323.04" y="616.36" width="15.4" height="31.83" fill="#66c2a5" stroke="#000" stroke-width="1.2"/>
<line x1="323.04" y1="632.96" x2="338.44" y2="632.96" stroke="#333" stroke-width="1.6"/>
<line x1="351.26" y1="592.32" x2="351.26" y2="732.86" stroke="#000" stroke-width="1.2"/>
<rect x="343.56" y="627.2" width="15.4" height="42.33" fill="#66c2a5" stroke="#000" stroke-width="1.2"/>
<line x1="343.56" y1="651.58" x2="358.96" y2="651.58" stroke="#333" stroke-width="1.6"/>
<line x1="371.79" y1="577.08" x2="371.79" y2="648.2" stroke="#000" stroke-width="1.2"/>
<rect x="364.09" y="604.17" width="15.4" height="17.61" fill="#66c2a5" stroke="#000" stroke-width="1.2"/>
<line x1="364.09" y1="612.64" x2="379.49" y2="612.64" stroke="#333" stroke-width="1.6"/>
<line x1="113.2" y1="597.4" x2="384.1" y2="597.4" stroke="#0a6a0a" stroke-width="3.1"/>
<line x1="113.2" y1="630.36" x2="384.1" y2="630.36" stroke="#9a0f0f" stroke-width="3.1"/>
<path d="M123.06 605.41h0M125.01 602.31h0M123.68 589.58h0M124.04 605.05h0M128.53 603.85h0M127.46 601.46h0M124.26 611.5h0M127.98 603.73h0M123.66 600.11h0M124.84 594.52h0M127.78 612.87h0M126.42 609.13h0M122.96 612.92h0M128.65 593.92h0M123.68 598.01h0M123.97 630.53h0M127.26 613.97h0M124.42 614.28h0M124.21 619.75h0M122.78 620.42h0M122.89 628.49h0M126.04 631h0M123.87 621.96h0M126.16 630.22h0M124.69 627.91h0M125.21 627h0M128.45 630.73h0M125.41 623.09h0M125.99 623.51h0M127.86 616.43h0M123.48 622.12h0M123.3 619.99h0M128.13 622.46h0M127.55 619.6h0M123.91 623.21h0M123.53 626.37h0M127.05 613.7h0M128.33 613.73h0M123.57 642.65h0M128.39 640.85h0M127.96 635.53h0M126.18 634.37h0M125.01 635.18h0M122.98 632.22h0M122.56 641.64h0M128.47 636.69h0M123.84 642.73h0M126.82 636.5h0M123.96 644.24h0M127.59 642.74h0M126.13 631.27h0M124.19 634.1h0M123.44 643.59h0M126.92 637.63h0M122.75 644.54h0M123.78 636.65h0M125.89 632.25h0M127.77 639.79h0M126.25 641.81h0M124.11 634.92h0M128.18 632.44h0M123.62 648.06h0M122.42 660.84h0M124.04 655.98h0M125.17 645.5h0M122.7 646.88h0M123.44 645.35h0M124.67 645.06h0M125.98 656.86h0M123.16 646.08h0M124.63 651.89h0M128.02 649.88h0M128.59 646.22h0M126.52 655.41h0M126.74 645.61h0M126.05 653.55h0M123.21 586.56h0M122.54 661.74h0M144.61 619.66h0M143.92 586.52h0M145.72 597.29h0M144.6 583.6h0M144.21 619.63h0M145.49 600.33h0M146.84 606.94h0M146 595.86h0M144.85 612.86h0M148.21 581.52h0M149.12 618.96h0M145.73 604.31h0M143.31 595.54h0M143.04 587.07h0M148.42 595.53h0M143.1 626.87h0M147.37 624.72h0M146.49 621.79h0M144.81 635.33h0M147.9 627.32h0M142.96 622.13h0M143.71 622.85h0M145.75 633.76h0M142.99 624.79h0M148.15 623.03h0M144.36 630.02h0M143.74 628.77h0M143.14 634.6h0M146.86 629.78h0M145.69 629.15h0M146.87 641.87h0M147.03 628.42h0M148 619.91h0M148.97 622.64h0M147.22 626.28h0M144.11 634.45h0M145.88 626.12h0M143.98 629.83h0M142.91 658.41h0M145.86 671.62h0M147.41 646.57h0M143.98 668.69h0M144.58 644.78h0M145.05 663.75h0M147.3 659.75h0M146.17 651.43h0M146.77 666.97h0M147.68 660.3h0M145.35 664.19h0M147.9 674.34h0M148.64 652.28h0M143.39 644.17h0M148.81 653.78h0M147.46 666.3h0M143.67 650.52h0M145.74 649.42h0M146.84 673.85h0M148.66 665.7h0M145.25 658.46h0M146.48 673.39h0M148.46 654.64h0M147.94 692.25h0M148.88 679.47h0M145.8 684.93h0M147 697.32h0M144.15 701.55h0M147.46 700.19h0M148.07 683.68h0M146.94 689.5h0M147.43 681.98h0M144.2 678.39h0M148.6 686.81h0M149.11 698.51h0M149.09 698.96h0M146.27 693.84h0M147.9 703.01h0M144.89 581.48h0M148.66 705.09h0M165.63 588.93h0M167.33 603.22h0M164.03 607.66h0M168.04 601.1h0M164.14 598.28h0M166.63 591.82h0M164.96 599.94h0M164.62 608.12h0M166.75 590.49h0M166.15 607.84h0M165.76 590.79h0M166 606.48h0M166.75 603.51h0M164.38 591.18h0M164.67 606.95h0M167.4 616.31h0M167.45 612.82h0M166.75 610.86h0M168.81 609.75h0M167.27 611.18h0M168.84 608.75h0M164.85 613.05h0M168.1 608.72h0M168.55 616.9h0M169.14 615.62h0M165.38 612.72h0M165.38 614.97h0M169.26 610.81h0M164.76 611.66h0M169.75 612.76h0M169.04 609.72h0M164.22 612.41h0M164.89 614.76h0M168.01 614.1h0M165.02 609.7h0M163.98 609.18h0M168.68 615.74h0M166.06 609.65h0M168.41 626.9h0M164.17 622.69h0M165.94 623.15h0M167.74 619.62h0M163.47 622.8h0M164.65 622.49h0M167.73 623.46h0M169.19 617.98h0M169.56 626.91h0M164.1 622.61h0M166.6 621.52h0M168.21 625.31h0M166.58 623.06h0M167.75 622.37h0M164.57 624.27h0M163.81 618.34h0M164.04 622.83h0M163.6 621.64h0M166.89 626.79h0M166.65 626.47h0M167 620.27h0M164.3 622.2h0M164.54 618.92h0M164.66 631.46h0M168.74 638.18h0M169.7 639.93h0M169.29 632.1h0M163.97 629.86h0M163.76 628.45h0M169.45 634.44h0M166.32 640.46h0M168.25 627.89h0M165.45 637.45h0M166.35 627.25h0M166.66 628.47h0M166.11 628.81h0M167.21 635.69h0M163.44 629.92h0M167.85 583.85h0M168.76 642.1h0M184.96 604.92h0M187.05 600.12h0M187.79 593.2h0M184.26 601.13h0M189.93 604.73h0M186.57 605.14h0M187.25 598.84h0M187.71 606.5h0M186.22 588.82h0M185.71 591.47h0M188.07 594.12h0M187.47 589.78h0M185.7 596.06h0M188.47 601.14h0M185.78 596.8h0M183.97 612.92h0M185.45 606.77h0M184.16 609.05h0M184.88 616.09h0M188.71 607.68h0M186.38 609.83h0M189.63 609.4h0M188.67 608.93h0M184.2 614.19h0M190.21 607.87h0M189.93 608.09h0M184.35 610.47h0M189.68 609.54h0M186.63 609.56h0M186.94 614.19h0M190.11 610.11h0M185.44 618.5h0M187.23 615.01h0M189.88 613.38h0M188.51 619.28h0M186.88 614.84h0M190.15 611.19h0M189.11 611.38h0M187.75 621.14h0M184.62 626.45h0M187.88 624.37h0M186.8 621.93h0M185.19 624.33h0M184.21 623.65h0M187.26 623.38h0M184.68 622.31h0M186.72 626.86h0M188.16 624.2h0M186.8 624.64h0M185.56 625.09h0M187.61 626.71h0M186.57 619.58h0M188.86 624h0M187.28 624.92h0M190.27 621.32h0M189.98 622.4h0M188.58 619.79h0M185.41 620.87h0M184.61 622.21h0M189.6 620.14h0M188.9 621.28h0M187.88 649.63h0M186.18 637.64h0M185.62 636.42h0M188.27 651.98h0M187.5 638.17h0M187.67 653.08h0M187.93 640.32h0M188.7 646.1h0M185.1 627.42h0M185.48 639.06h0M190.15 644.34h0M189.74 627.11h0M189.51 650.56h0M184.13 628.55h0M184.27 635.42h0M185.62 585.55h0M186.6 653.28h0M209.76 595.55h0M208.01 606.13h0M205.53 597.7h0M209.26 606.43h0M210.04 606.3h0M206.21 594.08h0M204.55 597.47h0M207.7 595.34h0M207.89 601.63h0M208.04 599.26h0M210.59 604.66h0M208.57 602.24h0M209.55 592.08h0M204.81 589.2h0M207.9 606.42h0M209.45 618.51h0M204.94 609.4h0M204.93 611.85h0M209.12 609.94h0M210.16 617.27h0M204.95 614.48h0M208.46 616.68h0M205.33 609.39h0M209.18 615.22h0M208.56 611.46h0M205.98 607.02h0M205.82 615.79h0M209.3 612.84h0M207.74 610.24h0M209.3 607.93h0M206.93 614.44h0M206.57 615.21h0M210.6 618.81h0M208.71 608.53h0M207.56 619.05h0M207.84 618.99h0M209.02 612.64h0M208.94 613.69h0M210.26 630.53h0M207.03 624.64h0M209.69 631.91h0M208.67 621.25h0M209.87 623.34h0M209.56 630.18h0M209.74 621.33h0M210.09 624.72h0M210.53 631.14h0M208.5 630.66h0M207.76 624.4h0M208.95 622.27h0M209.54 625.54h0M207.1 631.15h0M207.1 625.67h0M205.34 621.88h0M209.15 630.9h0M210.75 628.76h0M206.81 634.09h0M205.48 634.41h0M205.71 634.01h0M207.12 626.76h0M206.27 632.33h0M210.61 639.32h0M204.78 639.57h0M206.38 641.32h0M205.14 656.75h0M208.55 655.39h0M209.37 638.26h0M205.55 640.48h0M204.8 640.57h0M207.34 640.52h0M208.14 641.23h0M210.22 641.05h0M204.64 637.37h0M205.1 645.36h0M205.59 652.2h0M205.8 644.75h0M205.91 583.85h0M208.99 659.03h0M227.23 592.69h0M229.32 600.22h0M225.6 600.78h0M227.45 599.3h0M227.88 600.95h0M231.12 588.41h0M230.24 598.77h0M229.11 593.82h0M225.01 586.72h0M227.34 595.4h0M229.47 599.64h0M226.45 584.64h0M228.54 583.83h0M227.86 598.21h0M224.99 593.84h0M231.27 602.84h0M230.04 606.86h0M226.25 609.07h0M228.87 610.52h0M226.79 602.92h0M227.33 604.16h0M228.38 607.69h0M226.84 606.48h0M227.09 606.58h0M227.44 608.62h0M229.19 602.56h0M226.57 605.38h0M226.21 608.93h0M229.61 610.85h0M227.04 606.94h0M230.98 607.8h0M228.53 604.2h0M229.56 604.91h0M227.05 605.81h0M230.22 609.61h0M225.52 609.62h0M225.83 608.22h0M225.53 608.75h0M229.26 622.13h0M229.46 617.59h0M226.08 619.14h0M227.5 623.73h0M230.28 614.38h0M228.72 617.82h0M225.5 612.88h0M226.38 620.86h0M225.93 610.96h0M225.72 621.52h0M227.53 621.83h0M225.39 621.52h0M230.82 612.01h0M227.66 614.42h0M228.2 620.17h0M229.07 612.2h0M229.84 617.12h0M230.18 616.98h0M227.4 623.24h0M227.05 618.49h0M227.56 621.98h0M225.03 614.85h0M227.49 621.1h0M229.41 629.01h0M231.21 640.76h0M229.98 624.34h0M229.15 638.31h0M228.82 625.65h0M225.05 631.55h0M227.05 631.17h0M227.12 625.02h0M229.09 638.46h0M225.61 627.17h0M227.34 627.16h0M228.19 624.22h0M229.97 627.08h0M230.21 629.98h0M228.84 635.49h0M225.94 581.15h0M229.83 643.12h0M230.71 663.43h0M228.44 666.14h0M227.18 668.51h0M251.82 603.8h0M250.81 614.18h0M250.92 595.21h0M248.07 582.17h0M248.23 603.22h0M249.07 595.13h0M251.24 589.65h0M248.82 613h0M248.81 584.3h0M248.22 598.87h0M251.24 612.98h0M247.5 615.2h0M245.8 611.85h0M250.09 600.91h0M251.21 595.92h0M250.13 626.25h0M249.27 617.11h0M250.26 625.76h0M247.4 624.21h0M249.25 629.37h0M245.9 616.43h0M246.25 629.2h0M248.31 617.49h0M248.67 622.98h0M247.99 622.72h0M245.78 622.72h0M249.9 627.24h0M248.82 617.41h0M246.98 616.15h0M247.41 618.81h0M247.98 622.1h0M246.96 629.39h0M245.89 618.7h0M251.28 626.87h0M251.64 617.59h0M249.71 627.59h0M251 622.52h0M248.15 618.6h0M250.6 633.59h0M246.87 638.13h0M250.23 632.22h0M249.08 631.67h0M251.23 633.52h0M246.08 643.63h0M250.52 643.03h0M246.24 639.51h0M248.89 635.12h0M251.54 639.67h0M245.45 640.51h0M247.01 636.05h0M247.37 638.68h0M247.53 641.34h0M245.85 631.47h0M251.18 633.76h0M250.67 637.13h0M247.99 633.06h0M247.73 636.11h0M249.2 638.4h0M245.74 633.44h0M245.65 637.78h0M251.2 634.57h0M247.42 658h0M248.64 650.14h0M251.43 660.85h0M251.7 644.04h0M248.47 662.03h0M246.77 645.62h0M247.34 674.98h0M251.35 659.22h0M251.19 654.48h0M246.7 652.55h0M250.81 660.14h0M247.72 662.79h0M248.47 665.7h0M246.55 665.42h0M251.08 655.03h0M251.82 581.48h0M246.74 676.98h0M270.92 596.81h0M271.01 608.59h0M271.04 587.74h0M267.48 610.63h0M269.1 609.97h0M267.39 593.57h0M269.69 606.02h0M269.17 586.94h0M266.2 588.15h0M269.79 594.02h0M270.55 609.55h0M269.64 594.63h0M271.56 585.42h0M267.12 602.6h0M266.94 610.32h0M266.09 625.94h0M269.15 624.32h0M268.75 616.53h0M268.8 626.46h0M267.66 626.75h0M271.08 625.7h0M266.44 617.42h0M271.78 614.99h0M269.61 623.06h0M269.45 617.47h0M271.04 613.18h0M267.5 618.86h0M266.91 625.83h0M267.96 624.44h0M266.24 612.36h0M267.98 617.37h0M269.95 624.9h0M269.34 617.9h0M267.67 628.51h0M269.74 611.27h0M266.54 621.75h0M271.22 620.05h0M267.07 620h0M267.6 630.8h0M267 637.56h0M270.39 633.72h0M271.29 633.31h0M271.01 640.04h0M266.36 631.31h0M268.6 633.72h0M268.31 639.46h0M267.36 633.25h0M272.18 633.65h0M266.24 636.93h0M269.11 632.52h0M270.84 641.18h0M272.28 642.29h0M266.9 630.66h0M268.89 635.88h0M270.74 639.4h0M266.22 634.94h0M267.51 641.58h0M271.67 636.34h0M266.88 632.44h0M268.49 637.03h0M267.88 638.11h0M268.69 651.57h0M266.46 665.05h0M266.19 671.77h0M272.35 658.16h0M270.86 657.66h0M270.67 675.34h0M267.44 666.4h0M267.59 658.34h0M269.5 681.73h0M267.52 645.51h0M268.93 671.58h0M271.94 645.28h0M268.3 662.51h0M268.13 647.27h0M272.25 654.81h0M269.88 582.84h0M266.23 684.77h0M287.94 623.43h0M288.36 617.72h0M288.7 628.59h0M287.88 624.6h0M286.76 616.54h0M286.65 611.75h0M290.53 619.21h0M290.12 611.09h0M291.67 622.18h0M292.74 623.64h0M288.4 612.38h0M290.79 623.87h0M292.38 614.16h0M287.88 626.76h0M290.91 624.52h0M290.76 646.59h0M292.61 638.66h0M292.05 647.01h0M288 646.15h0M290.54 645.92h0M287.07 640.43h0M289.23 643.88h0M289.01 640.88h0M286.88 629.04h0M288.95 635.85h0M288.6 631.87h0M289.68 646.13h0M288.29 642.27h0M287.51 648.99h0M289.07 635.58h0M289.54 642.7h0M287.56 644.62h0M290.75 650.16h0M288.03 646.62h0M287.09 644.88h0M288.68 642.05h0M289.2 630.55h0M287.46 635.07h0M290.22 655.48h0M290.98 657.17h0M290.04 653.37h0M290.98 667.69h0M286.64 657.14h0M289 664.57h0M288.83 663.8h0M286.9 667.15h0M289.08 650.94h0M286.85 656.46h0M289.67 657.6h0M290.25 652.09h0M289.5 666.7h0M288.58 656.51h0M288.12 664.66h0M286.65 660.06h0M288.72 651.57h0M292.2 657.77h0M290.12 654.92h0M288.17 651.31h0M290.77 653.33h0M287.69 661.45h0M289.5 651.15h0M290.43 675.47h0M292.61 679.33h0M288.82 684.07h0M290.18 670.76h0M292.53 691.38h0M291.43 673.89h0M290.51 692.29h0M290.47 689.48h0M289.13 670.99h0M289.16 672.37h0M288.26 674.48h0M291.8 691.68h0M292.13 678.64h0M288.94 677.97h0M292.32 699.42h0M286.74 607.56h0M287.36 706.78h0M308.5 602.2h0M308.2 606.44h0M307.11 605.43h0M310.77 588.69h0M313.04 608.97h0M313.23 608.38h0M307.87 607.83h0M311.42 597.73h0M309.7 607.73h0M311.06 610.27h0M309.56 601.31h0M312.99 604.74h0M313.35 607.65h0M307.33 602.52h0M311.58 598.55h0M307.78 617.46h0M307.29 616.25h0M308.85 617.26h0M311.7 612.96h0M313.38 610.76h0M307.79 620.88h0M309.13 620.67h0M307.19 612.08h0M310.49 621.2h0M310.11 614.79h0M309.41 615.12h0M309 615.26h0M312.14 610.84h0M312.39 613.06h0M308.83 623.65h0M309.52 616.29h0M310.97 618.38h0M311.92 617.21h0M313.3 620.3h0M309.51 621.64h0M311.46 614.26h0M310.51 617.69h0M312.14 622.41h0M307.96 628.72h0M308.14 629.49h0M307.7 627.99h0M312.99 631.4h0M308.63 627.46h0M310.14 626.83h0M307.79 626.88h0M309.09 627.22h0M307.14 633.34h0M310.64 627.33h0M307.94 630.77h0M311.02 634.03h0M308.77 631.07h0M308.47 627.84h0M310.1 634.99h0M309.36 635.02h0M308.68 626.73h0M307.35 628.76h0M307.43 631.34h0M312.73 634.28h0M309 630.17h0M307.52 633.46h0M308.19 628.74h0M310.11 655.82h0M313.4 642.36h0M308.31 642.55h0M312.57 657.63h0M310.12 661.23h0M309.67 660.61h0M312.18 650.1h0M309.55 645.12h0M307.39 655.46h0M310.54 652.16h0M311.22 660.71h0M311.01 659.42h0M308.79 637.77h0M313.03 643.79h0M312.55 653.96h0M313.38 587.92h0M309.85 668.51h0M329.6 601.15h0M328.71 604.03h0M329.83 614.89h0M333.87 616.28h0M328.49 614.98h0M331.6 615.55h0M329.96 615.96h0M331.66 612.07h0M328.9 603.29h0M331.49 612.92h0M333.22 609h0M333.02 616.34h0M331.56 614.44h0M330.77 597.59h0M331.17 616.34h0M328.27 624.21h0M332.9 619.51h0M331.96 619.81h0M330.44 620.75h0M331.8 626.33h0M330.22 619.63h0M330 619.22h0M329.01 620.22h0M331.39 616.6h0M331.21 631.28h0M330.84 617.19h0M327.75 626.28h0M331.56 621.25h0M330.4 628.8h0M331.34 617.86h0M331.35 632.57h0M333.5 623.39h0M328.51 629.19h0M330.54 626.51h0M333.9 626.83h0M332.26 622.06h0M329.54 619.5h0M332.26 626.91h0M333.87 642.68h0M330.11 638.35h0M333.09 637.21h0M328.35 646.75h0M333.88 637.86h0M330.68 634.39h0M329.04 638.06h0M332.92 644.26h0M331.7 636.18h0M333.54 644.28h0M332.85 641.28h0M332.65 643.32h0M330.82 635.66h0M333.9 634.57h0M327.96 635.14h0M333.11 638.3h0M332.1 639.52h0M329.15 633.1h0M332.71 640.62h0M330.45 639.1h0M330.97 637.86h0M333.08 641.14h0M328.8 647.47h0M329.33 651.02h0M331.66 673.38h0M328.01 653.74h0M331.09 668.16h0M332.58 649.28h0M330.68 678.1h0M329.09 656.79h0M332.66 676.98h0M333.01 651.33h0M332.47 656.14h0M331.06 666.28h0M333.34 650.48h0M332.64 652.55h0M328.51 665.18h0M329.88 676.31h0M328.18 596.38h0M327.78 678.67h0M329.75 696.28h0M350.76 599.15h0M350.25 600.64h0M353.31 625.8h0M353.51 624.5h0M351.84 618.75h0M351.56 599.9h0M348.7 610.29h0M353.8 597.33h0M348.63 626.53h0M350.39 592.95h0M350.46 623.92h0M352.69 609.79h0M352.35 598.57h0M350.26 605.55h0M353.81 624.15h0M354.14 635.29h0M348.21 641.08h0M352.11 651.21h0M351.07 643.3h0M350.38 643.89h0M351.04 636.23h0M350.09 644.79h0M352.36 636.88h0M351.94 634.64h0M354.27 647.18h0M354.31 648.46h0M354.42 634.67h0M350.59 640.21h0M353.37 648.43h0M352.22 648.75h0M352.55 628.64h0M354.45 636.71h0M348.49 642.86h0M351.02 646.8h0M350.63 627.33h0M352.26 634.72h0M349.46 633.63h0M354.4 642.8h0M349.4 657.15h0M350.43 658.91h0M348.98 654.21h0M350.59 662.91h0M352.81 659.21h0M348.6 666.3h0M349.13 658.92h0M352.22 659.78h0M352.05 660.67h0M352.81 668.48h0M349.69 657.8h0M353.26 664.21h0M352.74 655.8h0M353.03 661.98h0M348.83 656.7h0M351.06 667.24h0M348.16 656.72h0M353.57 666.92h0M354.11 663.73h0M353.8 659.75h0M348.22 668.34h0M350.31 658.54h0M351.49 664.92h0M351.48 699.05h0M348.78 688.54h0M353.11 670.56h0M349.99 686.71h0M351.31 678.98h0M348.86 688.07h0M351.7 728.58h0M348.89 679.57h0M348.63 706.21h0M351.34 704.42h0M349.95 677.2h0M353.04 686.25h0M349.64 672.57h0M350.71 723.18h0M348.41 677.52h0M349.46 592.32h0M350.95 732.86h0M370.6 592.88h0M371.77 595.74h0M371.89 582.91h0M373.41 603.26h0M368.93 582.94h0M369.18 602.52h0M370.2 578.28h0M370.32 593.87h0M373.68 597.15h0M371.31 591.2h0M374.09 582.42h0M371.16 578.54h0M370.42 596.97h0M372.94 604.14h0M369.13 602.54h0M374.88 605.71h0M373.91 606.42h0M370.69 606.61h0M370.62 611.31h0M373.83 608.14h0M373.63 612.4h0M372.7 611.71h0M368.95 610.09h0M373.47 604.46h0M368.89 607.19h0M372.58 605.46h0M372.12 612.25h0M374.52 609.12h0M372.67 611.98h0M368.73 610.43h0M374.57 611.69h0M373.4 604.86h0M372.3 609.86h0M368.62 608.5h0M373.3 607.1h0M371.26 605.13h0M372.94 604.63h0M374.88 607.83h0M374.45 617.22h0M369.07 620.9h0M373.59 616.25h0M371.41 615.38h0M373.4 619.4h0M371 615h0M371.45 616h0M371.38 616.56h0M369.34 617h0M370.63 615.92h0M373.29 616.57h0M369.04 616.76h0M369.33 613.09h0M373.92 620.28h0M372.85 613.2h0M372.09 617.47h0M369.31 617.65h0M369.34 616.29h0M370.57 614.67h0M374.69 613.55h0M372.17 616.04h0M374.49 615.51h0M369.94 617.06h0M371.24 624.7h0M372.02 638.92h0M373.96 630.77h0M369.38 621.8h0M374.18 628.63h0M371.61 646.87h0M368.79 621.8h0M371.35 633.85h0M371 646.66h0M372.9 627.62h0M374.53 634h0M371.75 627.7h0M373 626.15h0M371.07 634.34h0M373.57 633.74h0M369.26 577.08h0M373.34 648.2h0" stroke="#000" stroke-width="2.5" stroke-linecap="round" fill="none"/>
<rect x="113.2" y="562.5" width="270.9" height="206.9" fill="none" stroke="#333" stroke-width="1"/>
<line x1="113.2" y1="562" x2="113.2" y2="770.2" stroke="#000" stroke-width="1.7"/>
<line x1="112.4" y1="769.4" x2="384.6" y2="769.4" stroke="#000" stroke-width="1.7"/>
<line x1="110.2" y1="597.4" x2="113.2" y2="597.4" stroke="#000" stroke-width="1"/>
<text x="107.4" y="601.39" font-size="11.4" text-anchor="end">0</text>
<line x1="110.2" y1="654.72" x2="113.2" y2="654.72" stroke="#000" stroke-width="1"/>
<text x="108" y="658.71" font-size="11.4" text-anchor="end" textLength="15.08" lengthAdjust="spacing">−4</text>
<line x1="110.2" y1="712.04" x2="113.2" y2="712.04" stroke="#000" stroke-width="1"/>
<text x="108" y="716.03" font-size="11.4" text-anchor="end" textLength="15.08" lengthAdjust="spacing">−8</text>
<line x1="110.2" y1="769.36" x2="113.2" y2="769.36" stroke="#000" stroke-width="1"/>
<text x="108" y="773.35" font-size="11.4" text-anchor="end" textLength="22.43" lengthAdjust="spacing">−12</text>
<line x1="125.51" y1="769.4" x2="125.51" y2="772.4" stroke="#000" stroke-width="1"/>
<line x1="146.04" y1="769.4" x2="146.04" y2="772.4" stroke="#000" stroke-width="1"/>
<line x1="166.56" y1="769.4" x2="166.56" y2="772.4" stroke="#000" stroke-width="1"/>
<line x1="187.08" y1="769.4" x2="187.08" y2="772.4" stroke="#000" stroke-width="1"/>
<line x1="207.6" y1="769.4" x2="207.6" y2="772.4" stroke="#000" stroke-width="1"/>
<line x1="228.13" y1="769.4" x2="228.13" y2="772.4" stroke="#000" stroke-width="1"/>
<line x1="248.65" y1="769.4" x2="248.65" y2="772.4" stroke="#000" stroke-width="1"/>
<line x1="269.17" y1="769.4" x2="269.17" y2="772.4" stroke="#000" stroke-width="1"/>
<line x1="289.7" y1="769.4" x2="289.7" y2="772.4" stroke="#000" stroke-width="1"/>
<line x1="310.22" y1="769.4" x2="310.22" y2="772.4" stroke="#000" stroke-width="1"/>
<line x1="330.74" y1="769.4" x2="330.74" y2="772.4" stroke="#000" stroke-width="1"/>
<line x1="351.26" y1="769.4" x2="351.26" y2="772.4" stroke="#000" stroke-width="1"/>
<line x1="371.79" y1="769.4" x2="371.79" y2="772.4" stroke="#000" stroke-width="1"/>
<text x="129.91" y="778.3" font-size="12.85" text-anchor="end" transform="rotate(-90 129.91 778.3)">L2_3_Cux2_Frem3</text>
<text x="150.44" y="778.3" font-size="12.85" text-anchor="end" transform="rotate(-90 150.44 778.3)">L2_Cux2_Lamp5</text>
<text x="170.96" y="778.3" font-size="12.85" text-anchor="end" transform="rotate(-90 170.96 778.3)">L3_Cux2_Prss12</text>
<text x="191.48" y="778.3" font-size="12.85" text-anchor="end" transform="rotate(-90 191.48 778.3)">L4_Rorb_Arhgap15</text>
<text x="212" y="778.3" font-size="12.85" text-anchor="end" transform="rotate(-90 212 778.3)">L4_Rorb_Met</text>
<text x="232.53" y="778.3" font-size="12.85" text-anchor="end" transform="rotate(-90 232.53 778.3)">L4_Rorb_Mme</text>
<text x="253.05" y="778.3" font-size="12.85" text-anchor="end" transform="rotate(-90 253.05 778.3)">L5_6_Fezf2_Lrrk1_Pcp4</text>
<text x="273.57" y="778.3" font-size="12.85" text-anchor="end" transform="rotate(-90 273.57 778.3)">L5_6_Fezf2_Lrrk1_Sema3e</text>
<text x="294.1" y="778.3" font-size="12.85" text-anchor="end" transform="rotate(-90 294.1 778.3)">L5_6_Fezf2_Tle4_Abo</text>
<text x="314.62" y="778.3" font-size="12.85" text-anchor="end" transform="rotate(-90 314.62 778.3)">L5_6_Fezf2_Tle4_Htr2c</text>
<text x="335.14" y="778.3" font-size="12.85" text-anchor="end" transform="rotate(-90 335.14 778.3)">L5_6_Fezf2_Tle4_Scube1</text>
<text x="355.66" y="778.3" font-size="12.85" text-anchor="end" transform="rotate(-90 355.66 778.3)">L5_6_Themis_Ntng2</text>
<text x="376.19" y="778.3" font-size="12.85" text-anchor="end" transform="rotate(-90 376.19 778.3)">L5_6_Themis_Sema3a</text>
<text x="83.8" y="664.95" font-size="13.6" text-anchor="middle" transform="rotate(-90 83.8 664.95)" textLength="83.8" lengthAdjust="spacingAndGlyphs">Similarity score</text>
<rect x="516.3" y="559.3" width="355.4" height="208" fill="#fff"/>
<line x1="516.3" y1="566.9" x2="871.7" y2="566.9" stroke="#f0f0f0" stroke-width="0.8"/>
<line x1="516.3" y1="623.9" x2="871.7" y2="623.9" stroke="#f0f0f0" stroke-width="0.8"/>
<line x1="516.3" y1="680.9" x2="871.7" y2="680.9" stroke="#f0f0f0" stroke-width="0.8"/>
<line x1="516.3" y1="737.9" x2="871.7" y2="737.9" stroke="#f0f0f0" stroke-width="0.8"/>
<line x1="516.3" y1="595.4" x2="871.7" y2="595.4" stroke="#e6e6e6" stroke-width="1.2"/>
<line x1="516.3" y1="652.4" x2="871.7" y2="652.4" stroke="#e6e6e6" stroke-width="1.2"/>
<line x1="516.3" y1="709.4" x2="871.7" y2="709.4" stroke="#e6e6e6" stroke-width="1.2"/>
<line x1="525.49" y1="559.3" x2="525.49" y2="767.3" stroke="#e6e6e6" stroke-width="1.2"/>
<line x1="540.81" y1="559.3" x2="540.81" y2="767.3" stroke="#e6e6e6" stroke-width="1.2"/>
<line x1="556.13" y1="559.3" x2="556.13" y2="767.3" stroke="#e6e6e6" stroke-width="1.2"/>
<line x1="571.45" y1="559.3" x2="571.45" y2="767.3" stroke="#e6e6e6" stroke-width="1.2"/>
<line x1="586.77" y1="559.3" x2="586.77" y2="767.3" stroke="#e6e6e6" stroke-width="1.2"/>
<line x1="602.09" y1="559.3" x2="602.09" y2="767.3" stroke="#e6e6e6" stroke-width="1.2"/>
<line x1="617.41" y1="559.3" x2="617.41" y2="767.3" stroke="#e6e6e6" stroke-width="1.2"/>
<line x1="632.72" y1="559.3" x2="632.72" y2="767.3" stroke="#e6e6e6" stroke-width="1.2"/>
<line x1="648.04" y1="559.3" x2="648.04" y2="767.3" stroke="#e6e6e6" stroke-width="1.2"/>
<line x1="663.36" y1="559.3" x2="663.36" y2="767.3" stroke="#e6e6e6" stroke-width="1.2"/>
<line x1="678.68" y1="559.3" x2="678.68" y2="767.3" stroke="#e6e6e6" stroke-width="1.2"/>
<line x1="694" y1="559.3" x2="694" y2="767.3" stroke="#e6e6e6" stroke-width="1.2"/>
<line x1="709.32" y1="559.3" x2="709.32" y2="767.3" stroke="#e6e6e6" stroke-width="1.2"/>
<line x1="724.64" y1="559.3" x2="724.64" y2="767.3" stroke="#e6e6e6" stroke-width="1.2"/>
<line x1="739.96" y1="559.3" x2="739.96" y2="767.3" stroke="#e6e6e6" stroke-width="1.2"/>
<line x1="755.28" y1="559.3" x2="755.28" y2="767.3" stroke="#e6e6e6" stroke-width="1.2"/>
<line x1="770.59" y1="559.3" x2="770.59" y2="767.3" stroke="#e6e6e6" stroke-width="1.2"/>
<line x1="785.91" y1="559.3" x2="785.91" y2="767.3" stroke="#e6e6e6" stroke-width="1.2"/>
<line x1="801.23" y1="559.3" x2="801.23" y2="767.3" stroke="#e6e6e6" stroke-width="1.2"/>
<line x1="816.55" y1="559.3" x2="816.55" y2="767.3" stroke="#e6e6e6" stroke-width="1.2"/>
<line x1="831.87" y1="559.3" x2="831.87" y2="767.3" stroke="#e6e6e6" stroke-width="1.2"/>
<line x1="847.19" y1="559.3" x2="847.19" y2="767.3" stroke="#e6e6e6" stroke-width="1.2"/>
<line x1="862.51" y1="559.3" x2="862.51" y2="767.3" stroke="#e6e6e6" stroke-width="1.2"/>
<line x1="525.49" y1="582.97" x2="525.49" y2="650.95" stroke="#000" stroke-width="1.2"/>
<rect x="520.04" y="602.39" width="10.9" height="22.53" fill="#fc8d62" stroke="#000" stroke-width="1.2"/>
<line x1="520.04" y1="612.1" x2="530.94" y2="612.1" stroke="#333" stroke-width="1.6"/>
<line x1="540.81" y1="590.74" x2="540.81" y2="658.72" stroke="#000" stroke-width="1.2"/>
<rect x="535.36" y="604.33" width="10.9" height="21.36" fill="#fc8d62" stroke="#000" stroke-width="1.2"/>
<line x1="535.36" y1="612.1" x2="546.26" y2="612.1" stroke="#333" stroke-width="1.6"/>
<line x1="556.13" y1="577.14" x2="556.13" y2="680.86" stroke="#000" stroke-width="1.2"/>
<rect x="550.68" y="608.22" width="10.9" height="33.02" fill="#fc8d62" stroke="#000" stroke-width="1.2"/>
<line x1="550.68" y1="619.87" x2="561.58" y2="619.87" stroke="#333" stroke-width="1.6"/>
<line x1="571.45" y1="584.91" x2="571.45" y2="652.89" stroke="#000" stroke-width="1.2"/>
<rect x="566" y="595.79" width="10.9" height="20.98" fill="#fc8d62" stroke="#000" stroke-width="1.2"/>
<line x1="566" y1="604.33" x2="576.9" y2="604.33" stroke="#333" stroke-width="1.6"/>
<line x1="586.77" y1="582.97" x2="586.77" y2="635.41" stroke="#000" stroke-width="1.2"/>
<rect x="581.32" y="596.57" width="10.9" height="17.48" fill="#fc8d62" stroke="#000" stroke-width="1.2"/>
<line x1="581.32" y1="604.33" x2="592.22" y2="604.33" stroke="#333" stroke-width="1.6"/>
<line x1="602.09" y1="585.69" x2="602.09" y2="623.76" stroke="#000" stroke-width="1.2"/>
<rect x="596.64" y="595.79" width="10.9" height="12.43" fill="#fc8d62" stroke="#000" stroke-width="1.2"/>
<line x1="596.64" y1="600.45" x2="607.54" y2="600.45" stroke="#333" stroke-width="1.6"/>
<line x1="617.41" y1="579.09" x2="617.41" y2="615.99" stroke="#000" stroke-width="1.2"/>
<rect x="611.96" y="591.52" width="10.9" height="10.88" fill="#fc8d62" stroke="#000" stroke-width="1.2"/>
<line x1="611.96" y1="595.79" x2="622.86" y2="595.79" stroke="#333" stroke-width="1.6"/>
<line x1="632.72" y1="576.37" x2="632.72" y2="670.37" stroke="#000" stroke-width="1.2"/>
<rect x="627.27" y="604.33" width="10.9" height="31.08" fill="#fc8d62" stroke="#000" stroke-width="1.2"/>
<line x1="627.27" y1="615.99" x2="638.17" y2="615.99" stroke="#333" stroke-width="1.6"/>
<line x1="648.04" y1="585.69" x2="648.04" y2="671.15" stroke="#000" stroke-width="1.2"/>
<rect x="642.59" y="608.22" width="10.9" height="27.19" fill="#fc8d62" stroke="#000" stroke-width="1.2"/>
<line x1="642.59" y1="619.87" x2="653.49" y2="619.87" stroke="#333" stroke-width="1.6"/>
<line x1="663.36" y1="577.92" x2="663.36" y2="660.66" stroke="#000" stroke-width="1.2"/>
<rect x="657.91" y="596.57" width="10.9" height="24.08" fill="#fc8d62" stroke="#000" stroke-width="1.2"/>
<line x1="657.91" y1="608.22" x2="668.81" y2="608.22" stroke="#333" stroke-width="1.6"/>
<line x1="678.68" y1="582.97" x2="678.68" y2="652.89" stroke="#000" stroke-width="1.2"/>
<rect x="673.23" y="595.79" width="10.9" height="23.31" fill="#fc8d62" stroke="#000" stroke-width="1.2"/>
<line x1="673.23" y1="604.33" x2="684.13" y2="604.33" stroke="#333" stroke-width="1.6"/>
<line x1="694" y1="585.69" x2="694" y2="647.06" stroke="#000" stroke-width="1.2"/>
<rect x="688.55" y="601.62" width="10.9" height="19.03" fill="#fc8d62" stroke="#000" stroke-width="1.2"/>
<line x1="688.55" y1="610.16" x2="699.45" y2="610.16" stroke="#333" stroke-width="1.6"/>
<line x1="709.32" y1="584.14" x2="709.32" y2="633.47" stroke="#000" stroke-width="1.2"/>
<rect x="703.87" y="593.46" width="10.9" height="14.76" fill="#fc8d62" stroke="#000" stroke-width="1.2"/>
<line x1="703.87" y1="599.67" x2="714.77" y2="599.67" stroke="#333" stroke-width="1.6"/>
<line x1="724.64" y1="579.86" x2="724.64" y2="664.54" stroke="#000" stroke-width="1.2"/>
<rect x="719.19" y="614.05" width="10.9" height="24.08" fill="#fc8d62" stroke="#000" stroke-width="1.2"/>
<line x1="719.19" y1="625.7" x2="730.09" y2="625.7" stroke="#333" stroke-width="1.6"/>
<line x1="739.96" y1="577.92" x2="739.96" y2="641.24" stroke="#000" stroke-width="1.2"/>
<rect x="734.51" y="596.57" width="10.9" height="22.14" fill="#fc8d62" stroke="#000" stroke-width="1.2"/>
<line x1="734.51" y1="606.28" x2="745.41" y2="606.28" stroke="#333" stroke-width="1.6"/>
<line x1="755.28" y1="581.8" x2="755.28" y2="633.47" stroke="#000" stroke-width="1.2"/>
<rect x="749.83" y="593.85" width="10.9" height="20.2" fill="#fc8d62" stroke="#000" stroke-width="1.2"/>
<line x1="749.83" y1="601.62" x2="760.73" y2="601.62" stroke="#333" stroke-width="1.6"/>
<line x1="770.59" y1="581.03" x2="770.59" y2="633.47" stroke="#000" stroke-width="1.2"/>
<rect x="765.14" y="590.74" width="10.9" height="13.6" fill="#fc8d62" stroke="#000" stroke-width="1.2"/>
<line x1="765.14" y1="596.57" x2="776.04" y2="596.57" stroke="#333" stroke-width="1.6"/>
<line x1="785.91" y1="582.97" x2="785.91" y2="699.5" stroke="#000" stroke-width="1.2"/>
<rect x="780.46" y="608.22" width="10.9" height="52.44" fill="#fc8d62" stroke="#000" stroke-width="1.2"/>
<line x1="780.46" y1="635.41" x2="791.36" y2="635.41" stroke="#333" stroke-width="1.6"/>
<line x1="801.23" y1="582.19" x2="801.23" y2="619.87" stroke="#000" stroke-width="1.2"/>
<rect x="795.78" y="588.8" width="10.9" height="12.43" fill="#fc8d62" stroke="#000" stroke-width="1.2"/>
<line x1="795.78" y1="593.46" x2="806.68" y2="593.46" stroke="#333" stroke-width="1.6"/>
<line x1="816.55" y1="584.14" x2="816.55" y2="660.66" stroke="#000" stroke-width="1.2"/>
<rect x="811.1" y="601.23" width="10.9" height="26.41" fill="#fc8d62" stroke="#000" stroke-width="1.2"/>
<line x1="811.1" y1="614.05" x2="822" y2="614.05" stroke="#333" stroke-width="1.6"/>
<line x1="831.87" y1="577.92" x2="831.87" y2="658.72" stroke="#000" stroke-width="1.2"/>
<rect x="826.42" y="596.57" width="10.9" height="24.47" fill="#fc8d62" stroke="#000" stroke-width="1.2"/>
<line x1="826.42" y1="608.22" x2="837.32" y2="608.22" stroke="#333" stroke-width="1.6"/>
<line x1="847.19" y1="581.8" x2="847.19" y2="635.41" stroke="#000" stroke-width="1.2"/>
<rect x="841.74" y="594.62" width="10.9" height="19.42" fill="#fc8d62" stroke="#000" stroke-width="1.2"/>
<line x1="841.74" y1="602.39" x2="852.64" y2="602.39" stroke="#333" stroke-width="1.6"/>
<line x1="862.51" y1="581.8" x2="862.51" y2="655.61" stroke="#000" stroke-width="1.2"/>
<rect x="857.06" y="604.33" width="10.9" height="25.25" fill="#fc8d62" stroke="#000" stroke-width="1.2"/>
<line x1="857.06" y1="614.05" x2="867.96" y2="614.05" stroke="#333" stroke-width="1.6"/>
<line x1="516.3" y1="595.4" x2="871.7" y2="595.4" stroke="#0a6a0a" stroke-width="3.1"/>
<line x1="516.3" y1="610.22" x2="871.7" y2="610.22" stroke="#9a0f0f" stroke-width="3.1"/>
<path d="M526.89 585.12h0M527.56 584.45h0M525.67 586.02h0M527.74 601.92h0M526.64 593.54h0M524.78 597.03h0M527.67 594.9h0M524.93 601.48h0M524.08 600.76h0M523.54 596.63h0M525.33 600.37h0M524.1 596.43h0M527.49 602.32h0M527.56 601.9h0M524.18 605.21h0M523.67 608.01h0M525.62 607.12h0M523.97 604.97h0M525.69 608.62h0M526.93 611.54h0M524.36 604.5h0M525.13 606.38h0M527.34 605.71h0M525.24 606.07h0M524.77 602.68h0M527.3 608.58h0M526.93 604.72h0M527.31 608.52h0M526.36 606.55h0M525.09 605.69h0M526.38 609.05h0M527.01 611.27h0M526.13 607.5h0M524.29 605.13h0M524.55 606.37h0M525.08 607.76h0M526.74 620.34h0M525.75 614.44h0M525.72 614.39h0M526.99 616.25h0M523.69 622.56h0M526.1 614.61h0M524.72 613.57h0M525.76 613.37h0M527.03 612.6h0M524.33 615.64h0M527.57 619.45h0M523.55 622.62h0M525.78 616.34h0M525.68 616.84h0M524.27 615.8h0M525.77 616.01h0M525.36 622.07h0M525.26 619.14h0M526.5 615.42h0M523.21 613.48h0M524.93 622.15h0M526.81 621.17h0M523.84 644.55h0M527.18 627.94h0M524.13 635.41h0M526.32 647.84h0M523.99 636.8h0M525.26 648.85h0M525.14 626.7h0M523.57 649.98h0M526.41 625.27h0M525.4 631.91h0M526.36 625.01h0M525.67 643.88h0M525.75 639.75h0M525.61 649.93h0M524.56 582.97h0M527.33 650.95h0M541.36 603.99h0M540.96 593.18h0M542.46 593.43h0M540.52 599.56h0M540.18 595.02h0M541.51 596.82h0M541.94 597.94h0M542.77 602.19h0M539.94 601.88h0M542.59 601.53h0M543.02 602.08h0M543.03 591.55h0M539.1 601.62h0M540.26 601.05h0M542.07 608.84h0M542.33 605.76h0M538.69 608.39h0M540.33 607.8h0M541.84 610.12h0M542 609.94h0M540.97 611.41h0M539.48 610.42h0M540.38 610.05h0M538.78 605.48h0M539.96 608.2h0M540.48 611.25h0M542.3 608.51h0M541.22 611.16h0M540.42 607.71h0M539.64 608.67h0M539.96 605.44h0M541.6 610.09h0M540.56 605.49h0M539.31 610.18h0M542.29 604.47h0M541.16 607.18h0M542.96 612.68h0M540.98 623.08h0M541.38 615.85h0M540.48 617.03h0M541.31 614.1h0M542.74 623.49h0M543.02 613.33h0M541.55 622.14h0M540.49 617.48h0M538.8 621.34h0M542.38 616.09h0M540.31 613.17h0M540.27 624.55h0M538.77 621h0M538.67 614.41h0M540.31 625.37h0M542.99 624.5h0M541.92 614.59h0M541.77 612.36h0M541.59 620.41h0M539.77 613.99h0M539.29 622.05h0M541.28 636.3h0M538.8 645.41h0M541.22 639.9h0M540.88 648.04h0M541.01 650.29h0M539.07 641.15h0M538.82 640.71h0M540.69 631.87h0M539.18 627.32h0M541.46 626.63h0M539.93 651.89h0M541.37 628.79h0M541.96 634.9h0M541.3 631.58h0M540.96 590.74h0M539.42 658.72h0M556.65 601.86h0M555.8 578.17h0M556.16 603.89h0M557.55 603.51h0M556.23 597.45h0M556.3 595.68h0M556.56 586.37h0M558.12 603.23h0M557.51 578.86h0M557.69 608.12h0M555.05 586.38h0M556.59 594.86h0M557.62 581.63h0M557.13 606.36h0M558.21 611.84h0M558.04 608.83h0M554.42 612.1h0M556.17 618.56h0M555.48 609.14h0M554.77 608.57h0M556.13 618.58h0M558.35 610.23h0M557.36 618.95h0M554.29 618.92h0M554.97 610.6h0M555.53 611.48h0M557.9 608.72h0M555.94 612.51h0M554.56 613.91h0M556.36 616.7h0M554.97 613.2h0M554.01 608.31h0M556.56 612.34h0M558.39 609.67h0M557.4 617.57h0M557.22 611.31h0M554.53 635.51h0M556.41 621.39h0M556.76 637.39h0M557.32 623.63h0M555.88 624.52h0M554.07 621.18h0M558.1 634.03h0M555.05 622.91h0M557.23 640.72h0M555.96 619.87h0M557.41 637.17h0M555.38 636.09h0M554.25 632.03h0M555.8 632.09h0M556.04 636.92h0M557.48 633.47h0M555.69 622.85h0M556.89 636.9h0M555.56 627.43h0M557.2 632.34h0M554.63 630.82h0M557.88 639.19h0M558.17 651.8h0M553.94 672.47h0M557.78 642.16h0M557.41 648.62h0M557.02 662.99h0M554.32 660.2h0M557.2 671.32h0M557.38 644.99h0M556.71 669.81h0M558.26 669.35h0M558.19 643.38h0M556.74 643.31h0M558.08 658.89h0M554.49 679.42h0M555.2 577.14h0M556.27 680.86h0M572.7 591.68h0M572.76 585.67h0M572.51 590.27h0M573.03 590.46h0M572.94 590.46h0M571.64 585.79h0M572.09 593.03h0M569.35 588.87h0M571.34 590.73h0M572.49 593.01h0M573.35 593.64h0M573.05 595.13h0M571.17 595.78h0M570.2 593.67h0M573.22 601.77h0M572.17 603.64h0M570.03 600.19h0M569.32 601.34h0M573.19 596.42h0M571.8 597.66h0M569.65 598.65h0M573.7 597.1h0M571.85 601.99h0M572.64 603.34h0M572.86 599.12h0M570.33 602.39h0M571.55 595.92h0M569.94 600.7h0M571.97 596.76h0M571.15 602.23h0M572.78 603.53h0M569.68 598.98h0M570.09 598.41h0M570.93 602.15h0M569.16 596.41h0M571.02 596.02h0M573.58 612.88h0M573.13 616.53h0M569.98 616.55h0M572.97 606.18h0M570.18 613.41h0M570.25 613.61h0M572.08 613.43h0M570.5 608.55h0M570.07 611.09h0M569.54 611.64h0M569.96 614.9h0M570.03 604.97h0M573.34 609h0M569.34 608.25h0M571.63 614.17h0M570.12 605.78h0M572.46 605.1h0M569.16 605.77h0M570.86 605.78h0M572.54 609.74h0M569.27 615.09h0M571.04 608.75h0M570.65 617.93h0M571.38 636.57h0M572.04 623.7h0M569.52 632.36h0M573.13 640.12h0M570.39 627.88h0M572.7 639.45h0M569.76 634.38h0M569.58 645.16h0M570.04 640.81h0M569.53 647.67h0M570.29 640.05h0M569.79 622.18h0M569.55 629.71h0M573.07 584.91h0M571.58 652.89h0M585.2 591.81h0M587.81 591.64h0M584.58 586.64h0M585.35 596.43h0M586.93 596.43h0M585.54 589.17h0M585.47 596.56h0M586.11 591.68h0M586.58 589.85h0M588.69 585.92h0M587.14 596.57h0M587.03 593.1h0M587.78 594.19h0M585.33 590.56h0M588.16 604.08h0M587.98 598.48h0M588.21 596.9h0M586.54 600.07h0M586.96 599.16h0M584.81 597.85h0M586.58 597.78h0M587.43 597.97h0M588.84 600.55h0M588.59 603.65h0M586.03 598.16h0M587.95 597.78h0M588.41 598.89h0M588.89 601.89h0M587.6 596.76h0M585.98 599.5h0M588.49 601.91h0M584.54 598.23h0M587.08 602.59h0M586.57 602.46h0M588.53 597.3h0M587.32 603.91h0M585.39 612.78h0M585.23 608.19h0M584.63 609.89h0M587.93 611.04h0M588.07 613.1h0M586.18 606.47h0M585.5 605.24h0M587.03 609.31h0M585.37 606.51h0M586.89 608.45h0M586.05 605.4h0M585.94 605.21h0M587.65 609.84h0M585.61 604.84h0M585.99 606.92h0M587.06 608.1h0M588.8 605.26h0M585.16 612.16h0M585.88 613.09h0M585.72 604.65h0M585.92 612.17h0M586.71 606.04h0M588.24 627.36h0M585.3 614.36h0M587.77 627.8h0M586.45 633.28h0M587.1 616.86h0M586.78 615.48h0M587.24 618.29h0M585.29 631.08h0M587.3 628.77h0M586.32 615.37h0M588.07 632.34h0M587.21 627.62h0M586.34 634.05h0M589.01 634.54h0M585.29 582.97h0M584.53 635.41h0M602.45 595.35h0M600.69 590h0M602.63 595.51h0M601.28 589.42h0M604.38 595.52h0M601.36 594.15h0M603.42 590.83h0M603.63 595.76h0M601.5 592.91h0M602.5 585.7h0M600.86 589.52h0M601.51 593.34h0M601.81 587.04h0M603.06 591.45h0M602.12 596.67h0M600.53 598.85h0M602.77 598.67h0M602.16 597.18h0M602.2 596.9h0M601.84 597.22h0M603.77 599.75h0M602.8 598.49h0M602.83 598.97h0M602.09 599.37h0M601.63 599.91h0M601.75 596.96h0M602.91 599.79h0M601.8 598.8h0M600.11 600.36h0M600.8 597.16h0M600.03 597.53h0M600.01 600.09h0M601.44 596.02h0M601.52 595.81h0M601.89 596.95h0M600.71 596.69h0M600.86 605.92h0M601.84 600.62h0M601.12 602.57h0M600.99 602.29h0M602.05 600.62h0M603.3 605.41h0M600.07 605.04h0M599.85 603.26h0M601.85 606.26h0M603.9 602.27h0M602.69 602.63h0M601.46 601.34h0M604.26 602.28h0M602.91 607.06h0M603.58 604.26h0M603.66 606.17h0M599.96 607.19h0M600.68 605.63h0M603.42 603.26h0M601.59 607.96h0M603.93 601.07h0M600.11 603.66h0M604.1 621.16h0M602.64 616.97h0M601.68 611.49h0M603.6 619.91h0M602.25 618.47h0M601.9 617.78h0M600.63 610.36h0M603.39 616.93h0M600.46 616.47h0M601.17 620.18h0M600.19 613.93h0M599.86 622.14h0M601.15 617.71h0M599.99 609.71h0M601.94 585.69h0M601.38 623.76h0M619.04 591.49h0M616.52 587.59h0M617.69 589.61h0M615.42 590.13h0M615.37 586.57h0M619.18 589.13h0M616.75 591.36h0M616.83 580.35h0M619.64 579.61h0M618.43 590.08h0M615.82 584.86h0M617.6 585.95h0M617.33 589.98h0M617.89 586.61h0M616.36 594.65h0M616.37 594.61h0M619.45 593.85h0M617.85 595.6h0M617.64 594.81h0M618.29 591.58h0M618.57 592.5h0M615.93 594.37h0M618.71 591.53h0M617.33 594.38h0M615.8 592.15h0M616.56 594.41h0M619.66 591.97h0M618.99 593.86h0M619.26 592.06h0M617.41 595.2h0M618.03 594.1h0M616.93 594.32h0M618.49 592.45h0M617.57 592.09h0M616.75 595.21h0M619.6 594.04h0M617.41 596.93h0M615.29 596.22h0M618.85 596.65h0M615.55 596.28h0M616.39 597.78h0M617.19 598.63h0M616.08 601.76h0M617.17 600.09h0M617.13 600.81h0M617.54 597.97h0M618.1 597.91h0M618.26 598.51h0M615.34 597.33h0M616.2 595.92h0M615.64 597.61h0M616.64 601.92h0M617.21 596.13h0M619.02 599.12h0M615.17 597.32h0M618.83 600.82h0M615.82 596.04h0M618.51 599.16h0M619.01 610.78h0M619.64 606.67h0M617.75 603.13h0M615.36 613.79h0M616.43 602.43h0M617.11 614.52h0M618.21 612.45h0M619.56 613.69h0M619.14 613.34h0M615.4 605.45h0M615.7 609.13h0M618.1 606.77h0M616.06 608.47h0M617.79 605.57h0M617.45 579.09h0M617.61 615.99h0M632.74 598.56h0M632.61 580.04h0M634.9 599.89h0M631.9 598.27h0M631.63 602.52h0M631.98 599.97h0M633.46 602.98h0M631.53 590.04h0M631.54 604.25h0M633.7 600.99h0M632.86 584.02h0M630.75 582.34h0M634.32 598.8h0M631.01 586.72h0M631.79 606.55h0M632.94 608.41h0M632.52 608.75h0M633.95 607.2h0M631.11 612.26h0M633.44 612.13h0M631.25 613h0M630.96 613.3h0M633.64 610.01h0M633.99 609.7h0M630.92 613.76h0M630.58 614.99h0M631.35 615.7h0M633.07 613.5h0M630.57 614.17h0M634.8 608.75h0M630.51 606.53h0M633.84 609.76h0M634.13 608.48h0M632.19 611.08h0M634.17 615.12h0M631.23 607.28h0M633.99 630.86h0M633.07 618.86h0M634.34 622.02h0M634.08 629.24h0M634.04 629.69h0M634.4 619.17h0M631.59 623.51h0M630.57 623.48h0M631.21 626.59h0M633.86 631.92h0M632.81 618.83h0M632.69 623.29h0M632.6 633.91h0M630.54 619.43h0M634.68 619.42h0M633.04 631.25h0M633.12 628.1h0M632.7 625.23h0M634.49 624.89h0M632.6 617.2h0M632.9 628.44h0M634.1 621.12h0M631.11 645.66h0M634.22 666.7h0M633.3 647.62h0M631.95 644.08h0M631.11 642.73h0M632.79 640.72h0M631.77 652.39h0M630.43 656.61h0M634.22 636.78h0M633.86 635.42h0M634.56 644.09h0M633.93 637.76h0M632.29 651.6h0M634.63 637.67h0M631.53 576.37h0M631.61 670.37h0M632.58 685.91h0M633.54 694.84h0M647.1 607.51h0M646.63 607.91h0M650.16 587.96h0M649.09 608.18h0M646.33 593.8h0M647.3 600.98h0M647.68 587.03h0M648.63 590.28h0M650.22 601.09h0M647.27 599.11h0M648.96 595.11h0M647.64 605.21h0M649.9 608.16h0M648.05 585.99h0M649.27 613.54h0M648.43 610.55h0M649.05 613.6h0M649.22 618.99h0M647.54 618.67h0M647.8 617.14h0M648.6 608.62h0M649.03 610.36h0M648.47 616.46h0M647.4 614.67h0M647.99 608.59h0M648.09 613.98h0M647.5 616.18h0M647.22 613.71h0M646.04 617.91h0M646.05 613.24h0M646.46 619.04h0M646.14 613.81h0M647.46 618.58h0M650.2 619.41h0M647.59 611.07h0M649.94 613.99h0M648.91 622.35h0M650.02 626.07h0M648.74 633.66h0M650.15 625.48h0M649.45 624.11h0M646.11 627.33h0M645.76 633.78h0M650.16 629.44h0M647.31 627.23h0M648.75 629.62h0M650.13 625.35h0M650.28 634.39h0M648.16 624.1h0M647.25 623.27h0M648.46 627.45h0M648.95 632.32h0M646.17 631.87h0M649.44 630.14h0M645.76 619.9h0M647.53 632.29h0M649.62 634.04h0M649.82 621.83h0M649.71 638.52h0M649.72 639.06h0M647.84 637.09h0M647.7 637.39h0M647.94 648.12h0M648.12 656.11h0M646.74 646.72h0M647.45 649.6h0M647.95 655.76h0M645.83 662.18h0M648.37 669.7h0M646.04 656.62h0M648.32 647.93h0M646.02 635.89h0M646.59 585.69h0M647.85 671.15h0M661.57 584.21h0M661.19 578.24h0M662.21 584.07h0M663.43 582.77h0M662.49 591.21h0M662.9 589.62h0M664.5 589.03h0M664.11 578.78h0M662.17 582h0M665.11 596.54h0M662.72 585.88h0M663.69 585.19h0M662.72 580.89h0M664.54 579.84h0M663.72 603.6h0M663.35 603.39h0M661.86 605.47h0M661.42 605.98h0M662.26 597.98h0M664.97 599.57h0M665.32 598.54h0M662.93 604.45h0M661.4 599.32h0M661.98 608.03h0M665.36 602.41h0M661.65 604.58h0M662.98 604.72h0M661.4 596.69h0M663.34 608.18h0M662.65 597.09h0M665.59 600.43h0M665.58 596.65h0M663.38 603.49h0M664.9 597.73h0M664.16 601.79h0M663.19 601.51h0M664.61 616.02h0M661.22 611.47h0M661.84 615.74h0M664.86 610.4h0M663.44 608.62h0M664.21 617.18h0M663.85 608.55h0M664.93 619.67h0M662.22 611.04h0M661.88 619.54h0M662.39 612.04h0M665.05 617.11h0M663.38 612.43h0M664.57 616.85h0M664.61 610.46h0M662.64 611.06h0M664.45 611.53h0M664.68 620.43h0M663.41 619.43h0M663.48 613.03h0M663.23 620.12h0M663.15 619.84h0M662.03 622.8h0M663.7 640.12h0M665 624.56h0M662.23 628.74h0M662.98 627.38h0M662.78 624.89h0M662.43 638.62h0M665.32 624.7h0M664.41 628.3h0M661.46 622.77h0M663.44 626.18h0M662.67 647.92h0M662.74 626.8h0M661.57 658.83h0M663.83 577.92h0M662.72 660.66h0M664.18 670.37h0M661.62 674.25h0M678.51 591.01h0M677.33 592h0M678.27 589.24h0M680.94 595.59h0M680.46 586.83h0M678.05 590.9h0M677.95 594.17h0M677.22 594.91h0M680.44 586.38h0M680.64 595.77h0M676.59 590.03h0M678.44 593.61h0M678.22 593.21h0M677.48 583.61h0M679.44 603.15h0M680.19 602.76h0M678.07 604.24h0M680.9 601.21h0M679.18 603.69h0M677.49 603.96h0M679.53 598.49h0M676.99 596.26h0M678.28 602.9h0M679.05 599.2h0M677.23 596.1h0M676.87 602.82h0M678.13 603.01h0M680.32 600.02h0M677.32 603.89h0M678.55 599.38h0M679.19 597.21h0M677.24 596.81h0M678.1 603.36h0M680.37 599.58h0M680.02 600.03h0M678.95 600.48h0M679.26 607.05h0M676.41 613.28h0M677.47 606.58h0M678.02 614.4h0M676.64 605.65h0M678.45 604.35h0M679.2 616.96h0M679.44 609.31h0M679.18 610.37h0M678.73 611.91h0M680.24 611.4h0M677.49 604.59h0M677.75 616.42h0M677.47 618.77h0M677.74 608.81h0M680.38 608.56h0M678.48 608.44h0M680.58 614.08h0M678.62 612.12h0M678.16 612.59h0M679.22 613.36h0M676.54 608.16h0M678.59 631.76h0M678 632.22h0M678.6 635.84h0M678.25 636.39h0M679.43 651.94h0M679.37 620.71h0M676.39 631.42h0M678.79 634.53h0M678.29 621.28h0M678.09 626.72h0M677.24 623.21h0M680.1 632.66h0M677.2 639h0M677.57 623.71h0M677.89 582.97h0M680.58 652.89h0M696.05 596.33h0M692.83 600.64h0M692.93 600.05h0M692.56 598.9h0M696.04 589.75h0M695.4 601.61h0M693.31 599.72h0M693.68 591.83h0M695.48 601.21h0M694.38 594.48h0M694.4 589.37h0M693.58 596.65h0M694.43 592.36h0M691.7 594.92h0M692.5 602.62h0M695.56 601.88h0M695.95 605.1h0M694.28 603.98h0M694.73 604.14h0M693.7 603.09h0M693.36 606.68h0M694.38 604.62h0M695.3 606.62h0M695.88 602.83h0M692.87 603.16h0M693.79 607.32h0M693.73 605.52h0M695.14 601.73h0M695.71 603.89h0M696.17 608.25h0M694.78 606.06h0M694.48 609.48h0M692.22 607.86h0M691.98 603.29h0M691.8 608.64h0M694.55 604.9h0M694.35 618.12h0M691.88 620.17h0M695.76 614.63h0M694.88 610.76h0M694.87 614.58h0M692.84 616.99h0M693.09 618.14h0M694.25 619.14h0M693.23 610.85h0M694.19 614.71h0M694.71 617.82h0M694.46 613.02h0M693.19 618.67h0M696.27 620.46h0M692.87 613.61h0M694.27 616.54h0M693.46 610.65h0M691.87 617.19h0M693.32 620.15h0M694.71 618.31h0M695.7 613.58h0M693.52 619.87h0M692.43 620.65h0M694.61 631.81h0M691.92 621.04h0M694.07 627.6h0M692.24 624.36h0M694.91 621.81h0M695.19 642.35h0M695.28 639.98h0M693.28 630.98h0M695.33 622.4h0M694.07 630.27h0M692.77 623.48h0M694.95 631.38h0M692.7 635.22h0M696.07 585.69h0M695.46 647.06h0M691.75 658.72h0M707.81 588.12h0M710.8 590.62h0M708.47 593.35h0M711.19 590.43h0M710.38 589.17h0M710.7 593.42h0M711.48 592.87h0M710.01 587.2h0M710.12 592.22h0M710.75 585.96h0M710.07 591.14h0M708.99 588.47h0M710.16 591.35h0M707.4 593.44h0M710.64 595.5h0M707.31 597.87h0M711.37 596.21h0M710.11 595.32h0M711.35 596.25h0M709.96 598.5h0M708.87 598.66h0M709.33 594.53h0M709.09 594.09h0M707.45 597.58h0M710.86 595.83h0M707.8 593.69h0M708.03 598.74h0M708.53 596.53h0M710.21 594.79h0M708.9 595.61h0M708.44 596.11h0M709.71 594.76h0M708.46 597.36h0M707.86 598.28h0M710.69 597.73h0M709.1 597.71h0M710.19 603.45h0M707.15 600.7h0M711.54 606.86h0M707.85 605.19h0M709.54 605.68h0M707.82 605.3h0M708.52 606.25h0M710.6 603.49h0M709.4 601.91h0M711.54 601.54h0M707.54 600.64h0M711.04 607.93h0M711.2 605.47h0M708.51 605.1h0M711.24 604.85h0M708.29 603.36h0M710.27 604.13h0M708.54 600.02h0M709.43 605.55h0M709.91 603.32h0M710.94 600.41h0M708.51 607.73h0M707.39 617.56h0M708.31 608.27h0M710.43 611.24h0M708.58 612.8h0M709.11 617.05h0M710.03 608.22h0M708.9 614.77h0M711.08 621.78h0M708.88 621.87h0M709.24 613.22h0M711.04 623.72h0M707.27 609.63h0M708.78 608.44h0M710.11 608.29h0M710.05 584.14h0M709.05 633.47h0M725.83 604.15h0M724.63 584.45h0M723.25 584.93h0M726.9 609.48h0M723.8 604.15h0M725.23 614.02h0M726.18 612.84h0M723.19 607.01h0M722.57 606.42h0M725.97 593.95h0M725.7 612.25h0M723.08 603.66h0M723.73 587.61h0M725.19 612.61h0M724.94 623.17h0M726.25 621.57h0M724.55 618.94h0M723.21 614.73h0M725.86 623.3h0M724.25 620.4h0M723.57 618.67h0M722.99 616.12h0M723.49 614.99h0M722.91 615.21h0M723.05 623.77h0M724.72 621.8h0M722.85 625.16h0M723.16 625.31h0M725.55 621.06h0M723.17 620.61h0M725.81 618.56h0M722.43 614.71h0M723.75 624.33h0M723.02 614.44h0M724.82 617.45h0M724.57 624.13h0M725.78 634.23h0M724.34 627.21h0M726.26 626.6h0M722.61 633.88h0M725.08 627.44h0M722.61 633.95h0M723.9 631h0M726.51 633.97h0M723.42 629.62h0M722.62 633.31h0M726.85 626.89h0M722.4 636.41h0M725.11 635.59h0M723.02 630.21h0M725.14 633.76h0M726.13 626.86h0M722.89 633.49h0M726.57 628.66h0M725.46 637.65h0M722.89 627.18h0M723.21 626.06h0M724.13 636.77h0M725.95 653.1h0M726.32 651.02h0M723.19 638.82h0M726.34 645.86h0M725.17 654.6h0M722.5 638.63h0M724.8 656.89h0M723.63 650.15h0M724.96 639.29h0M725.9 648.07h0M722.88 645.24h0M722.7 656.95h0M722.61 649.34h0M724.81 658.3h0M725.72 579.86h0M723.58 664.54h0M725.66 680.08h0M741.64 581.43h0M737.93 590.23h0M739.86 596.01h0M739.69 596.54h0M740.26 595.91h0M740.45 584.5h0M738.24 582.82h0M741.65 596.55h0M738.59 587.11h0M738.83 580.23h0M737.89 593.54h0M738.68 579.05h0M740.35 583.6h0M739.83 595.01h0M742.04 604.46h0M741.43 598.11h0M739.29 603.44h0M739.08 605.97h0M739.97 606.12h0M738.92 599.68h0M739.31 599.66h0M740.66 604.59h0M738.69 597.46h0M742.01 602.87h0M741.72 603.86h0M740.74 603.94h0M740.97 599.95h0M742.24 598.86h0M739.86 597.95h0M739.58 605.59h0M740.64 600.14h0M741.23 603.13h0M739.68 605.44h0M738.67 599.92h0M742.24 604.62h0M740.95 605.44h0M740.77 618.35h0M738.06 606.93h0M739.54 612.3h0M740.51 611.14h0M741.67 608.46h0M739.06 618.53h0M738.06 607.08h0M740.97 607.03h0M741.61 610.27h0M740.18 613.58h0M740.94 613.25h0M739.18 615.08h0M739.12 613.43h0M738.2 612.1h0M738.13 618.48h0M741.3 607.64h0M741.42 612.1h0M740.28 610.3h0M740.17 618.44h0M740.03 612.42h0M741.33 612.49h0M738.05 616.06h0M738.65 640.84h0M738.35 631.04h0M742.17 618.87h0M739.93 620.08h0M740.91 619.74h0M739.07 618.97h0M741.39 618.86h0M741.24 639.63h0M739.48 624.6h0M742.24 633.26h0M742.19 621.71h0M741.15 620.88h0M739.23 640.7h0M742.01 619.28h0M742.11 577.92h0M740.26 641.24h0M753.67 591.24h0M753.34 587.88h0M753.57 591.69h0M753.22 593.36h0M754.09 591.83h0M755.24 590.97h0M756.04 589.81h0M753.87 589.09h0M754.87 583.1h0M756.37 587.58h0M753.46 590.2h0M756.19 589.78h0M753.37 585.34h0M753.04 587.77h0M756.54 598.37h0M755.44 598.69h0M755.75 595.86h0M754.32 596.55h0M753.67 598.92h0M755.59 600.48h0M754.39 600.31h0M757.52 601.39h0M756.63 596.04h0M757.09 595.08h0M753.8 597.18h0M754.69 601.38h0M754.72 598.87h0M753.53 599.87h0M755.18 600.86h0M755.75 596.86h0M754.34 594.97h0M753.79 595.08h0M753.1 595.31h0M754.04 599.66h0M755.22 595.91h0M757.53 599.34h0M756.26 605.93h0M754.13 611.18h0M754.2 601.86h0M753.91 609.3h0M757 605.56h0M753 607.48h0M757.17 604.46h0M756.53 604.11h0M754.35 613.6h0M755.55 607.39h0M753.49 604.25h0M756.21 609.68h0M753.46 612.57h0M757.43 607.76h0M754.88 608.89h0M755.89 611.82h0M757.41 612.6h0M757.12 607.41h0M756.76 608.64h0M755.81 603.5h0M754.7 603.55h0M755.41 613.59h0M756.45 616.36h0M754.43 621.77h0M757.3 616.02h0M755.81 614.75h0M757.24 616.71h0M753.66 619.41h0M755.26 616.4h0M755.32 631.18h0M754.34 617.16h0M755.54 630.96h0M755.27 624.41h0M754.65 630.76h0M754.17 620.17h0M755.35 614.1h0M754.77 581.8h0M754.13 633.47h0M753.21 657.94h0M755.06 662.6h0M756.08 666.48h0M753.59 679.3h0M757.1 681.25h0M768.62 590.24h0M768.74 590.41h0M769.76 590.64h0M771.34 583.65h0M770.66 589.95h0M769.71 590.59h0M768.61 585.14h0M771.61 589.59h0M769.44 588.71h0M770.38 586.53h0M770.22 589.26h0M770.92 582.67h0M772.62 588.08h0M771.97 585.85h0M772.38 592.7h0M769.55 593.37h0M771.24 592.21h0M771.4 594.82h0M771.78 595.58h0M770.21 593.92h0M772.54 591.72h0M770.51 593.79h0M772.34 593.8h0M770.47 591.35h0M771.59 591.66h0M769.31 591.03h0M769.35 592.4h0M770.77 592.62h0M771.19 594.15h0M770.62 595.2h0M772.18 591.55h0M772.25 592.74h0M770.27 590.9h0M768.63 595.17h0M770 591.19h0M769.03 595.36h0M772.09 602.35h0M769.53 599.96h0M771.39 603.04h0M771.63 601.33h0M770.42 598.85h0M772.35 602.82h0M770 598.05h0M770.44 602.26h0M772.64 601.47h0M769.18 602.35h0M771.47 603.29h0M768.44 597.64h0M769.41 603.36h0M770.54 602.42h0M772.56 602.78h0M772.3 604.06h0M771.92 601.16h0M768.92 602.62h0M770.96 600.39h0M769.59 603.9h0M768.72 600.43h0M771.69 600.72h0M772.06 604.4h0M770.31 612h0M770.97 605.57h0M769.89 604.35h0M769.86 615.34h0M768.66 604.9h0M771.72 605.28h0M771.62 631.99h0M769.64 607.22h0M769.64 610.02h0M772.84 622.49h0M769.29 604.53h0M770.64 627.63h0M768.63 613.86h0M772.55 581.03h0M771.78 633.47h0M786.17 598.43h0M786.01 602.45h0M785.48 606.66h0M787.25 606.53h0M788 594.92h0M787.45 600.27h0M783.91 602.79h0M785.24 598.22h0M785.53 605.75h0M787.81 589.2h0M786.79 596.12h0M785.33 607.02h0M786.91 602.82h0M788.1 607.2h0M784.01 621.89h0M788.09 623.21h0M784.08 629.76h0M783.66 608.67h0M783.84 616.27h0M787.58 625.22h0M785.04 618.64h0M787.61 617.97h0M786.44 632.98h0M783.85 621.39h0M788.06 619.25h0M784.36 627.27h0M787.97 625.07h0M787.71 617.71h0M786.12 617.92h0M783.98 610.99h0M784.01 630.1h0M784.68 625.56h0M784.53 611.65h0M787.06 633.06h0M784.57 633.15h0M785.62 633.66h0M784.04 642.36h0M787.49 639.42h0M785.18 644.78h0M783.73 647.78h0M786.97 641.62h0M786.78 650.05h0M785.91 653.08h0M787.1 643.46h0M785.12 639.02h0M787.33 660.25h0M787.33 646.32h0M785.78 637.4h0M787.1 638.23h0M784.98 653.73h0M786.13 646.4h0M786.48 659.08h0M783.88 654.26h0M786.37 637.48h0M787.34 654.5h0M788.13 659.77h0M788.21 660.63h0M785.51 656.87h0M786.35 679.9h0M784.08 695.02h0M788.12 688.2h0M783.83 671.19h0M786.57 666.64h0M785.69 660.72h0M787.34 661.66h0M787.88 670.47h0M787.89 661.61h0M788.09 662.51h0M787.8 672.48h0M783.7 665.7h0M784.1 697.47h0M785.83 663.76h0M786.68 582.97h0M787.54 699.5h0M800.45 583.88h0M800.67 584.5h0M799.2 586.64h0M799.66 588.2h0M801.6 588.12h0M800.74 584.49h0M798.94 587.59h0M800.08 588.67h0M800.13 585.15h0M800.83 585.88h0M801.49 585.08h0M800.95 586.63h0M802.83 588.03h0M802.81 582.47h0M802.18 591.11h0M801.03 590.8h0M803.17 590.39h0M800.27 593.41h0M800.86 592.64h0M799.35 591.86h0M800.91 589.04h0M803.51 593.26h0M803.45 589.04h0M800.34 590.64h0M801.04 591.47h0M800.05 590.01h0M801.11 589.37h0M802.52 589.82h0M800.22 593.39h0M803.5 589.44h0M803.51 591.79h0M802.37 589.54h0M799.58 591.14h0M799.25 589.44h0M803.39 593.14h0M803.39 591.12h0M801.8 599.92h0M800.14 595.92h0M800.09 599.9h0M802.86 594.6h0M799.68 597.78h0M801.25 593.62h0M799.7 599.22h0M799.8 595.54h0M802.99 598.77h0M803.05 594.14h0M801.72 596.78h0M800.64 597.8h0M799.87 594.66h0M799.32 595.79h0M799.5 598.78h0M800.27 597.77h0M799.21 598.07h0M800.28 593.81h0M799.62 599.29h0M802 597.2h0M802.22 598.23h0M803.35 593.67h0M799.68 617.42h0M802.74 601.38h0M802.74 608.46h0M803.04 606.23h0M801.99 603.83h0M802.64 601.82h0M802.82 603.5h0M799.17 614.85h0M802.39 602.45h0M802.86 606.13h0M803.24 616.8h0M801.85 604.19h0M801.02 615.78h0M800.66 601.97h0M801.45 582.19h0M800.73 619.87h0M800.84 631.52h0M802.77 637.35h0M815.76 590.95h0M815.39 596.23h0M815.25 591.09h0M816.15 601.06h0M818.2 589.99h0M816.67 595.42h0M815.25 597.4h0M816.41 584.33h0M814.99 599.17h0M815.19 599.34h0M816.8 584.63h0M818.33 590.04h0M818.07 598.96h0M818.56 590.61h0M818.44 602.58h0M815.55 606.2h0M814.39 610.6h0M818.37 610.55h0M818.39 607.42h0M814.7 608.6h0M815.19 601.23h0M815.51 609.21h0M817.92 604.83h0M815.45 609.84h0M814.9 613.57h0M818.66 613.18h0M814.97 601.85h0M817.98 608.72h0M818.6 605.09h0M816.13 609.22h0M815.92 611.69h0M814.71 609.48h0M816.02 605.92h0M817.74 607.19h0M815.35 608.26h0M814.82 607.66h0M817.44 619.88h0M817.86 625.7h0M815.25 615.91h0M817.49 618.14h0M816.19 614.82h0M816.15 625.92h0M815.93 618.37h0M815.31 624.4h0M818.77 614.41h0M817.07 624.23h0M817.24 615.56h0M818.43 618.59h0M817.32 619.09h0M814.53 621.46h0M815.3 625.14h0M814.69 626.59h0M814.42 624.1h0M814.74 622.89h0M817.37 626.48h0M817.2 619.2h0M815.84 618.85h0M818.56 614.95h0M814.47 639.56h0M816.55 651.22h0M818.7 628.26h0M818.43 640.27h0M818.15 645.73h0M817.35 637.53h0M817.39 631.91h0M818.15 657.28h0M814.69 650.09h0M816.35 627.96h0M816.15 632.41h0M818.43 639.01h0M818.68 636.2h0M818.51 645.54h0M817.74 584.14h0M815.24 660.66h0M832.21 594.65h0M832.96 588.89h0M832.34 596.48h0M833.16 596.46h0M829.82 579.19h0M829.72 593.73h0M830.46 589.8h0M832.69 579.29h0M832.15 595.1h0M832.17 585.11h0M829.65 588.76h0M829.95 585.52h0M830.62 583.95h0M831.03 582.94h0M829.92 599.85h0M833.83 605.36h0M833.55 596.6h0M829.81 606.28h0M833.56 603.11h0M832.61 597.39h0M832.45 598.06h0M831.5 604.27h0M830.12 606.19h0M833.26 606.32h0M830.71 598.21h0M830.9 598.21h0M830.17 597.27h0M830.51 604.02h0M830.03 599.33h0M832.28 602.65h0M829.79 601.96h0M833.52 606.87h0M834.02 600.55h0M831.52 605.47h0M830.11 597.64h0M832.45 605.03h0M833.95 618h0M832.53 608.45h0M831.32 618.27h0M832.46 620.05h0M831.62 616.24h0M833.9 619.73h0M829.67 614.22h0M833.77 614.45h0M831.06 620.35h0M833.46 610.54h0M830.73 609.52h0M832.56 618.44h0M830.11 610.62h0M831.49 619.48h0M831.7 616.45h0M831.16 619.11h0M831.52 617.92h0M829.79 615.37h0M833.46 616.44h0M833.12 617.39h0M832.28 616.92h0M832.83 609.43h0M831.48 624.43h0M832.27 630.4h0M833.67 644.83h0M832.23 629.08h0M829.68 628.56h0M830.28 635.44h0M830.11 625.37h0M833.25 621.09h0M831.37 621.08h0M831.65 626.44h0M831.25 637.02h0M830.04 634.76h0M831.21 627.29h0M832.51 621.72h0M833.72 577.92h0M831.46 658.72h0M848.3 583.69h0M848.17 591.21h0M847.09 592.91h0M846.06 581.96h0M847.96 593.33h0M847.4 584.91h0M846.97 594.26h0M848.73 587.04h0M846.73 590.26h0M847.64 583.65h0M849.44 594.42h0M845.66 594.58h0M846.69 588.78h0M845.01 594.42h0M849.13 601.58h0M845.17 600.91h0M848.67 595.96h0M845.25 601.5h0M844.95 597.03h0M848.27 597.26h0M847.96 596.92h0M847.38 598.49h0M847.09 599.85h0M845.65 597.61h0M845.2 600.08h0M847.41 594.86h0M848.03 601.86h0M846.69 595.37h0M846.59 599.64h0M846.46 596.13h0M845.65 595.95h0M847.71 594.8h0M847.23 602.36h0M849.24 601.56h0M847.86 596.57h0M847.77 599.84h0M845.8 611.6h0M845.58 610.56h0M847.05 611.12h0M845.4 613.48h0M844.95 602.57h0M846.77 603.29h0M845 613.6h0M848.53 610.97h0M848.48 610.59h0M847.7 602.88h0M845.76 611.81h0M848.24 610.6h0M847.14 607.77h0M846.67 613.3h0M847.1 602.69h0M848.02 606.49h0M847.79 611.24h0M845.5 607.39h0M846.32 613.5h0M849.14 605.04h0M847.94 612.66h0M846.65 609.87h0M849.06 625.26h0M849.16 634.93h0M845.57 632.79h0M847.28 615.66h0M849.02 632.71h0M848.01 614.57h0M845.41 624.57h0M848.96 614.52h0M846.07 618.71h0M848.96 632.41h0M846.63 626.77h0M848.16 626.85h0M845.96 615.36h0M846.34 632.88h0M847.7 581.8h0M846.88 635.41h0M863.71 593.23h0M863.46 585.94h0M864 603.27h0M862 598.97h0M863.89 601.28h0M860.32 595.75h0M861.35 601.53h0M863.09 586.68h0M861.79 603.31h0M860.49 595.62h0M863.71 589.08h0M864.37 593.25h0M862.26 599.14h0M863.82 590.84h0M863.22 604.59h0M862.03 610.47h0M864.26 609.85h0M861.75 608.65h0M863.43 606.45h0M864.72 607.96h0M864.3 605.97h0M863.85 605.94h0M861.46 609.03h0M861.76 609.35h0M864.05 612.13h0M862.29 605.06h0M860.67 610.64h0M862.05 613.52h0M863.08 610.46h0M860.93 610.6h0M861.39 604.8h0M863.1 606.38h0M863.03 610.84h0M863.78 604.88h0M860.9 608.33h0M862.67 610.03h0M861.05 628.27h0M860.49 624.13h0M864.56 616.82h0M864.63 614.42h0M863.91 615.6h0M862.42 618.12h0M860.35 627.71h0M860.32 628.97h0M864.19 628.63h0M863.09 622.75h0M863.32 627.44h0M863.26 627.82h0M863.03 629.18h0M863.33 617.02h0M863.08 620.72h0M861.28 617.46h0M860.66 626.12h0M862.3 614.43h0M862.45 626.22h0M860.35 614.73h0M864.11 621.87h0M864.24 615.6h0M861.53 644.54h0M860.66 638.3h0M862.8 639.35h0M860.35 629.96h0M863.47 629.99h0M862.67 630.94h0M862.43 633.54h0M860.46 633.31h0M861.6 634.04h0M861.46 640.23h0M863.71 654.93h0M860.91 640.08h0M860.52 639.34h0M863.34 637.72h0M863.54 581.8h0M860.56 655.61h0" stroke="#000" stroke-width="2.2" stroke-linecap="round" fill="none"/>
<rect x="516.3" y="559.3" width="355.4" height="208" fill="none" stroke="#333" stroke-width="1"/>
<line x1="516.3" y1="558.8" x2="516.3" y2="768.1" stroke="#000" stroke-width="1.7"/>
<line x1="515.5" y1="767.3" x2="872.2" y2="767.3" stroke="#000" stroke-width="1.7"/>
<line x1="513.3" y1="595.4" x2="516.3" y2="595.4" stroke="#000" stroke-width="1"/>
<text x="507.7" y="599.11" font-size="10.6" text-anchor="end">0</text>
<line x1="513.3" y1="652.4" x2="516.3" y2="652.4" stroke="#000" stroke-width="1"/>
<text x="508.3" y="656.11" font-size="10.6" text-anchor="end" textLength="14.02" lengthAdjust="spacing">−4</text>
<line x1="513.3" y1="709.4" x2="516.3" y2="709.4" stroke="#000" stroke-width="1"/>
<text x="508.3" y="713.11" font-size="10.6" text-anchor="end" textLength="14.02" lengthAdjust="spacing">−8</text>
<line x1="513.3" y1="766.4" x2="516.3" y2="766.4" stroke="#000" stroke-width="1"/>
<text x="508.3" y="770.11" font-size="10.6" text-anchor="end" textLength="20.86" lengthAdjust="spacing">−12</text>
<line x1="525.49" y1="767.3" x2="525.49" y2="770.3" stroke="#000" stroke-width="1"/>
<line x1="540.81" y1="767.3" x2="540.81" y2="770.3" stroke="#000" stroke-width="1"/>
<line x1="556.13" y1="767.3" x2="556.13" y2="770.3" stroke="#000" stroke-width="1"/>
<line x1="571.45" y1="767.3" x2="571.45" y2="770.3" stroke="#000" stroke-width="1"/>
<line x1="586.77" y1="767.3" x2="586.77" y2="770.3" stroke="#000" stroke-width="1"/>
<line x1="602.09" y1="767.3" x2="602.09" y2="770.3" stroke="#000" stroke-width="1"/>
<line x1="617.41" y1="767.3" x2="617.41" y2="770.3" stroke="#000" stroke-width="1"/>
<line x1="632.72" y1="767.3" x2="632.72" y2="770.3" stroke="#000" stroke-width="1"/>
<line x1="648.04" y1="767.3" x2="648.04" y2="770.3" stroke="#000" stroke-width="1"/>
<line x1="663.36" y1="767.3" x2="663.36" y2="770.3" stroke="#000" stroke-width="1"/>
<line x1="678.68" y1="767.3" x2="678.68" y2="770.3" stroke="#000" stroke-width="1"/>
<line x1="694" y1="767.3" x2="694" y2="770.3" stroke="#000" stroke-width="1"/>
<line x1="709.32" y1="767.3" x2="709.32" y2="770.3" stroke="#000" stroke-width="1"/>
<line x1="724.64" y1="767.3" x2="724.64" y2="770.3" stroke="#000" stroke-width="1"/>
<line x1="739.96" y1="767.3" x2="739.96" y2="770.3" stroke="#000" stroke-width="1"/>
<line x1="755.28" y1="767.3" x2="755.28" y2="770.3" stroke="#000" stroke-width="1"/>
<line x1="770.59" y1="767.3" x2="770.59" y2="770.3" stroke="#000" stroke-width="1"/>
<line x1="785.91" y1="767.3" x2="785.91" y2="770.3" stroke="#000" stroke-width="1"/>
<line x1="801.23" y1="767.3" x2="801.23" y2="770.3" stroke="#000" stroke-width="1"/>
<line x1="816.55" y1="767.3" x2="816.55" y2="770.3" stroke="#000" stroke-width="1"/>
<line x1="831.87" y1="767.3" x2="831.87" y2="770.3" stroke="#000" stroke-width="1"/>
<line x1="847.19" y1="767.3" x2="847.19" y2="770.3" stroke="#000" stroke-width="1"/>
<line x1="862.51" y1="767.3" x2="862.51" y2="770.3" stroke="#000" stroke-width="1"/>
<text x="529.89" y="776.6" font-size="12.85" text-anchor="end" transform="rotate(-90 529.89 776.6)">Id2_Lamp5_Crh</text>
<text x="545.21" y="776.6" font-size="12.85" text-anchor="end" transform="rotate(-90 545.21 776.6)">Id2_Lamp5_Nmbr</text>
<text x="560.53" y="776.6" font-size="12.85" text-anchor="end" transform="rotate(-90 560.53 776.6)">Id2_Lamp5_Nos1</text>
<text x="575.85" y="776.6" font-size="12.85" text-anchor="end" transform="rotate(-90 575.85 776.6)">Id2_Nckap5</text>
<text x="591.17" y="776.6" font-size="12.85" text-anchor="end" transform="rotate(-90 591.17 776.6)">Id2_Pax6</text>
<text x="606.49" y="776.6" font-size="12.85" text-anchor="end" transform="rotate(-90 606.49 776.6)">Pvalb_Crh</text>
<text x="621.81" y="776.6" font-size="12.85" text-anchor="end" transform="rotate(-90 621.81 776.6)">Pvalb_Lgr5</text>
<text x="637.12" y="776.6" font-size="12.85" text-anchor="end" transform="rotate(-90 637.12 776.6)">Pvalb_Nos1</text>
<text x="652.44" y="776.6" font-size="12.85" text-anchor="end" transform="rotate(-90 652.44 776.6)">Pvalb_Sulf1</text>
<text x="667.76" y="776.6" font-size="12.85" text-anchor="end" transform="rotate(-90 667.76 776.6)">Sst_Calb1</text>
<text x="683.08" y="776.6" font-size="12.85" text-anchor="end" transform="rotate(-90 683.08 776.6)">Sst_Isoc1</text>
<text x="698.4" y="776.6" font-size="12.85" text-anchor="end" transform="rotate(-90 698.4 776.6)">Sst_Nos1</text>
<text x="713.72" y="776.6" font-size="12.85" text-anchor="end" transform="rotate(-90 713.72 776.6)">Sst_Stk32a</text>
<text x="729.04" y="776.6" font-size="12.85" text-anchor="end" transform="rotate(-90 729.04 776.6)">Sst_Tac1</text>
<text x="744.36" y="776.6" font-size="12.85" text-anchor="end" transform="rotate(-90 744.36 776.6)">Sst_Tac3</text>
<text x="759.68" y="776.6" font-size="12.85" text-anchor="end" transform="rotate(-90 759.68 776.6)">Sst_Th</text>
<text x="774.99" y="776.6" font-size="12.85" text-anchor="end" transform="rotate(-90 774.99 776.6)">Vip_Abi3bp</text>
<text x="790.31" y="776.6" font-size="12.85" text-anchor="end" transform="rotate(-90 790.31 776.6)">Vip_Cbln1</text>
<text x="805.63" y="776.6" font-size="12.85" text-anchor="end" transform="rotate(-90 805.63 776.6)">Vip_Crh</text>
<text x="820.95" y="776.6" font-size="12.85" text-anchor="end" transform="rotate(-90 820.95 776.6)">Vip_Nrg1</text>
<text x="836.27" y="776.6" font-size="12.85" text-anchor="end" transform="rotate(-90 836.27 776.6)">Vip_Sema3c</text>
<text x="851.59" y="776.6" font-size="12.85" text-anchor="end" transform="rotate(-90 851.59 776.6)">Vip_Sstr1</text>
<text x="866.91" y="776.6" font-size="12.85" text-anchor="end" transform="rotate(-90 866.91 776.6)">Vip_Tyr</text>
<text x="485.4" y="663.8" font-size="12.4" text-anchor="middle" transform="rotate(-90 485.4 663.8)" textLength="84" lengthAdjust="spacingAndGlyphs">Similarity score</text>
<line x1="61.1" y1="1084.12" x2="451.5" y2="1084.12" stroke="#ebebeb" stroke-width="1"/>
<line x1="61.1" y1="1061.25" x2="451.5" y2="1061.25" stroke="#ebebeb" stroke-width="1"/>
<line x1="61.1" y1="1038.38" x2="451.5" y2="1038.38" stroke="#ebebeb" stroke-width="1"/>
<line x1="61.1" y1="1015.5" x2="451.5" y2="1015.5" stroke="#ebebeb" stroke-width="1"/>
<line x1="61.1" y1="992.62" x2="451.5" y2="992.62" stroke="#ebebeb" stroke-width="1"/>
<line x1="61.1" y1="969.75" x2="451.5" y2="969.75" stroke="#ebebeb" stroke-width="1"/>
<rect x="62.78" y="1094.28" width="9.85" height="12.72" fill="#66c2a5" opacity="0.92"/>
<rect x="73.56" y="1090.26" width="9.85" height="16.74" fill="#66c2a5" opacity="0.92"/>
<rect x="84.35" y="1092.36" width="9.85" height="14.64" fill="#66c2a5" opacity="0.92"/>
<rect x="95.14" y="1089.07" width="9.85" height="17.93" fill="#66c2a5" opacity="0.92"/>
<rect x="105.92" y="1098.58" width="9.85" height="8.42" fill="#66c2a5" opacity="0.92"/>
<rect x="116.71" y="1093.09" width="9.85" height="13.91" fill="#66c2a5" opacity="0.92"/>
<rect x="127.5" y="1099.86" width="9.85" height="7.14" fill="#66c2a5" opacity="0.92"/>
<rect x="138.28" y="1090.26" width="9.85" height="16.74" fill="#66c2a5" opacity="0.92"/>
<rect x="149.07" y="1080.92" width="9.85" height="26.08" fill="#66c2a5" opacity="0.92"/>
<rect x="159.86" y="1095.29" width="9.85" height="11.71" fill="#66c2a5" opacity="0.92"/>
<rect x="170.64" y="1094.28" width="9.85" height="12.72" fill="#66c2a5" opacity="0.92"/>
<rect x="181.43" y="1093.09" width="9.85" height="13.91" fill="#66c2a5" opacity="0.92"/>
<rect x="192.22" y="1093.82" width="9.85" height="13.18" fill="#66c2a5" opacity="0.92"/>
<rect x="203.01" y="1093.09" width="9.85" height="13.91" fill="#fc8d62" opacity="0.92"/>
<rect x="213.79" y="1083.76" width="9.85" height="23.24" fill="#fc8d62" opacity="0.92"/>
<rect x="224.58" y="1093.09" width="9.85" height="13.91" fill="#fc8d62" opacity="0.92"/>
<rect x="235.37" y="1099.59" width="9.85" height="7.41" fill="#fc8d62" opacity="0.92"/>
<rect x="246.15" y="1094.28" width="9.85" height="12.72" fill="#fc8d62" opacity="0.92"/>
<rect x="256.94" y="1094.28" width="9.85" height="12.72" fill="#fc8d62" opacity="0.92"/>
<rect x="267.73" y="1080.92" width="9.85" height="26.08" fill="#fc8d62" opacity="0.92"/>
<rect x="278.51" y="1095.75" width="9.85" height="11.25" fill="#fc8d62" opacity="0.92"/>
<rect x="289.3" y="1099.59" width="9.85" height="7.41" fill="#fc8d62" opacity="0.92"/>
<rect x="300.09" y="1091.72" width="9.85" height="15.28" fill="#fc8d62" opacity="0.92"/>
<rect x="310.88" y="1085.04" width="9.85" height="21.96" fill="#fc8d62" opacity="0.92"/>
<rect x="321.66" y="1083.76" width="9.85" height="23.24" fill="#fc8d62" opacity="0.92"/>
<rect x="332.45" y="1062.71" width="9.85" height="44.29" fill="#fc8d62" opacity="0.92"/>
<rect x="343.24" y="1078.27" width="9.85" height="28.73" fill="#fc8d62" opacity="0.92"/>
<rect x="354.02" y="1085.68" width="9.85" height="21.32" fill="#fc8d62" opacity="0.92"/>
<rect x="364.81" y="1074.06" width="9.85" height="32.94" fill="#fc8d62" opacity="0.92"/>
<rect x="386.38" y="1089.07" width="9.85" height="17.93" fill="#fc8d62" opacity="0.92"/>
<rect x="397.17" y="1099.59" width="9.85" height="7.41" fill="#fc8d62" opacity="0.92"/>
<rect x="407.96" y="1083.12" width="9.85" height="23.88" fill="#fc8d62" opacity="0.92"/>
<rect x="418.75" y="1072.78" width="9.85" height="34.22" fill="#fc8d62" opacity="0.92"/>
<rect x="429.53" y="1101.97" width="9.85" height="5.03" fill="#fc8d62" opacity="0.92"/>
<rect x="440.32" y="1085.68" width="9.85" height="21.32" fill="#fc8d62" opacity="0.92"/>
<line x1="61.1" y1="1097.85" x2="451.5" y2="1097.85" stroke="#a11d21" stroke-width="1.3"/>
<path d="M67.7 1078.27V1102.42M66.7 1078.27h2M66.7 1102.42h2M78.49 1071.32V1100.05M77.49 1071.32h2M77.49 1100.05h2M89.27 1075.43V1100.78M88.27 1075.43h2M88.27 1100.78h2M100.06 1063.26V1100.32M99.06 1063.26h2M99.06 1100.32h2M110.85 1082.84V1104.35M109.85 1082.84h2M109.85 1104.35h2M121.64 1073.79V1101.97M120.64 1073.79h2M120.64 1101.97h2M132.42 1088.79V1105.17M131.42 1088.79h2M131.42 1105.17h2M143.21 1069.94V1100.05M142.21 1069.94h2M142.21 1100.05h2M154 1053.66V1095.11M153 1053.66h2M153 1095.11h2M164.78 1073.79V1103.89M163.78 1073.79h2M163.78 1103.89h2M175.57 1072.23V1103.61M174.57 1072.23h2M174.57 1103.61h2M186.36 1073.24V1103.16M185.36 1073.24h2M185.36 1103.16h2M197.14 1077.08V1103.16M196.14 1077.08h2M196.14 1103.16h2M207.93 1068.02V1103.16M206.93 1068.02h2M206.93 1103.16h2M218.72 1041.67V1100.78M217.72 1041.67h2M217.72 1100.78h2M229.5 1067.29V1103.16M228.5 1067.29h2M228.5 1103.16h2M240.29 1064.45V1107M239.29 1064.45h2M239.29 1107h2M251.08 1058.23V1105.63M250.08 1058.23h2M250.08 1105.63h2M261.87 1032.34V1107M260.87 1032.34h2M260.87 1107h2M272.65 1023.28V1101.97M271.65 1023.28h2M271.65 1101.97h2M283.44 1070.86V1104.8M282.44 1070.86h2M282.44 1104.8h2M294.23 1083.3V1105.17M293.23 1083.3h2M293.23 1105.17h2M305.01 1058.23V1103.89M304.01 1058.23h2M304.01 1103.89h2M315.8 1036.64V1102.7M314.8 1036.64h2M314.8 1102.7h2M326.59 1047.89V1100.05M325.59 1047.89h2M325.59 1100.05h2M337.38 992.62V1093.64M336.38 992.62h2M336.38 1093.64h2M348.16 1037.46V1097.39M347.16 1037.46h2M347.16 1097.39h2M358.95 1046.7V1101.24M357.95 1046.7h2M357.95 1101.24h2M369.74 976.15V1103.61M368.74 976.15h2M368.74 1103.61h2M380.52 1068.57V1107M379.52 1068.57h2M379.52 1107h2M391.31 1049.63V1103.16M390.31 1049.63h2M390.31 1103.16h2M402.1 1063.26V1107M401.1 1063.26h2M401.1 1107h2M412.88 1040.3V1100.78M411.88 1040.3h2M411.88 1100.78h2M423.67 1010.38V1098.4M422.67 1010.38h2M422.67 1098.4h2M434.46 1075.89V1107M433.46 1075.89h2M433.46 1107h2M445.25 1023.74V1104.62M444.25 1023.74h2M444.25 1104.62h2" stroke="#111" stroke-width="0.85" fill="none"/>
<line x1="61.1" y1="968.8" x2="61.1" y2="1107.5" stroke="#333" stroke-width="1"/>
<line x1="60.6" y1="1107.3" x2="451.5" y2="1107.3" stroke="#111" stroke-width="1.3"/>
<line x1="58.6" y1="1107" x2="61.1" y2="1107" stroke="#333" stroke-width="1"/>
<text x="54.3" y="1110.39" font-size="9.49" text-anchor="end" textLength="4.67" lengthAdjust="spacingAndGlyphs">0</text>
<line x1="58.6" y1="1061.25" x2="61.1" y2="1061.25" stroke="#333" stroke-width="1"/>
<text x="54.3" y="1064.64" font-size="9.49" text-anchor="end" textLength="4.67" lengthAdjust="spacingAndGlyphs">5</text>
<line x1="58.6" y1="1015.5" x2="61.1" y2="1015.5" stroke="#333" stroke-width="1"/>
<text x="54.3" y="1018.89" font-size="9.49" text-anchor="end" textLength="9.34" lengthAdjust="spacingAndGlyphs">10</text>
<line x1="58.6" y1="969.75" x2="61.1" y2="969.75" stroke="#333" stroke-width="1"/>
<text x="54.3" y="973.14" font-size="9.49" text-anchor="end" textLength="9.34" lengthAdjust="spacingAndGlyphs">15</text>
<line x1="67.7" y1="1107" x2="67.7" y2="1110" stroke="#333" stroke-width="1"/>
<line x1="78.49" y1="1107" x2="78.49" y2="1110" stroke="#333" stroke-width="1"/>
<line x1="89.27" y1="1107" x2="89.27" y2="1110" stroke="#333" stroke-width="1"/>
<line x1="100.06" y1="1107" x2="100.06" y2="1110" stroke="#333" stroke-width="1"/>
<line x1="110.85" y1="1107" x2="110.85" y2="1110" stroke="#333" stroke-width="1"/>
<line x1="121.64" y1="1107" x2="121.64" y2="1110" stroke="#333" stroke-width="1"/>
<line x1="132.42" y1="1107" x2="132.42" y2="1110" stroke="#333" stroke-width="1"/>
<line x1="143.21" y1="1107" x2="143.21" y2="1110" stroke="#333" stroke-width="1"/>
<line x1="154" y1="1107" x2="154" y2="1110" stroke="#333" stroke-width="1"/>
<line x1="164.78" y1="1107" x2="164.78" y2="1110" stroke="#333" stroke-width="1"/>
<line x1="175.57" y1="1107" x2="175.57" y2="1110" stroke="#333" stroke-width="1"/>
<line x1="186.36" y1="1107" x2="186.36" y2="1110" stroke="#333" stroke-width="1"/>
<line x1="197.14" y1="1107" x2="197.14" y2="1110" stroke="#333" stroke-width="1"/>
<line x1="207.93" y1="1107" x2="207.93" y2="1110" stroke="#333" stroke-width="1"/>
<line x1="218.72" y1="1107" x2="218.72" y2="1110" stroke="#333" stroke-width="1"/>
<line x1="229.5" y1="1107" x2="229.5" y2="1110" stroke="#333" stroke-width="1"/>
<line x1="240.29" y1="1107" x2="240.29" y2="1110" stroke="#333" stroke-width="1"/>
<line x1="251.08" y1="1107" x2="251.08" y2="1110" stroke="#333" stroke-width="1"/>
<line x1="261.87" y1="1107" x2="261.87" y2="1110" stroke="#333" stroke-width="1"/>
<line x1="272.65" y1="1107" x2="272.65" y2="1110" stroke="#333" stroke-width="1"/>
<line x1="283.44" y1="1107" x2="283.44" y2="1110" stroke="#333" stroke-width="1"/>
<line x1="294.23" y1="1107" x2="294.23" y2="1110" stroke="#333" stroke-width="1"/>
<line x1="305.01" y1="1107" x2="305.01" y2="1110" stroke="#333" stroke-width="1"/>
<line x1="315.8" y1="1107" x2="315.8" y2="1110" stroke="#333" stroke-width="1"/>
<line x1="326.59" y1="1107" x2="326.59" y2="1110" stroke="#333" stroke-width="1"/>
<line x1="337.38" y1="1107" x2="337.38" y2="1110" stroke="#333" stroke-width="1"/>
<line x1="348.16" y1="1107" x2="348.16" y2="1110" stroke="#333" stroke-width="1"/>
<line x1="358.95" y1="1107" x2="358.95" y2="1110" stroke="#333" stroke-width="1"/>
<line x1="369.74" y1="1107" x2="369.74" y2="1110" stroke="#333" stroke-width="1"/>
<line x1="380.52" y1="1107" x2="380.52" y2="1110" stroke="#333" stroke-width="1"/>
<line x1="391.31" y1="1107" x2="391.31" y2="1110" stroke="#333" stroke-width="1"/>
<line x1="402.1" y1="1107" x2="402.1" y2="1110" stroke="#333" stroke-width="1"/>
<line x1="412.88" y1="1107" x2="412.88" y2="1110" stroke="#333" stroke-width="1"/>
<line x1="423.67" y1="1107" x2="423.67" y2="1110" stroke="#333" stroke-width="1"/>
<line x1="434.46" y1="1107" x2="434.46" y2="1110" stroke="#333" stroke-width="1"/>
<line x1="445.25" y1="1107" x2="445.25" y2="1110" stroke="#333" stroke-width="1"/>
<text x="69.8" y="1114.5" font-size="9.03" text-anchor="end" transform="rotate(-90 69.8 1114.5)">L2_3_Cux2_Frem3</text>
<text x="80.59" y="1114.5" font-size="9.03" text-anchor="end" transform="rotate(-90 80.59 1114.5)">L2_Cux2_Lamp5</text>
<text x="91.37" y="1114.5" font-size="9.03" text-anchor="end" transform="rotate(-90 91.37 1114.5)">L3_Cux2_Prss12</text>
<text x="102.16" y="1114.5" font-size="9.03" text-anchor="end" transform="rotate(-90 102.16 1114.5)">L4_Rorb_Arhgap15</text>
<text x="112.95" y="1114.5" font-size="9.03" text-anchor="end" transform="rotate(-90 112.95 1114.5)">L4_Rorb_Met</text>
<text x="123.73" y="1114.5" font-size="9.03" text-anchor="end" transform="rotate(-90 123.73 1114.5)">L4_Rorb_Mme</text>
<text x="134.52" y="1114.5" font-size="9.03" text-anchor="end" transform="rotate(-90 134.52 1114.5)">L5_6_Fezf2_Lrrk1_Pcp4</text>
<text x="145.31" y="1114.5" font-size="9.03" text-anchor="end" transform="rotate(-90 145.31 1114.5)">L5_6_Fezf2_Lrrk1_Sema3e</text>
<text x="156.1" y="1114.5" font-size="9.03" text-anchor="end" transform="rotate(-90 156.1 1114.5)">L5_6_Fezf2_Tle4_Abo</text>
<text x="166.88" y="1114.5" font-size="9.03" text-anchor="end" transform="rotate(-90 166.88 1114.5)">L5_6_Fezf2_Tle4_Htr2c</text>
<text x="177.67" y="1114.5" font-size="9.03" text-anchor="end" transform="rotate(-90 177.67 1114.5)">L5_6_Fezf2_Tle4_Scube1</text>
<text x="188.46" y="1114.5" font-size="9.03" text-anchor="end" transform="rotate(-90 188.46 1114.5)">L5_6_Themis_Ntng2</text>
<text x="199.24" y="1114.5" font-size="9.03" text-anchor="end" transform="rotate(-90 199.24 1114.5)">L5_6_Themis_Sema3a</text>
<text x="210.03" y="1114.5" font-size="9.03" text-anchor="end" transform="rotate(-90 210.03 1114.5)">Id2_Lamp5_Crh</text>
<text x="220.82" y="1114.5" font-size="9.03" text-anchor="end" transform="rotate(-90 220.82 1114.5)">Id2_Lamp5_Nmbr</text>
<text x="231.6" y="1114.5" font-size="9.03" text-anchor="end" transform="rotate(-90 231.6 1114.5)">Id2_Lamp5_Nos1</text>
<text x="242.39" y="1114.5" font-size="9.03" text-anchor="end" transform="rotate(-90 242.39 1114.5)">Id2_Nckap5</text>
<text x="253.18" y="1114.5" font-size="9.03" text-anchor="end" transform="rotate(-90 253.18 1114.5)">Id2_Pax6</text>
<text x="263.97" y="1114.5" font-size="9.03" text-anchor="end" transform="rotate(-90 263.97 1114.5)">Pvalb_Crh</text>
<text x="274.75" y="1114.5" font-size="9.03" text-anchor="end" transform="rotate(-90 274.75 1114.5)">Pvalb_Lgr5</text>
<text x="285.54" y="1114.5" font-size="9.03" text-anchor="end" transform="rotate(-90 285.54 1114.5)">Pvalb_Nos1</text>
<text x="296.33" y="1114.5" font-size="9.03" text-anchor="end" transform="rotate(-90 296.33 1114.5)">Pvalb_Sulf1</text>
<text x="307.11" y="1114.5" font-size="9.03" text-anchor="end" transform="rotate(-90 307.11 1114.5)">Sst_Calb1</text>
<text x="317.9" y="1114.5" font-size="9.03" text-anchor="end" transform="rotate(-90 317.9 1114.5)">Sst_Isoc1</text>
<text x="328.69" y="1114.5" font-size="9.03" text-anchor="end" transform="rotate(-90 328.69 1114.5)">Sst_Nos1</text>
<text x="339.48" y="1114.5" font-size="9.03" text-anchor="end" transform="rotate(-90 339.48 1114.5)">Sst_Stk32a</text>
<text x="350.26" y="1114.5" font-size="9.03" text-anchor="end" transform="rotate(-90 350.26 1114.5)">Sst_Tac1</text>
<text x="361.05" y="1114.5" font-size="9.03" text-anchor="end" transform="rotate(-90 361.05 1114.5)">Sst_Tac3</text>
<text x="371.84" y="1114.5" font-size="9.03" text-anchor="end" transform="rotate(-90 371.84 1114.5)">Sst_Th</text>
<text x="382.62" y="1114.5" font-size="9.03" text-anchor="end" transform="rotate(-90 382.62 1114.5)">Vip_Abi3bp</text>
<text x="393.41" y="1114.5" font-size="9.03" text-anchor="end" transform="rotate(-90 393.41 1114.5)">Vip_Cbln1</text>
<text x="404.2" y="1114.5" font-size="9.03" text-anchor="end" transform="rotate(-90 404.2 1114.5)">Vip_Crh</text>
<text x="414.98" y="1114.5" font-size="9.03" text-anchor="end" transform="rotate(-90 414.98 1114.5)">Vip_Nrg1</text>
<text x="425.77" y="1114.5" font-size="9.03" text-anchor="end" transform="rotate(-90 425.77 1114.5)">Vip_Sema3c</text>
<text x="436.56" y="1114.5" font-size="9.03" text-anchor="end" transform="rotate(-90 436.56 1114.5)">Vip_Sstr1</text>
<text x="447.35" y="1114.5" font-size="9.03" text-anchor="end" transform="rotate(-90 447.35 1114.5)">Vip_Tyr</text>
<text x="27.2" y="1038.4" font-size="8.45" text-anchor="middle" transform="rotate(-90 27.2 1038.4)">Enrichment statistic</text>
<text x="37" y="1038.4" font-size="8.45" text-anchor="middle" transform="rotate(-90 37 1038.4)">for epilepsy–related genes</text>
<rect x="77.9" y="969.8" width="11" height="11" fill="#66c2a5"/>
<rect x="77.9" y="983" width="11" height="11" fill="#fc8d62"/>
<text x="92.9" y="978.49" font-size="9.44" textLength="64.51" lengthAdjust="spacingAndGlyphs">Principal neurons</text>
<text x="92.9" y="991.49" font-size="9.44" textLength="90.04" lengthAdjust="spacingAndGlyphs">GABAergic interneurons</text>
<line x1="531.1" y1="1089.85" x2="922.3" y2="1089.85" stroke="#ebebeb" stroke-width="1"/>
<line x1="531.1" y1="1072.7" x2="922.3" y2="1072.7" stroke="#ebebeb" stroke-width="1"/>
<line x1="531.1" y1="1055.55" x2="922.3" y2="1055.55" stroke="#ebebeb" stroke-width="1"/>
<line x1="531.1" y1="1038.4" x2="922.3" y2="1038.4" stroke="#ebebeb" stroke-width="1"/>
<line x1="531.1" y1="1021.25" x2="922.3" y2="1021.25" stroke="#ebebeb" stroke-width="1"/>
<line x1="531.1" y1="1004.1" x2="922.3" y2="1004.1" stroke="#ebebeb" stroke-width="1"/>
<line x1="531.1" y1="986.95" x2="922.3" y2="986.95" stroke="#ebebeb" stroke-width="1"/>
<line x1="531.1" y1="969.8" x2="922.3" y2="969.8" stroke="#ebebeb" stroke-width="1"/>
<rect x="532.85" y="1092.42" width="9.9" height="14.58" fill="#66c2a5" opacity="0.92"/>
<rect x="543.65" y="1067.9" width="9.9" height="39.1" fill="#66c2a5" opacity="0.92"/>
<rect x="554.45" y="1097.91" width="9.9" height="9.09" fill="#66c2a5" opacity="0.92"/>
<rect x="565.25" y="1103.57" width="9.9" height="3.43" fill="#66c2a5" opacity="0.92"/>
<rect x="586.85" y="1103.57" width="9.9" height="3.43" fill="#66c2a5" opacity="0.92"/>
<rect x="597.65" y="1101.03" width="9.9" height="5.97" fill="#66c2a5" opacity="0.92"/>
<rect x="608.45" y="1101.99" width="9.9" height="5.01" fill="#66c2a5" opacity="0.92"/>
<rect x="619.25" y="1094.31" width="9.9" height="12.69" fill="#66c2a5" opacity="0.92"/>
<rect x="630.05" y="1094.31" width="9.9" height="12.69" fill="#66c2a5" opacity="0.92"/>
<rect x="640.85" y="1103.57" width="9.9" height="3.43" fill="#66c2a5" opacity="0.92"/>
<rect x="651.65" y="1103.57" width="9.9" height="3.43" fill="#66c2a5" opacity="0.92"/>
<rect x="662.45" y="1095.75" width="9.9" height="11.25" fill="#66c2a5" opacity="0.92"/>
<rect x="673.25" y="1097.91" width="9.9" height="9.09" fill="#fc8d62" opacity="0.92"/>
<rect x="694.85" y="1102.71" width="9.9" height="4.29" fill="#fc8d62" opacity="0.92"/>
<rect x="705.65" y="1097.91" width="9.9" height="9.09" fill="#fc8d62" opacity="0.92"/>
<rect x="748.85" y="1096.47" width="9.9" height="10.53" fill="#fc8d62" opacity="0.92"/>
<rect x="759.65" y="1095.75" width="9.9" height="11.25" fill="#fc8d62" opacity="0.92"/>
<rect x="770.45" y="1093.14" width="9.9" height="13.86" fill="#fc8d62" opacity="0.92"/>
<rect x="781.25" y="1086.93" width="9.9" height="20.07" fill="#fc8d62" opacity="0.92"/>
<rect x="792.05" y="1095.06" width="9.9" height="11.94" fill="#fc8d62" opacity="0.92"/>
<rect x="813.65" y="1095.06" width="9.9" height="11.94" fill="#fc8d62" opacity="0.92"/>
<rect x="856.85" y="1090.98" width="9.9" height="16.02" fill="#fc8d62" opacity="0.92"/>
<rect x="867.65" y="1097.91" width="9.9" height="9.09" fill="#fc8d62" opacity="0.92"/>
<rect x="878.45" y="1081.62" width="9.9" height="25.38" fill="#fc8d62" opacity="0.92"/>
<rect x="889.25" y="1096.95" width="9.9" height="10.05" fill="#fc8d62" opacity="0.92"/>
<rect x="900.05" y="1100.31" width="9.9" height="6.69" fill="#fc8d62" opacity="0.92"/>
<line x1="531.1" y1="1103.57" x2="922.3" y2="1103.57" stroke="#a11d21" stroke-width="1.3"/>
<path d="M537.8 1058.29V1103.57M536.8 1058.29h2M536.8 1103.57h2M548.6 969.8V1095.34M547.6 969.8h2M547.6 1095.34h2M559.4 1075.1V1105.08M558.4 1075.1h2M558.4 1105.08h2M570.2 1083.81V1107M569.2 1083.81h2M569.2 1107h2M581 1098.42V1107M580 1098.42h2M580 1107h2M591.8 1089.3V1107M590.8 1089.3h2M590.8 1107h2M602.6 1084.02V1105.97M601.6 1084.02h2M601.6 1105.97h2M613.4 1084.53V1105.97M612.4 1084.53h2M612.4 1105.97h2M624.2 1063.78V1104.36M623.2 1063.78h2M623.2 1104.36h2M635 1058.29V1104.36M634 1058.29h2M634 1104.36h2M645.8 1081.62V1107M644.8 1081.62h2M644.8 1107h2M656.6 1089.16V1107M655.6 1089.16h2M655.6 1107h2M667.4 1068.76V1104.36M666.4 1068.76h2M666.4 1104.36h2M678.2 1065.5V1105.63M677.2 1065.5h2M677.2 1105.63h2M689 1079.22V1107M688 1079.22h2M688 1107h2M699.8 1078.33V1107M698.8 1078.33h2M698.8 1107h2M710.6 1044.23V1105.97M709.6 1044.23h2M709.6 1105.97h2M721.4 1075.79V1107M720.4 1075.79h2M720.4 1107h2M732.2 1043.55V1107M731.2 1043.55h2M731.2 1107h2M743 1064.47V1107M742 1064.47h2M742 1107h2M753.8 1060.15V1105.97M752.8 1060.15h2M752.8 1105.97h2M764.6 1064.47V1105.97M763.6 1064.47h2M763.6 1105.97h2M775.4 1044.23V1105.29M774.4 1044.23h2M774.4 1105.29h2M786.2 1017.13V1104.26M785.2 1017.13h2M785.2 1104.26h2M797 1053.49V1105.63M796 1053.49h2M796 1105.63h2M807.8 1066.53V1107M806.8 1066.53h2M806.8 1107h2M818.6 1052.46V1105.63M817.6 1052.46h2M817.6 1105.63h2M829.4 1081.62V1107M828.4 1081.62h2M828.4 1107h2M840.2 1025.37V1107M839.2 1025.37h2M839.2 1107h2M851 1054.52V1107M850 1054.52h2M850 1107h2M861.8 1033.26V1105.29M860.8 1033.26h2M860.8 1105.29h2M872.6 1042.17V1105.97M871.6 1042.17h2M871.6 1105.97h2M883.4 1008.9V1102.88M882.4 1008.9h2M882.4 1102.88h2M894.2 1038.06V1105.97M893.2 1038.06h2M893.2 1105.97h2M905 1060.69V1106.31M904 1060.69h2M904 1106.31h2M915.8 1054.18V1107M914.8 1054.18h2M914.8 1107h2" stroke="#111" stroke-width="0.85" fill="none"/>
<line x1="531.1" y1="968.8" x2="531.1" y2="1107.5" stroke="#333" stroke-width="1"/>
<line x1="530.6" y1="1107.3" x2="922.3" y2="1107.3" stroke="#111" stroke-width="1.3"/>
<line x1="528.6" y1="1107" x2="531.1" y2="1107" stroke="#333" stroke-width="1"/>
<text x="524.3" y="1110.39" font-size="9.49" text-anchor="end" textLength="4.67" lengthAdjust="spacingAndGlyphs">0</text>
<line x1="528.6" y1="1072.7" x2="531.1" y2="1072.7" stroke="#333" stroke-width="1"/>
<text x="524.3" y="1076.09" font-size="9.49" text-anchor="end" textLength="9.34" lengthAdjust="spacingAndGlyphs">10</text>
<line x1="528.6" y1="1038.4" x2="531.1" y2="1038.4" stroke="#333" stroke-width="1"/>
<text x="524.3" y="1041.79" font-size="9.49" text-anchor="end" textLength="9.34" lengthAdjust="spacingAndGlyphs">20</text>
<line x1="528.6" y1="1004.1" x2="531.1" y2="1004.1" stroke="#333" stroke-width="1"/>
<text x="524.3" y="1007.49" font-size="9.49" text-anchor="end" textLength="9.34" lengthAdjust="spacingAndGlyphs">30</text>
<line x1="528.6" y1="969.8" x2="531.1" y2="969.8" stroke="#333" stroke-width="1"/>
<text x="524.3" y="973.19" font-size="9.49" text-anchor="end" textLength="9.34" lengthAdjust="spacingAndGlyphs">40</text>
<line x1="537.8" y1="1107" x2="537.8" y2="1110" stroke="#333" stroke-width="1"/>
<line x1="548.6" y1="1107" x2="548.6" y2="1110" stroke="#333" stroke-width="1"/>
<line x1="559.4" y1="1107" x2="559.4" y2="1110" stroke="#333" stroke-width="1"/>
<line x1="570.2" y1="1107" x2="570.2" y2="1110" stroke="#333" stroke-width="1"/>
<line x1="581" y1="1107" x2="581" y2="1110" stroke="#333" stroke-width="1"/>
<line x1="591.8" y1="1107" x2="591.8" y2="1110" stroke="#333" stroke-width="1"/>
<line x1="602.6" y1="1107" x2="602.6" y2="1110" stroke="#333" stroke-width="1"/>
<line x1="613.4" y1="1107" x2="613.4" y2="1110" stroke="#333" stroke-width="1"/>
<line x1="624.2" y1="1107" x2="624.2" y2="1110" stroke="#333" stroke-width="1"/>
<line x1="635" y1="1107" x2="635" y2="1110" stroke="#333" stroke-width="1"/>
<line x1="645.8" y1="1107" x2="645.8" y2="1110" stroke="#333" stroke-width="1"/>
<line x1="656.6" y1="1107" x2="656.6" y2="1110" stroke="#333" stroke-width="1"/>
<line x1="667.4" y1="1107" x2="667.4" y2="1110" stroke="#333" stroke-width="1"/>
<line x1="678.2" y1="1107" x2="678.2" y2="1110" stroke="#333" stroke-width="1"/>
<line x1="689" y1="1107" x2="689" y2="1110" stroke="#333" stroke-width="1"/>
<line x1="699.8" y1="1107" x2="699.8" y2="1110" stroke="#333" stroke-width="1"/>
<line x1="710.6" y1="1107" x2="710.6" y2="1110" stroke="#333" stroke-width="1"/>
<line x1="721.4" y1="1107" x2="721.4" y2="1110" stroke="#333" stroke-width="1"/>
<line x1="732.2" y1="1107" x2="732.2" y2="1110" stroke="#333" stroke-width="1"/>
<line x1="743" y1="1107" x2="743" y2="1110" stroke="#333" stroke-width="1"/>
<line x1="753.8" y1="1107" x2="753.8" y2="1110" stroke="#333" stroke-width="1"/>
<line x1="764.6" y1="1107" x2="764.6" y2="1110" stroke="#333" stroke-width="1"/>
<line x1="775.4" y1="1107" x2="775.4" y2="1110" stroke="#333" stroke-width="1"/>
<line x1="786.2" y1="1107" x2="786.2" y2="1110" stroke="#333" stroke-width="1"/>
<line x1="797" y1="1107" x2="797" y2="1110" stroke="#333" stroke-width="1"/>
<line x1="807.8" y1="1107" x2="807.8" y2="1110" stroke="#333" stroke-width="1"/>
<line x1="818.6" y1="1107" x2="818.6" y2="1110" stroke="#333" stroke-width="1"/>
<line x1="829.4" y1="1107" x2="829.4" y2="1110" stroke="#333" stroke-width="1"/>
<line x1="840.2" y1="1107" x2="840.2" y2="1110" stroke="#333" stroke-width="1"/>
<line x1="851" y1="1107" x2="851" y2="1110" stroke="#333" stroke-width="1"/>
<line x1="861.8" y1="1107" x2="861.8" y2="1110" stroke="#333" stroke-width="1"/>
<line x1="872.6" y1="1107" x2="872.6" y2="1110" stroke="#333" stroke-width="1"/>
<line x1="883.4" y1="1107" x2="883.4" y2="1110" stroke="#333" stroke-width="1"/>
<line x1="894.2" y1="1107" x2="894.2" y2="1110" stroke="#333" stroke-width="1"/>
<line x1="905" y1="1107" x2="905" y2="1110" stroke="#333" stroke-width="1"/>
<line x1="915.8" y1="1107" x2="915.8" y2="1110" stroke="#333" stroke-width="1"/>
<text x="539.9" y="1114.5" font-size="9.03" text-anchor="end" transform="rotate(-90 539.9 1114.5)">L2_3_Cux2_Frem3</text>
<text x="550.7" y="1114.5" font-size="9.03" text-anchor="end" transform="rotate(-90 550.7 1114.5)">L2_Cux2_Lamp5</text>
<text x="561.5" y="1114.5" font-size="9.03" text-anchor="end" transform="rotate(-90 561.5 1114.5)">L3_Cux2_Prss12</text>
<text x="572.3" y="1114.5" font-size="9.03" text-anchor="end" transform="rotate(-90 572.3 1114.5)">L4_Rorb_Arhgap15</text>
<text x="583.1" y="1114.5" font-size="9.03" text-anchor="end" transform="rotate(-90 583.1 1114.5)">L4_Rorb_Met</text>
<text x="593.9" y="1114.5" font-size="9.03" text-anchor="end" transform="rotate(-90 593.9 1114.5)">L4_Rorb_Mme</text>
<text x="604.7" y="1114.5" font-size="9.03" text-anchor="end" transform="rotate(-90 604.7 1114.5)">L5_6_Fezf2_Lrrk1_Pcp4</text>
<text x="615.5" y="1114.5" font-size="9.03" text-anchor="end" transform="rotate(-90 615.5 1114.5)">L5_6_Fezf2_Lrrk1_Sema3e</text>
<text x="626.3" y="1114.5" font-size="9.03" text-anchor="end" transform="rotate(-90 626.3 1114.5)">L5_6_Fezf2_Tle4_Abo</text>
<text x="637.1" y="1114.5" font-size="9.03" text-anchor="end" transform="rotate(-90 637.1 1114.5)">L5_6_Fezf2_Tle4_Htr2c</text>
<text x="647.9" y="1114.5" font-size="9.03" text-anchor="end" transform="rotate(-90 647.9 1114.5)">L5_6_Fezf2_Tle4_Scube1</text>
<text x="658.7" y="1114.5" font-size="9.03" text-anchor="end" transform="rotate(-90 658.7 1114.5)">L5_6_Themis_Ntng2</text>
<text x="669.5" y="1114.5" font-size="9.03" text-anchor="end" transform="rotate(-90 669.5 1114.5)">L5_6_Themis_Sema3a</text>
<text x="680.3" y="1114.5" font-size="9.03" text-anchor="end" transform="rotate(-90 680.3 1114.5)">Id2_Lamp5_Crh</text>
<text x="691.1" y="1114.5" font-size="9.03" text-anchor="end" transform="rotate(-90 691.1 1114.5)">Id2_Lamp5_Nmbr</text>
<text x="701.9" y="1114.5" font-size="9.03" text-anchor="end" transform="rotate(-90 701.9 1114.5)">Id2_Lamp5_Nos1</text>
<text x="712.7" y="1114.5" font-size="9.03" text-anchor="end" transform="rotate(-90 712.7 1114.5)">Id2_Nckap5</text>
<text x="723.5" y="1114.5" font-size="9.03" text-anchor="end" transform="rotate(-90 723.5 1114.5)">Id2_Pax6</text>
<text x="734.3" y="1114.5" font-size="9.03" text-anchor="end" transform="rotate(-90 734.3 1114.5)">Pvalb_Crh</text>
<text x="745.1" y="1114.5" font-size="9.03" text-anchor="end" transform="rotate(-90 745.1 1114.5)">Pvalb_Lgr5</text>
<text x="755.9" y="1114.5" font-size="9.03" text-anchor="end" transform="rotate(-90 755.9 1114.5)">Pvalb_Nos1</text>
<text x="766.7" y="1114.5" font-size="9.03" text-anchor="end" transform="rotate(-90 766.7 1114.5)">Pvalb_Sulf1</text>
<text x="777.5" y="1114.5" font-size="9.03" text-anchor="end" transform="rotate(-90 777.5 1114.5)">Sst_Calb1</text>
<text x="788.3" y="1114.5" font-size="9.03" text-anchor="end" transform="rotate(-90 788.3 1114.5)">Sst_Isoc1</text>
<text x="799.1" y="1114.5" font-size="9.03" text-anchor="end" transform="rotate(-90 799.1 1114.5)">Sst_Nos1</text>
<text x="809.9" y="1114.5" font-size="9.03" text-anchor="end" transform="rotate(-90 809.9 1114.5)">Sst_Stk32a</text>
<text x="820.7" y="1114.5" font-size="9.03" text-anchor="end" transform="rotate(-90 820.7 1114.5)">Sst_Tac1</text>
<text x="831.5" y="1114.5" font-size="9.03" text-anchor="end" transform="rotate(-90 831.5 1114.5)">Sst_Tac3</text>
<text x="842.3" y="1114.5" font-size="9.03" text-anchor="end" transform="rotate(-90 842.3 1114.5)">Sst_Th</text>
<text x="853.1" y="1114.5" font-size="9.03" text-anchor="end" transform="rotate(-90 853.1 1114.5)">Vip_Abi3bp</text>
<text x="863.9" y="1114.5" font-size="9.03" text-anchor="end" transform="rotate(-90 863.9 1114.5)">Vip_Cbln1</text>
<text x="874.7" y="1114.5" font-size="9.03" text-anchor="end" transform="rotate(-90 874.7 1114.5)">Vip_Crh</text>
<text x="885.5" y="1114.5" font-size="9.03" text-anchor="end" transform="rotate(-90 885.5 1114.5)">Vip_Nrg1</text>
<text x="896.3" y="1114.5" font-size="9.03" text-anchor="end" transform="rotate(-90 896.3 1114.5)">Vip_Sema3c</text>
<text x="907.1" y="1114.5" font-size="9.03" text-anchor="end" transform="rotate(-90 907.1 1114.5)">Vip_Sstr1</text>
<text x="917.9" y="1114.5" font-size="9.03" text-anchor="end" transform="rotate(-90 917.9 1114.5)">Vip_Tyr</text>
<text x="498.6" y="1038.4" font-size="8.45" text-anchor="middle" transform="rotate(-90 498.6 1038.4)">Enrichment statistic</text>
<text x="507.2" y="1038.4" font-size="8.45" text-anchor="middle" transform="rotate(-90 507.2 1038.4)">for GWAS genes</text>
<rect x="567.9" y="969.8" width="11" height="11" fill="#66c2a5"/>
<rect x="567.9" y="982.5" width="11" height="11" fill="#fc8d62"/>
<text x="582.9" y="978.49" font-size="9.44" textLength="64.51" lengthAdjust="spacingAndGlyphs">Principal neurons</text>
<text x="582.9" y="990.99" font-size="9.44" textLength="90.04" lengthAdjust="spacingAndGlyphs">GABAergic interneurons</text>
<text x="19.5" y="25.3" font-size="21.4" font-weight="bold" style="fill:#000;stroke:none" textLength="10.83" lengthAdjust="spacingAndGlyphs">a</text>
<text x="479.9" y="25.1" font-size="21.4" font-weight="bold" style="fill:#000;stroke:none" textLength="11.89" lengthAdjust="spacingAndGlyphs">b</text>
<text x="486" y="289.3" font-size="21.4" font-weight="bold" style="fill:#000;stroke:none" textLength="10.83" lengthAdjust="spacingAndGlyphs">c</text>
<text x="19.8" y="568.9" font-size="21.4" font-weight="bold" style="fill:#000;stroke:none" textLength="11.89" lengthAdjust="spacingAndGlyphs">d</text>
<text x="19.8" y="974.1" font-size="21.4" font-weight="bold" style="fill:#000;stroke:none" textLength="10.83" lengthAdjust="spacingAndGlyphs">e</text>
<text x="491.4" y="974.4" font-size="21.4" font-weight="bold" style="fill:#000;stroke:none" textLength="6.48" lengthAdjust="spacingAndGlyphs">f</text>
<rect x="0" y="1246" width="1004" height="1" fill="#000"/>
</svg>
</body></html>
